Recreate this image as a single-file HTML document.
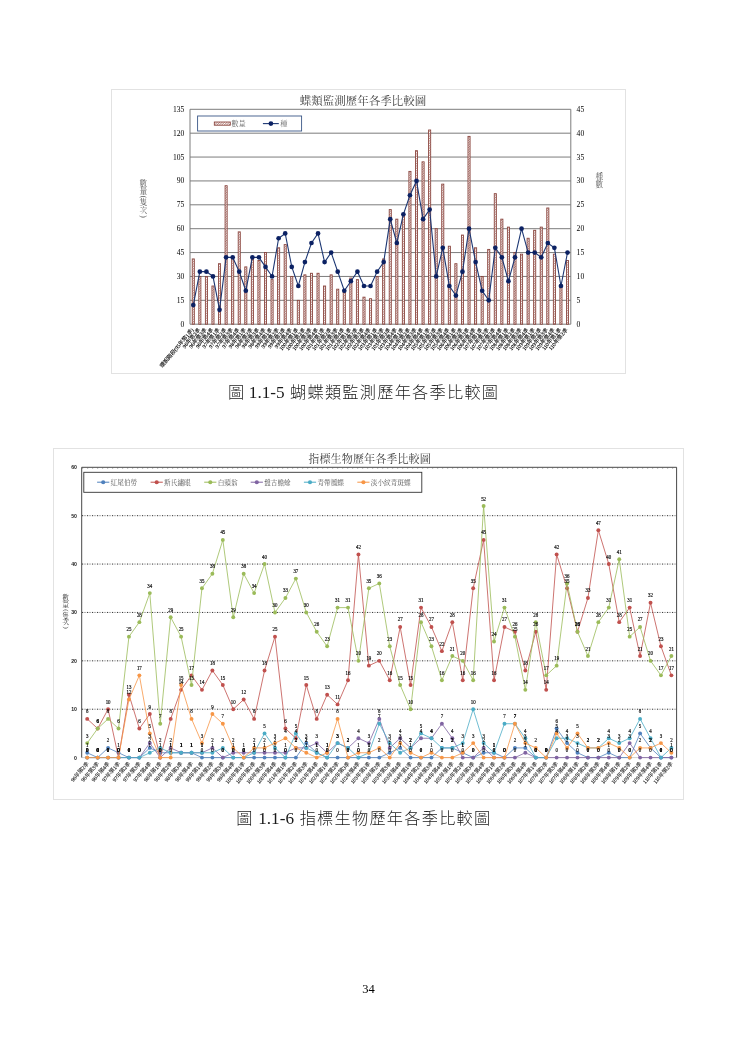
<!DOCTYPE html>
<html lang="zh-Hant"><head><meta charset="utf-8"><title>圖 1.1-5 / 1.1-6</title>
<style>html,body{margin:0;padding:0;background:#fff}body{width:737px;height:1042px;overflow:hidden}</style></head>
<body>
<svg width="737" height="1042" viewBox="0 0 737 1042" style="display:block">
<defs><pattern id="hatch" patternUnits="userSpaceOnUse" width="1.7" height="1.7" patternTransform="rotate(-45)"><rect width="1.7" height="1.7" fill="#fff"/><rect width="1.7" height="0.55" fill="#9a524a"/></pattern></defs>
<rect width="737" height="1042" fill="#fff"/>
<rect x="111.5" y="89.5" width="514.0" height="284.0" fill="#fff" stroke="#e2e2e2" stroke-width="1"/>
<line x1="190.0" x2="570.8" y1="324.20" y2="324.20" stroke="#7c7c7c" stroke-width="1"/>
<text transform="translate(184.40,326.70) scale(0.3800,0.3800)" font-size="20" text-anchor="end" fill="#000" font-weight="normal" font-family='"Liberation Serif","Noto Serif CJK SC","Noto Serif CJK TC",serif' >0</text>
<text transform="translate(576.60,326.70) scale(0.3800,0.3800)" font-size="20" text-anchor="start" fill="#000" font-weight="normal" font-family='"Liberation Serif","Noto Serif CJK SC","Noto Serif CJK TC",serif' >0</text>
<line x1="190.0" x2="570.8" y1="300.32" y2="300.32" stroke="#7c7c7c" stroke-width="1"/>
<text transform="translate(184.40,302.82) scale(0.3800,0.3800)" font-size="20" text-anchor="end" fill="#000" font-weight="normal" font-family='"Liberation Serif","Noto Serif CJK SC","Noto Serif CJK TC",serif' >15</text>
<text transform="translate(576.60,302.82) scale(0.3800,0.3800)" font-size="20" text-anchor="start" fill="#000" font-weight="normal" font-family='"Liberation Serif","Noto Serif CJK SC","Noto Serif CJK TC",serif' >5</text>
<line x1="190.0" x2="570.8" y1="276.44" y2="276.44" stroke="#7c7c7c" stroke-width="1"/>
<text transform="translate(184.40,278.94) scale(0.3800,0.3800)" font-size="20" text-anchor="end" fill="#000" font-weight="normal" font-family='"Liberation Serif","Noto Serif CJK SC","Noto Serif CJK TC",serif' >30</text>
<text transform="translate(576.60,278.94) scale(0.3800,0.3800)" font-size="20" text-anchor="start" fill="#000" font-weight="normal" font-family='"Liberation Serif","Noto Serif CJK SC","Noto Serif CJK TC",serif' >10</text>
<line x1="190.0" x2="570.8" y1="252.57" y2="252.57" stroke="#7c7c7c" stroke-width="1"/>
<text transform="translate(184.40,255.07) scale(0.3800,0.3800)" font-size="20" text-anchor="end" fill="#000" font-weight="normal" font-family='"Liberation Serif","Noto Serif CJK SC","Noto Serif CJK TC",serif' >45</text>
<text transform="translate(576.60,255.07) scale(0.3800,0.3800)" font-size="20" text-anchor="start" fill="#000" font-weight="normal" font-family='"Liberation Serif","Noto Serif CJK SC","Noto Serif CJK TC",serif' >15</text>
<line x1="190.0" x2="570.8" y1="228.69" y2="228.69" stroke="#7c7c7c" stroke-width="1"/>
<text transform="translate(184.40,231.19) scale(0.3800,0.3800)" font-size="20" text-anchor="end" fill="#000" font-weight="normal" font-family='"Liberation Serif","Noto Serif CJK SC","Noto Serif CJK TC",serif' >60</text>
<text transform="translate(576.60,231.19) scale(0.3800,0.3800)" font-size="20" text-anchor="start" fill="#000" font-weight="normal" font-family='"Liberation Serif","Noto Serif CJK SC","Noto Serif CJK TC",serif' >20</text>
<line x1="190.0" x2="570.8" y1="204.81" y2="204.81" stroke="#7c7c7c" stroke-width="1"/>
<text transform="translate(184.40,207.31) scale(0.3800,0.3800)" font-size="20" text-anchor="end" fill="#000" font-weight="normal" font-family='"Liberation Serif","Noto Serif CJK SC","Noto Serif CJK TC",serif' >75</text>
<text transform="translate(576.60,207.31) scale(0.3800,0.3800)" font-size="20" text-anchor="start" fill="#000" font-weight="normal" font-family='"Liberation Serif","Noto Serif CJK SC","Noto Serif CJK TC",serif' >25</text>
<line x1="190.0" x2="570.8" y1="180.93" y2="180.93" stroke="#7c7c7c" stroke-width="1"/>
<text transform="translate(184.40,183.43) scale(0.3800,0.3800)" font-size="20" text-anchor="end" fill="#000" font-weight="normal" font-family='"Liberation Serif","Noto Serif CJK SC","Noto Serif CJK TC",serif' >90</text>
<text transform="translate(576.60,183.43) scale(0.3800,0.3800)" font-size="20" text-anchor="start" fill="#000" font-weight="normal" font-family='"Liberation Serif","Noto Serif CJK SC","Noto Serif CJK TC",serif' >30</text>
<line x1="190.0" x2="570.8" y1="157.06" y2="157.06" stroke="#7c7c7c" stroke-width="1"/>
<text transform="translate(184.40,159.56) scale(0.3800,0.3800)" font-size="20" text-anchor="end" fill="#000" font-weight="normal" font-family='"Liberation Serif","Noto Serif CJK SC","Noto Serif CJK TC",serif' >105</text>
<text transform="translate(576.60,159.56) scale(0.3800,0.3800)" font-size="20" text-anchor="start" fill="#000" font-weight="normal" font-family='"Liberation Serif","Noto Serif CJK SC","Noto Serif CJK TC",serif' >35</text>
<line x1="190.0" x2="570.8" y1="133.18" y2="133.18" stroke="#7c7c7c" stroke-width="1"/>
<text transform="translate(184.40,135.68) scale(0.3800,0.3800)" font-size="20" text-anchor="end" fill="#000" font-weight="normal" font-family='"Liberation Serif","Noto Serif CJK SC","Noto Serif CJK TC",serif' >120</text>
<text transform="translate(576.60,135.68) scale(0.3800,0.3800)" font-size="20" text-anchor="start" fill="#000" font-weight="normal" font-family='"Liberation Serif","Noto Serif CJK SC","Noto Serif CJK TC",serif' >40</text>
<line x1="190.0" x2="570.8" y1="109.30" y2="109.30" stroke="#7c7c7c" stroke-width="1"/>
<text transform="translate(184.40,111.80) scale(0.3800,0.3800)" font-size="20" text-anchor="end" fill="#000" font-weight="normal" font-family='"Liberation Serif","Noto Serif CJK SC","Noto Serif CJK TC",serif' >135</text>
<text transform="translate(576.60,111.80) scale(0.3800,0.3800)" font-size="20" text-anchor="start" fill="#000" font-weight="normal" font-family='"Liberation Serif","Noto Serif CJK SC","Noto Serif CJK TC",serif' >45</text>
<line x1="190.0" x2="190.0" y1="109.3" y2="324.2" stroke="#7c7c7c" stroke-width="1"/>
<line x1="570.8" x2="570.8" y1="109.3" y2="324.2" stroke="#7c7c7c" stroke-width="1"/>
<rect x="192.23" y="258.93" width="2.1" height="65.27" fill="url(#hatch)" stroke="#874039" stroke-width="0.85"/>
<rect x="198.80" y="276.44" width="2.1" height="47.76" fill="url(#hatch)" stroke="#874039" stroke-width="0.85"/>
<rect x="205.36" y="276.44" width="2.1" height="47.76" fill="url(#hatch)" stroke="#874039" stroke-width="0.85"/>
<rect x="211.93" y="286.00" width="2.1" height="38.20" fill="url(#hatch)" stroke="#874039" stroke-width="0.85"/>
<rect x="218.49" y="263.71" width="2.1" height="60.49" fill="url(#hatch)" stroke="#874039" stroke-width="0.85"/>
<rect x="225.06" y="185.71" width="2.1" height="138.49" fill="url(#hatch)" stroke="#874039" stroke-width="0.85"/>
<rect x="231.63" y="257.34" width="2.1" height="66.86" fill="url(#hatch)" stroke="#874039" stroke-width="0.85"/>
<rect x="238.19" y="231.87" width="2.1" height="92.33" fill="url(#hatch)" stroke="#874039" stroke-width="0.85"/>
<rect x="244.76" y="266.89" width="2.1" height="57.31" fill="url(#hatch)" stroke="#874039" stroke-width="0.85"/>
<rect x="251.32" y="258.93" width="2.1" height="65.27" fill="url(#hatch)" stroke="#874039" stroke-width="0.85"/>
<rect x="257.89" y="260.53" width="2.1" height="63.67" fill="url(#hatch)" stroke="#874039" stroke-width="0.85"/>
<rect x="264.45" y="252.57" width="2.1" height="71.63" fill="url(#hatch)" stroke="#874039" stroke-width="0.85"/>
<rect x="271.02" y="279.63" width="2.1" height="44.57" fill="url(#hatch)" stroke="#874039" stroke-width="0.85"/>
<rect x="277.58" y="247.79" width="2.1" height="76.41" fill="url(#hatch)" stroke="#874039" stroke-width="0.85"/>
<rect x="284.15" y="244.61" width="2.1" height="79.59" fill="url(#hatch)" stroke="#874039" stroke-width="0.85"/>
<rect x="290.72" y="276.44" width="2.1" height="47.76" fill="url(#hatch)" stroke="#874039" stroke-width="0.85"/>
<rect x="297.28" y="300.32" width="2.1" height="23.88" fill="url(#hatch)" stroke="#874039" stroke-width="0.85"/>
<rect x="303.85" y="274.85" width="2.1" height="49.35" fill="url(#hatch)" stroke="#874039" stroke-width="0.85"/>
<rect x="310.41" y="273.26" width="2.1" height="50.94" fill="url(#hatch)" stroke="#874039" stroke-width="0.85"/>
<rect x="316.98" y="273.26" width="2.1" height="50.94" fill="url(#hatch)" stroke="#874039" stroke-width="0.85"/>
<rect x="323.54" y="286.00" width="2.1" height="38.20" fill="url(#hatch)" stroke="#874039" stroke-width="0.85"/>
<rect x="330.11" y="274.85" width="2.1" height="49.35" fill="url(#hatch)" stroke="#874039" stroke-width="0.85"/>
<rect x="336.67" y="289.18" width="2.1" height="35.02" fill="url(#hatch)" stroke="#874039" stroke-width="0.85"/>
<rect x="343.24" y="292.36" width="2.1" height="31.84" fill="url(#hatch)" stroke="#874039" stroke-width="0.85"/>
<rect x="349.81" y="278.04" width="2.1" height="46.16" fill="url(#hatch)" stroke="#874039" stroke-width="0.85"/>
<rect x="356.37" y="279.63" width="2.1" height="44.57" fill="url(#hatch)" stroke="#874039" stroke-width="0.85"/>
<rect x="362.94" y="297.14" width="2.1" height="27.06" fill="url(#hatch)" stroke="#874039" stroke-width="0.85"/>
<rect x="369.50" y="298.73" width="2.1" height="25.47" fill="url(#hatch)" stroke="#874039" stroke-width="0.85"/>
<rect x="376.07" y="276.44" width="2.1" height="47.76" fill="url(#hatch)" stroke="#874039" stroke-width="0.85"/>
<rect x="382.63" y="258.93" width="2.1" height="65.27" fill="url(#hatch)" stroke="#874039" stroke-width="0.85"/>
<rect x="389.20" y="209.59" width="2.1" height="114.61" fill="url(#hatch)" stroke="#874039" stroke-width="0.85"/>
<rect x="395.76" y="219.14" width="2.1" height="105.06" fill="url(#hatch)" stroke="#874039" stroke-width="0.85"/>
<rect x="402.33" y="214.36" width="2.1" height="109.84" fill="url(#hatch)" stroke="#874039" stroke-width="0.85"/>
<rect x="408.89" y="171.38" width="2.1" height="152.82" fill="url(#hatch)" stroke="#874039" stroke-width="0.85"/>
<rect x="415.46" y="150.69" width="2.1" height="173.51" fill="url(#hatch)" stroke="#874039" stroke-width="0.85"/>
<rect x="422.03" y="161.83" width="2.1" height="162.37" fill="url(#hatch)" stroke="#874039" stroke-width="0.85"/>
<rect x="428.59" y="129.99" width="2.1" height="194.21" fill="url(#hatch)" stroke="#874039" stroke-width="0.85"/>
<rect x="435.16" y="228.69" width="2.1" height="95.51" fill="url(#hatch)" stroke="#874039" stroke-width="0.85"/>
<rect x="441.72" y="184.12" width="2.1" height="140.08" fill="url(#hatch)" stroke="#874039" stroke-width="0.85"/>
<rect x="448.29" y="246.20" width="2.1" height="78.00" fill="url(#hatch)" stroke="#874039" stroke-width="0.85"/>
<rect x="454.85" y="263.71" width="2.1" height="60.49" fill="url(#hatch)" stroke="#874039" stroke-width="0.85"/>
<rect x="461.42" y="235.06" width="2.1" height="89.14" fill="url(#hatch)" stroke="#874039" stroke-width="0.85"/>
<rect x="467.98" y="136.36" width="2.1" height="187.84" fill="url(#hatch)" stroke="#874039" stroke-width="0.85"/>
<rect x="474.55" y="247.79" width="2.1" height="76.41" fill="url(#hatch)" stroke="#874039" stroke-width="0.85"/>
<rect x="481.12" y="276.44" width="2.1" height="47.76" fill="url(#hatch)" stroke="#874039" stroke-width="0.85"/>
<rect x="487.68" y="249.38" width="2.1" height="74.82" fill="url(#hatch)" stroke="#874039" stroke-width="0.85"/>
<rect x="494.25" y="193.67" width="2.1" height="130.53" fill="url(#hatch)" stroke="#874039" stroke-width="0.85"/>
<rect x="500.81" y="219.14" width="2.1" height="105.06" fill="url(#hatch)" stroke="#874039" stroke-width="0.85"/>
<rect x="507.38" y="227.10" width="2.1" height="97.10" fill="url(#hatch)" stroke="#874039" stroke-width="0.85"/>
<rect x="513.94" y="252.57" width="2.1" height="71.63" fill="url(#hatch)" stroke="#874039" stroke-width="0.85"/>
<rect x="520.51" y="254.16" width="2.1" height="70.04" fill="url(#hatch)" stroke="#874039" stroke-width="0.85"/>
<rect x="527.07" y="238.24" width="2.1" height="85.96" fill="url(#hatch)" stroke="#874039" stroke-width="0.85"/>
<rect x="533.64" y="230.28" width="2.1" height="93.92" fill="url(#hatch)" stroke="#874039" stroke-width="0.85"/>
<rect x="540.21" y="227.10" width="2.1" height="97.10" fill="url(#hatch)" stroke="#874039" stroke-width="0.85"/>
<rect x="546.77" y="207.99" width="2.1" height="116.21" fill="url(#hatch)" stroke="#874039" stroke-width="0.85"/>
<rect x="553.34" y="254.16" width="2.1" height="70.04" fill="url(#hatch)" stroke="#874039" stroke-width="0.85"/>
<rect x="559.90" y="284.40" width="2.1" height="39.80" fill="url(#hatch)" stroke="#874039" stroke-width="0.85"/>
<rect x="566.47" y="260.53" width="2.1" height="63.67" fill="url(#hatch)" stroke="#874039" stroke-width="0.85"/>
<polyline fill="none" stroke="#1c3773" stroke-width="1.1" points="193.28,305.10 199.85,271.67 206.41,271.67 212.98,276.44 219.54,309.87 226.11,257.34 232.68,257.34 239.24,271.67 245.81,290.77 252.37,257.34 258.94,257.34 265.50,266.89 272.07,276.44 278.63,238.24 285.20,233.46 291.77,266.89 298.33,286.00 304.90,262.12 311.46,243.02 318.03,233.46 324.59,262.12 331.16,252.57 337.72,271.67 344.29,290.77 350.86,281.22 357.42,271.67 363.99,286.00 370.55,286.00 377.12,271.67 383.68,262.12 390.25,219.14 396.81,243.02 403.38,214.36 409.94,195.26 416.51,180.93 423.08,219.14 429.64,209.59 436.21,276.44 442.77,247.79 449.34,286.00 455.90,295.55 462.47,271.67 469.03,228.69 475.60,262.12 482.17,290.77 488.73,300.32 495.30,247.79 501.86,257.34 508.43,281.22 514.99,257.34 521.56,228.69 528.12,252.57 534.69,252.57 541.26,257.34 547.82,243.02 554.39,247.79 560.95,286.00 567.52,252.57"/>
<circle cx="193.28" cy="305.10" r="2.35" fill="#0b2163"/>
<circle cx="199.85" cy="271.67" r="2.35" fill="#0b2163"/>
<circle cx="206.41" cy="271.67" r="2.35" fill="#0b2163"/>
<circle cx="212.98" cy="276.44" r="2.35" fill="#0b2163"/>
<circle cx="219.54" cy="309.87" r="2.35" fill="#0b2163"/>
<circle cx="226.11" cy="257.34" r="2.35" fill="#0b2163"/>
<circle cx="232.68" cy="257.34" r="2.35" fill="#0b2163"/>
<circle cx="239.24" cy="271.67" r="2.35" fill="#0b2163"/>
<circle cx="245.81" cy="290.77" r="2.35" fill="#0b2163"/>
<circle cx="252.37" cy="257.34" r="2.35" fill="#0b2163"/>
<circle cx="258.94" cy="257.34" r="2.35" fill="#0b2163"/>
<circle cx="265.50" cy="266.89" r="2.35" fill="#0b2163"/>
<circle cx="272.07" cy="276.44" r="2.35" fill="#0b2163"/>
<circle cx="278.63" cy="238.24" r="2.35" fill="#0b2163"/>
<circle cx="285.20" cy="233.46" r="2.35" fill="#0b2163"/>
<circle cx="291.77" cy="266.89" r="2.35" fill="#0b2163"/>
<circle cx="298.33" cy="286.00" r="2.35" fill="#0b2163"/>
<circle cx="304.90" cy="262.12" r="2.35" fill="#0b2163"/>
<circle cx="311.46" cy="243.02" r="2.35" fill="#0b2163"/>
<circle cx="318.03" cy="233.46" r="2.35" fill="#0b2163"/>
<circle cx="324.59" cy="262.12" r="2.35" fill="#0b2163"/>
<circle cx="331.16" cy="252.57" r="2.35" fill="#0b2163"/>
<circle cx="337.72" cy="271.67" r="2.35" fill="#0b2163"/>
<circle cx="344.29" cy="290.77" r="2.35" fill="#0b2163"/>
<circle cx="350.86" cy="281.22" r="2.35" fill="#0b2163"/>
<circle cx="357.42" cy="271.67" r="2.35" fill="#0b2163"/>
<circle cx="363.99" cy="286.00" r="2.35" fill="#0b2163"/>
<circle cx="370.55" cy="286.00" r="2.35" fill="#0b2163"/>
<circle cx="377.12" cy="271.67" r="2.35" fill="#0b2163"/>
<circle cx="383.68" cy="262.12" r="2.35" fill="#0b2163"/>
<circle cx="390.25" cy="219.14" r="2.35" fill="#0b2163"/>
<circle cx="396.81" cy="243.02" r="2.35" fill="#0b2163"/>
<circle cx="403.38" cy="214.36" r="2.35" fill="#0b2163"/>
<circle cx="409.94" cy="195.26" r="2.35" fill="#0b2163"/>
<circle cx="416.51" cy="180.93" r="2.35" fill="#0b2163"/>
<circle cx="423.08" cy="219.14" r="2.35" fill="#0b2163"/>
<circle cx="429.64" cy="209.59" r="2.35" fill="#0b2163"/>
<circle cx="436.21" cy="276.44" r="2.35" fill="#0b2163"/>
<circle cx="442.77" cy="247.79" r="2.35" fill="#0b2163"/>
<circle cx="449.34" cy="286.00" r="2.35" fill="#0b2163"/>
<circle cx="455.90" cy="295.55" r="2.35" fill="#0b2163"/>
<circle cx="462.47" cy="271.67" r="2.35" fill="#0b2163"/>
<circle cx="469.03" cy="228.69" r="2.35" fill="#0b2163"/>
<circle cx="475.60" cy="262.12" r="2.35" fill="#0b2163"/>
<circle cx="482.17" cy="290.77" r="2.35" fill="#0b2163"/>
<circle cx="488.73" cy="300.32" r="2.35" fill="#0b2163"/>
<circle cx="495.30" cy="247.79" r="2.35" fill="#0b2163"/>
<circle cx="501.86" cy="257.34" r="2.35" fill="#0b2163"/>
<circle cx="508.43" cy="281.22" r="2.35" fill="#0b2163"/>
<circle cx="514.99" cy="257.34" r="2.35" fill="#0b2163"/>
<circle cx="521.56" cy="228.69" r="2.35" fill="#0b2163"/>
<circle cx="528.12" cy="252.57" r="2.35" fill="#0b2163"/>
<circle cx="534.69" cy="252.57" r="2.35" fill="#0b2163"/>
<circle cx="541.26" cy="257.34" r="2.35" fill="#0b2163"/>
<circle cx="547.82" cy="243.02" r="2.35" fill="#0b2163"/>
<circle cx="554.39" cy="247.79" r="2.35" fill="#0b2163"/>
<circle cx="560.95" cy="286.00" r="2.35" fill="#0b2163"/>
<circle cx="567.52" cy="252.57" r="2.35" fill="#0b2163"/>
<text transform="translate(194.03,330.10) rotate(-50) scale(0.2700,0.2700)" font-size="20" text-anchor="end" fill="#000" font-weight="normal" font-family='"Liberation Serif","Noto Serif CJK SC","Noto Serif CJK TC",serif'  stroke="#000" stroke-width="0.48" stroke-linejoin="round">環說階段(95年第1季)</text>
<text transform="translate(200.60,330.10) rotate(-50) scale(0.2700,0.2700)" font-size="20" text-anchor="end" fill="#000" font-weight="normal" font-family='"Liberation Serif","Noto Serif CJK SC","Noto Serif CJK TC",serif'  stroke="#000" stroke-width="0.48" stroke-linejoin="round">96年第2季</text>
<text transform="translate(207.16,330.10) rotate(-50) scale(0.2700,0.2700)" font-size="20" text-anchor="end" fill="#000" font-weight="normal" font-family='"Liberation Serif","Noto Serif CJK SC","Noto Serif CJK TC",serif'  stroke="#000" stroke-width="0.48" stroke-linejoin="round">96年第3季</text>
<text transform="translate(213.73,330.10) rotate(-50) scale(0.2700,0.2700)" font-size="20" text-anchor="end" fill="#000" font-weight="normal" font-family='"Liberation Serif","Noto Serif CJK SC","Noto Serif CJK TC",serif'  stroke="#000" stroke-width="0.48" stroke-linejoin="round">96年第4季</text>
<text transform="translate(220.29,330.10) rotate(-50) scale(0.2700,0.2700)" font-size="20" text-anchor="end" fill="#000" font-weight="normal" font-family='"Liberation Serif","Noto Serif CJK SC","Noto Serif CJK TC",serif'  stroke="#000" stroke-width="0.48" stroke-linejoin="round">97年第1季</text>
<text transform="translate(226.86,330.10) rotate(-50) scale(0.2700,0.2700)" font-size="20" text-anchor="end" fill="#000" font-weight="normal" font-family='"Liberation Serif","Noto Serif CJK SC","Noto Serif CJK TC",serif'  stroke="#000" stroke-width="0.48" stroke-linejoin="round">97年第2季</text>
<text transform="translate(233.43,330.10) rotate(-50) scale(0.2700,0.2700)" font-size="20" text-anchor="end" fill="#000" font-weight="normal" font-family='"Liberation Serif","Noto Serif CJK SC","Noto Serif CJK TC",serif'  stroke="#000" stroke-width="0.48" stroke-linejoin="round">97年第3季</text>
<text transform="translate(239.99,330.10) rotate(-50) scale(0.2700,0.2700)" font-size="20" text-anchor="end" fill="#000" font-weight="normal" font-family='"Liberation Serif","Noto Serif CJK SC","Noto Serif CJK TC",serif'  stroke="#000" stroke-width="0.48" stroke-linejoin="round">97年第4季</text>
<text transform="translate(246.56,330.10) rotate(-50) scale(0.2700,0.2700)" font-size="20" text-anchor="end" fill="#000" font-weight="normal" font-family='"Liberation Serif","Noto Serif CJK SC","Noto Serif CJK TC",serif'  stroke="#000" stroke-width="0.48" stroke-linejoin="round">98年第1季</text>
<text transform="translate(253.12,330.10) rotate(-50) scale(0.2700,0.2700)" font-size="20" text-anchor="end" fill="#000" font-weight="normal" font-family='"Liberation Serif","Noto Serif CJK SC","Noto Serif CJK TC",serif'  stroke="#000" stroke-width="0.48" stroke-linejoin="round">98年第2季</text>
<text transform="translate(259.69,330.10) rotate(-50) scale(0.2700,0.2700)" font-size="20" text-anchor="end" fill="#000" font-weight="normal" font-family='"Liberation Serif","Noto Serif CJK SC","Noto Serif CJK TC",serif'  stroke="#000" stroke-width="0.48" stroke-linejoin="round">98年第3季</text>
<text transform="translate(266.25,330.10) rotate(-50) scale(0.2700,0.2700)" font-size="20" text-anchor="end" fill="#000" font-weight="normal" font-family='"Liberation Serif","Noto Serif CJK SC","Noto Serif CJK TC",serif'  stroke="#000" stroke-width="0.48" stroke-linejoin="round">98年第4季</text>
<text transform="translate(272.82,330.10) rotate(-50) scale(0.2700,0.2700)" font-size="20" text-anchor="end" fill="#000" font-weight="normal" font-family='"Liberation Serif","Noto Serif CJK SC","Noto Serif CJK TC",serif'  stroke="#000" stroke-width="0.48" stroke-linejoin="round">99年第1季</text>
<text transform="translate(279.38,330.10) rotate(-50) scale(0.2700,0.2700)" font-size="20" text-anchor="end" fill="#000" font-weight="normal" font-family='"Liberation Serif","Noto Serif CJK SC","Noto Serif CJK TC",serif'  stroke="#000" stroke-width="0.48" stroke-linejoin="round">99年第2季</text>
<text transform="translate(285.95,330.10) rotate(-50) scale(0.2700,0.2700)" font-size="20" text-anchor="end" fill="#000" font-weight="normal" font-family='"Liberation Serif","Noto Serif CJK SC","Noto Serif CJK TC",serif'  stroke="#000" stroke-width="0.48" stroke-linejoin="round">99年第3季</text>
<text transform="translate(292.52,330.10) rotate(-50) scale(0.2700,0.2700)" font-size="20" text-anchor="end" fill="#000" font-weight="normal" font-family='"Liberation Serif","Noto Serif CJK SC","Noto Serif CJK TC",serif'  stroke="#000" stroke-width="0.48" stroke-linejoin="round">99年第4季</text>
<text transform="translate(299.08,330.10) rotate(-50) scale(0.2700,0.2700)" font-size="20" text-anchor="end" fill="#000" font-weight="normal" font-family='"Liberation Serif","Noto Serif CJK SC","Noto Serif CJK TC",serif'  stroke="#000" stroke-width="0.48" stroke-linejoin="round">100年第1季</text>
<text transform="translate(305.65,330.10) rotate(-50) scale(0.2700,0.2700)" font-size="20" text-anchor="end" fill="#000" font-weight="normal" font-family='"Liberation Serif","Noto Serif CJK SC","Noto Serif CJK TC",serif'  stroke="#000" stroke-width="0.48" stroke-linejoin="round">100年第2季</text>
<text transform="translate(312.21,330.10) rotate(-50) scale(0.2700,0.2700)" font-size="20" text-anchor="end" fill="#000" font-weight="normal" font-family='"Liberation Serif","Noto Serif CJK SC","Noto Serif CJK TC",serif'  stroke="#000" stroke-width="0.48" stroke-linejoin="round">100年第3季</text>
<text transform="translate(318.78,330.10) rotate(-50) scale(0.2700,0.2700)" font-size="20" text-anchor="end" fill="#000" font-weight="normal" font-family='"Liberation Serif","Noto Serif CJK SC","Noto Serif CJK TC",serif'  stroke="#000" stroke-width="0.48" stroke-linejoin="round">100年第4季</text>
<text transform="translate(325.34,330.10) rotate(-50) scale(0.2700,0.2700)" font-size="20" text-anchor="end" fill="#000" font-weight="normal" font-family='"Liberation Serif","Noto Serif CJK SC","Noto Serif CJK TC",serif'  stroke="#000" stroke-width="0.48" stroke-linejoin="round">101年第1季</text>
<text transform="translate(331.91,330.10) rotate(-50) scale(0.2700,0.2700)" font-size="20" text-anchor="end" fill="#000" font-weight="normal" font-family='"Liberation Serif","Noto Serif CJK SC","Noto Serif CJK TC",serif'  stroke="#000" stroke-width="0.48" stroke-linejoin="round">101年第2季</text>
<text transform="translate(338.47,330.10) rotate(-50) scale(0.2700,0.2700)" font-size="20" text-anchor="end" fill="#000" font-weight="normal" font-family='"Liberation Serif","Noto Serif CJK SC","Noto Serif CJK TC",serif'  stroke="#000" stroke-width="0.48" stroke-linejoin="round">101年第3季</text>
<text transform="translate(345.04,330.10) rotate(-50) scale(0.2700,0.2700)" font-size="20" text-anchor="end" fill="#000" font-weight="normal" font-family='"Liberation Serif","Noto Serif CJK SC","Noto Serif CJK TC",serif'  stroke="#000" stroke-width="0.48" stroke-linejoin="round">101年第4季</text>
<text transform="translate(351.61,330.10) rotate(-50) scale(0.2700,0.2700)" font-size="20" text-anchor="end" fill="#000" font-weight="normal" font-family='"Liberation Serif","Noto Serif CJK SC","Noto Serif CJK TC",serif'  stroke="#000" stroke-width="0.48" stroke-linejoin="round">102年第1季</text>
<text transform="translate(358.17,330.10) rotate(-50) scale(0.2700,0.2700)" font-size="20" text-anchor="end" fill="#000" font-weight="normal" font-family='"Liberation Serif","Noto Serif CJK SC","Noto Serif CJK TC",serif'  stroke="#000" stroke-width="0.48" stroke-linejoin="round">102年第2季</text>
<text transform="translate(364.74,330.10) rotate(-50) scale(0.2700,0.2700)" font-size="20" text-anchor="end" fill="#000" font-weight="normal" font-family='"Liberation Serif","Noto Serif CJK SC","Noto Serif CJK TC",serif'  stroke="#000" stroke-width="0.48" stroke-linejoin="round">102年第3季</text>
<text transform="translate(371.30,330.10) rotate(-50) scale(0.2700,0.2700)" font-size="20" text-anchor="end" fill="#000" font-weight="normal" font-family='"Liberation Serif","Noto Serif CJK SC","Noto Serif CJK TC",serif'  stroke="#000" stroke-width="0.48" stroke-linejoin="round">102年第4季</text>
<text transform="translate(377.87,330.10) rotate(-50) scale(0.2700,0.2700)" font-size="20" text-anchor="end" fill="#000" font-weight="normal" font-family='"Liberation Serif","Noto Serif CJK SC","Noto Serif CJK TC",serif'  stroke="#000" stroke-width="0.48" stroke-linejoin="round">103年第1季</text>
<text transform="translate(384.43,330.10) rotate(-50) scale(0.2700,0.2700)" font-size="20" text-anchor="end" fill="#000" font-weight="normal" font-family='"Liberation Serif","Noto Serif CJK SC","Noto Serif CJK TC",serif'  stroke="#000" stroke-width="0.48" stroke-linejoin="round">103年第2季</text>
<text transform="translate(391.00,330.10) rotate(-50) scale(0.2700,0.2700)" font-size="20" text-anchor="end" fill="#000" font-weight="normal" font-family='"Liberation Serif","Noto Serif CJK SC","Noto Serif CJK TC",serif'  stroke="#000" stroke-width="0.48" stroke-linejoin="round">103年第3季</text>
<text transform="translate(397.56,330.10) rotate(-50) scale(0.2700,0.2700)" font-size="20" text-anchor="end" fill="#000" font-weight="normal" font-family='"Liberation Serif","Noto Serif CJK SC","Noto Serif CJK TC",serif'  stroke="#000" stroke-width="0.48" stroke-linejoin="round">103年第4季</text>
<text transform="translate(404.13,330.10) rotate(-50) scale(0.2700,0.2700)" font-size="20" text-anchor="end" fill="#000" font-weight="normal" font-family='"Liberation Serif","Noto Serif CJK SC","Noto Serif CJK TC",serif'  stroke="#000" stroke-width="0.48" stroke-linejoin="round">104年第1季</text>
<text transform="translate(410.69,330.10) rotate(-50) scale(0.2700,0.2700)" font-size="20" text-anchor="end" fill="#000" font-weight="normal" font-family='"Liberation Serif","Noto Serif CJK SC","Noto Serif CJK TC",serif'  stroke="#000" stroke-width="0.48" stroke-linejoin="round">104年第2季</text>
<text transform="translate(417.26,330.10) rotate(-50) scale(0.2700,0.2700)" font-size="20" text-anchor="end" fill="#000" font-weight="normal" font-family='"Liberation Serif","Noto Serif CJK SC","Noto Serif CJK TC",serif'  stroke="#000" stroke-width="0.48" stroke-linejoin="round">104年第3季</text>
<text transform="translate(423.83,330.10) rotate(-50) scale(0.2700,0.2700)" font-size="20" text-anchor="end" fill="#000" font-weight="normal" font-family='"Liberation Serif","Noto Serif CJK SC","Noto Serif CJK TC",serif'  stroke="#000" stroke-width="0.48" stroke-linejoin="round">104年第4季</text>
<text transform="translate(430.39,330.10) rotate(-50) scale(0.2700,0.2700)" font-size="20" text-anchor="end" fill="#000" font-weight="normal" font-family='"Liberation Serif","Noto Serif CJK SC","Noto Serif CJK TC",serif'  stroke="#000" stroke-width="0.48" stroke-linejoin="round">105年第1季</text>
<text transform="translate(436.96,330.10) rotate(-50) scale(0.2700,0.2700)" font-size="20" text-anchor="end" fill="#000" font-weight="normal" font-family='"Liberation Serif","Noto Serif CJK SC","Noto Serif CJK TC",serif'  stroke="#000" stroke-width="0.48" stroke-linejoin="round">105年第2季</text>
<text transform="translate(443.52,330.10) rotate(-50) scale(0.2700,0.2700)" font-size="20" text-anchor="end" fill="#000" font-weight="normal" font-family='"Liberation Serif","Noto Serif CJK SC","Noto Serif CJK TC",serif'  stroke="#000" stroke-width="0.48" stroke-linejoin="round">105年第3季</text>
<text transform="translate(450.09,330.10) rotate(-50) scale(0.2700,0.2700)" font-size="20" text-anchor="end" fill="#000" font-weight="normal" font-family='"Liberation Serif","Noto Serif CJK SC","Noto Serif CJK TC",serif'  stroke="#000" stroke-width="0.48" stroke-linejoin="round">105年第4季</text>
<text transform="translate(456.65,330.10) rotate(-50) scale(0.2700,0.2700)" font-size="20" text-anchor="end" fill="#000" font-weight="normal" font-family='"Liberation Serif","Noto Serif CJK SC","Noto Serif CJK TC",serif'  stroke="#000" stroke-width="0.48" stroke-linejoin="round">106年第1季</text>
<text transform="translate(463.22,330.10) rotate(-50) scale(0.2700,0.2700)" font-size="20" text-anchor="end" fill="#000" font-weight="normal" font-family='"Liberation Serif","Noto Serif CJK SC","Noto Serif CJK TC",serif'  stroke="#000" stroke-width="0.48" stroke-linejoin="round">106年第2季</text>
<text transform="translate(469.78,330.10) rotate(-50) scale(0.2700,0.2700)" font-size="20" text-anchor="end" fill="#000" font-weight="normal" font-family='"Liberation Serif","Noto Serif CJK SC","Noto Serif CJK TC",serif'  stroke="#000" stroke-width="0.48" stroke-linejoin="round">106年第3季</text>
<text transform="translate(476.35,330.10) rotate(-50) scale(0.2700,0.2700)" font-size="20" text-anchor="end" fill="#000" font-weight="normal" font-family='"Liberation Serif","Noto Serif CJK SC","Noto Serif CJK TC",serif'  stroke="#000" stroke-width="0.48" stroke-linejoin="round">106年第4季</text>
<text transform="translate(482.92,330.10) rotate(-50) scale(0.2700,0.2700)" font-size="20" text-anchor="end" fill="#000" font-weight="normal" font-family='"Liberation Serif","Noto Serif CJK SC","Noto Serif CJK TC",serif'  stroke="#000" stroke-width="0.48" stroke-linejoin="round">107年第1季</text>
<text transform="translate(489.48,330.10) rotate(-50) scale(0.2700,0.2700)" font-size="20" text-anchor="end" fill="#000" font-weight="normal" font-family='"Liberation Serif","Noto Serif CJK SC","Noto Serif CJK TC",serif'  stroke="#000" stroke-width="0.48" stroke-linejoin="round">107年第2季</text>
<text transform="translate(496.05,330.10) rotate(-50) scale(0.2700,0.2700)" font-size="20" text-anchor="end" fill="#000" font-weight="normal" font-family='"Liberation Serif","Noto Serif CJK SC","Noto Serif CJK TC",serif'  stroke="#000" stroke-width="0.48" stroke-linejoin="round">107年第3季</text>
<text transform="translate(502.61,330.10) rotate(-50) scale(0.2700,0.2700)" font-size="20" text-anchor="end" fill="#000" font-weight="normal" font-family='"Liberation Serif","Noto Serif CJK SC","Noto Serif CJK TC",serif'  stroke="#000" stroke-width="0.48" stroke-linejoin="round">107年第4季</text>
<text transform="translate(509.18,330.10) rotate(-50) scale(0.2700,0.2700)" font-size="20" text-anchor="end" fill="#000" font-weight="normal" font-family='"Liberation Serif","Noto Serif CJK SC","Noto Serif CJK TC",serif'  stroke="#000" stroke-width="0.48" stroke-linejoin="round">108年第1季</text>
<text transform="translate(515.74,330.10) rotate(-50) scale(0.2700,0.2700)" font-size="20" text-anchor="end" fill="#000" font-weight="normal" font-family='"Liberation Serif","Noto Serif CJK SC","Noto Serif CJK TC",serif'  stroke="#000" stroke-width="0.48" stroke-linejoin="round">108年第2季</text>
<text transform="translate(522.31,330.10) rotate(-50) scale(0.2700,0.2700)" font-size="20" text-anchor="end" fill="#000" font-weight="normal" font-family='"Liberation Serif","Noto Serif CJK SC","Noto Serif CJK TC",serif'  stroke="#000" stroke-width="0.48" stroke-linejoin="round">108年第3季</text>
<text transform="translate(528.87,330.10) rotate(-50) scale(0.2700,0.2700)" font-size="20" text-anchor="end" fill="#000" font-weight="normal" font-family='"Liberation Serif","Noto Serif CJK SC","Noto Serif CJK TC",serif'  stroke="#000" stroke-width="0.48" stroke-linejoin="round">108年第4季</text>
<text transform="translate(535.44,330.10) rotate(-50) scale(0.2700,0.2700)" font-size="20" text-anchor="end" fill="#000" font-weight="normal" font-family='"Liberation Serif","Noto Serif CJK SC","Noto Serif CJK TC",serif'  stroke="#000" stroke-width="0.48" stroke-linejoin="round">109年第1季</text>
<text transform="translate(542.01,330.10) rotate(-50) scale(0.2700,0.2700)" font-size="20" text-anchor="end" fill="#000" font-weight="normal" font-family='"Liberation Serif","Noto Serif CJK SC","Noto Serif CJK TC",serif'  stroke="#000" stroke-width="0.48" stroke-linejoin="round">109年第2季</text>
<text transform="translate(548.57,330.10) rotate(-50) scale(0.2700,0.2700)" font-size="20" text-anchor="end" fill="#000" font-weight="normal" font-family='"Liberation Serif","Noto Serif CJK SC","Noto Serif CJK TC",serif'  stroke="#000" stroke-width="0.48" stroke-linejoin="round">109年第3季</text>
<text transform="translate(555.14,330.10) rotate(-50) scale(0.2700,0.2700)" font-size="20" text-anchor="end" fill="#000" font-weight="normal" font-family='"Liberation Serif","Noto Serif CJK SC","Noto Serif CJK TC",serif'  stroke="#000" stroke-width="0.48" stroke-linejoin="round">109年第4季</text>
<text transform="translate(561.70,330.10) rotate(-50) scale(0.2700,0.2700)" font-size="20" text-anchor="end" fill="#000" font-weight="normal" font-family='"Liberation Serif","Noto Serif CJK SC","Noto Serif CJK TC",serif'  stroke="#000" stroke-width="0.48" stroke-linejoin="round">110年第1季</text>
<text transform="translate(568.27,330.10) rotate(-50) scale(0.2700,0.2700)" font-size="20" text-anchor="end" fill="#000" font-weight="normal" font-family='"Liberation Serif","Noto Serif CJK SC","Noto Serif CJK TC",serif'  stroke="#000" stroke-width="0.48" stroke-linejoin="round">110年第2季</text>
<text transform="translate(363.00,105.40) scale(0.5750,0.5750)" font-size="20" text-anchor="middle" fill="#404040" font-weight="normal" font-family='"Liberation Serif","Noto Serif CJK SC","Noto Serif CJK TC",serif' >蝶類監測歷年各季比較圖</text>
<rect x="197.6" y="116" width="104" height="15" fill="#fff" stroke="#3b5787" stroke-width="0.9"/>
<rect x="214.3" y="122" width="16" height="3.2" fill="url(#hatch)" stroke="#874039" stroke-width="0.85"/>
<text transform="translate(231.20,126.30) scale(0.3650,0.3650)" font-size="20" text-anchor="start" fill="#6e6e6e" font-weight="normal" font-family='"Liberation Serif","Noto Serif CJK SC","Noto Serif CJK TC",serif' >數量</text>
<line x1="262.9" x2="278.8" y1="123.6" y2="123.6" stroke="#1c3773" stroke-width="1.1"/>
<circle cx="270.9" cy="123.6" r="2.35" fill="#0b2163"/>
<text transform="translate(280.20,126.30) scale(0.3650,0.3650)" font-size="20" text-anchor="start" fill="#6e6e6e" font-weight="normal" font-family='"Liberation Serif","Noto Serif CJK SC","Noto Serif CJK TC",serif' >種</text>
<text transform="translate(143.40,186.04) scale(0.3800,0.3800)" font-size="20" text-anchor="middle" fill="#595959" font-weight="normal" font-family='"Liberation Serif","Noto Serif CJK SC","Noto Serif CJK TC",serif' >數</text>
<text transform="translate(143.40,193.64) scale(0.3800,0.3800)" font-size="20" text-anchor="middle" fill="#595959" font-weight="normal" font-family='"Liberation Serif","Noto Serif CJK SC","Noto Serif CJK TC",serif' >量</text>
<text transform="translate(141.27,197.13) rotate(90) scale(0.3800,0.3800)" font-size="20" text-anchor="middle" fill="#595959" font-weight="normal" font-family='"Liberation Serif","Noto Serif CJK SC","Noto Serif CJK TC",serif' >(</text>
<text transform="translate(143.40,205.42) scale(0.3800,0.3800)" font-size="20" text-anchor="middle" fill="#595959" font-weight="normal" font-family='"Liberation Serif","Noto Serif CJK SC","Noto Serif CJK TC",serif' >隻</text>
<text transform="translate(143.40,213.02) scale(0.3800,0.3800)" font-size="20" text-anchor="middle" fill="#595959" font-weight="normal" font-family='"Liberation Serif","Noto Serif CJK SC","Noto Serif CJK TC",serif' >次</text>
<text transform="translate(141.27,216.51) rotate(90) scale(0.3800,0.3800)" font-size="20" text-anchor="middle" fill="#595959" font-weight="normal" font-family='"Liberation Serif","Noto Serif CJK SC","Noto Serif CJK TC",serif' >)</text>
<text transform="translate(599.40,178.84) scale(0.3800,0.3800)" font-size="20" text-anchor="middle" fill="#595959" font-weight="normal" font-family='"Liberation Serif","Noto Serif CJK SC","Noto Serif CJK TC",serif' >種</text>
<text transform="translate(599.40,187.04) scale(0.3800,0.3800)" font-size="20" text-anchor="middle" fill="#595959" font-weight="normal" font-family='"Liberation Serif","Noto Serif CJK SC","Noto Serif CJK TC",serif' >數</text>
<text y="397.9" fill="#1a1a1a"><tspan x="228.1" font-family='"Noto Sans CJK TC","Noto Sans CJK SC",sans-serif' font-weight="300" font-size="16.2" letter-spacing="1.25">圖</tspan><tspan x="248.80" font-size="17.2" font-family='"Liberation Serif",serif'>1.1-5</tspan><tspan x="290.05" font-family='"Noto Sans CJK TC","Noto Sans CJK SC",sans-serif' font-weight="300" font-size="16.2" letter-spacing="1.25">蝴蝶類監測歷年各季比較圖</tspan></text>
<rect x="53.5" y="448.5" width="630.0" height="351.0" fill="#fff" stroke="#e2e2e2" stroke-width="1"/>
<line x1="82.0" x2="676.6" y1="757.6" y2="757.6" stroke="#d0d0d0" stroke-width="1"/>
<text transform="translate(77.00,759.50) scale(0.2600,0.2600)" font-size="20" text-anchor="end" fill="#222" font-weight="bold" font-family='"Liberation Sans","Noto Sans CJK TC","Noto Sans CJK SC",sans-serif' >0</text>
<line x1="82.0" x2="676.6" y1="709.22" y2="709.22" stroke="#9c9c9c" stroke-width="0.8" stroke-dasharray="2.2 2.8" stroke-dashoffset="-2"/>
<line x1="82.0" x2="676.6" y1="709.22" y2="709.22" stroke="#1c1c1c" stroke-width="0.9" stroke-dasharray="1.2 3.8"/>
<text transform="translate(77.00,711.12) scale(0.2600,0.2600)" font-size="20" text-anchor="end" fill="#222" font-weight="bold" font-family='"Liberation Sans","Noto Sans CJK TC","Noto Sans CJK SC",sans-serif' >10</text>
<line x1="82.0" x2="676.6" y1="660.83" y2="660.83" stroke="#9c9c9c" stroke-width="0.8" stroke-dasharray="2.2 2.8" stroke-dashoffset="-2"/>
<line x1="82.0" x2="676.6" y1="660.83" y2="660.83" stroke="#1c1c1c" stroke-width="0.9" stroke-dasharray="1.2 3.8"/>
<text transform="translate(77.00,662.73) scale(0.2600,0.2600)" font-size="20" text-anchor="end" fill="#222" font-weight="bold" font-family='"Liberation Sans","Noto Sans CJK TC","Noto Sans CJK SC",sans-serif' >20</text>
<line x1="82.0" x2="676.6" y1="612.45" y2="612.45" stroke="#9c9c9c" stroke-width="0.8" stroke-dasharray="2.2 2.8" stroke-dashoffset="-2"/>
<line x1="82.0" x2="676.6" y1="612.45" y2="612.45" stroke="#1c1c1c" stroke-width="0.9" stroke-dasharray="1.2 3.8"/>
<text transform="translate(77.00,614.35) scale(0.2600,0.2600)" font-size="20" text-anchor="end" fill="#222" font-weight="bold" font-family='"Liberation Sans","Noto Sans CJK TC","Noto Sans CJK SC",sans-serif' >30</text>
<line x1="82.0" x2="676.6" y1="564.07" y2="564.07" stroke="#9c9c9c" stroke-width="0.8" stroke-dasharray="2.2 2.8" stroke-dashoffset="-2"/>
<line x1="82.0" x2="676.6" y1="564.07" y2="564.07" stroke="#1c1c1c" stroke-width="0.9" stroke-dasharray="1.2 3.8"/>
<text transform="translate(77.00,565.97) scale(0.2600,0.2600)" font-size="20" text-anchor="end" fill="#222" font-weight="bold" font-family='"Liberation Sans","Noto Sans CJK TC","Noto Sans CJK SC",sans-serif' >40</text>
<line x1="82.0" x2="676.6" y1="515.68" y2="515.68" stroke="#9c9c9c" stroke-width="0.8" stroke-dasharray="2.2 2.8" stroke-dashoffset="-2"/>
<line x1="82.0" x2="676.6" y1="515.68" y2="515.68" stroke="#1c1c1c" stroke-width="0.9" stroke-dasharray="1.2 3.8"/>
<text transform="translate(77.00,517.58) scale(0.2600,0.2600)" font-size="20" text-anchor="end" fill="#222" font-weight="bold" font-family='"Liberation Sans","Noto Sans CJK TC","Noto Sans CJK SC",sans-serif' >50</text>
<text transform="translate(77.00,469.20) scale(0.2600,0.2600)" font-size="20" text-anchor="end" fill="#222" font-weight="bold" font-family='"Liberation Sans","Noto Sans CJK TC","Noto Sans CJK SC",sans-serif' >60</text>
<polyline fill="none" stroke="#333" stroke-width="0.9" points="81.7,757.6 81.7,467.3 676.6,467.3 676.6,757.6"/>
<line x1="82.0" x2="676.6" y1="468.2" y2="468.2" stroke="#555" stroke-width="0.5" stroke-dasharray="1.2 3.8"/>
<polyline fill="none" stroke="#4f81bd" stroke-width="0.8" stroke-linejoin="round" points="87.22,752.76 97.65,757.60 108.08,747.92 118.51,752.76 128.94,757.60 139.37,757.60 149.81,747.92 160.24,752.76 170.67,752.76 181.10,752.76 191.53,752.76 201.96,757.60 212.39,757.60 222.83,757.60 233.26,757.60 243.69,757.60 254.12,757.60 264.55,757.60 274.98,757.60 285.42,757.60 295.85,757.60 306.28,743.09 316.71,752.76 327.14,757.60 337.57,757.60 348.01,757.60 358.44,757.60 368.87,757.60 379.30,757.60 389.73,752.76 400.16,747.92 410.59,757.60 421.03,757.60 431.46,757.60 441.89,747.92 452.32,747.92 462.75,752.76 473.18,757.60 483.62,752.76 494.05,752.76 504.48,757.60 514.91,747.92 525.34,747.92 535.77,757.60 546.21,757.60 556.64,728.57 567.07,743.09 577.50,752.76 587.93,757.60 598.36,757.60 608.79,752.76 619.23,757.60 629.66,757.60 640.09,733.41 650.52,747.92 660.95,757.60 671.38,757.60"/>
<circle cx="87.22" cy="752.76" r="1.95" fill="#4f81bd"/>
<circle cx="97.65" cy="757.60" r="1.95" fill="#4f81bd"/>
<circle cx="108.08" cy="747.92" r="1.95" fill="#4f81bd"/>
<circle cx="118.51" cy="752.76" r="1.95" fill="#4f81bd"/>
<circle cx="128.94" cy="757.60" r="1.95" fill="#4f81bd"/>
<circle cx="139.37" cy="757.60" r="1.95" fill="#4f81bd"/>
<circle cx="149.81" cy="747.92" r="1.95" fill="#4f81bd"/>
<circle cx="160.24" cy="752.76" r="1.95" fill="#4f81bd"/>
<circle cx="170.67" cy="752.76" r="1.95" fill="#4f81bd"/>
<circle cx="181.10" cy="752.76" r="1.95" fill="#4f81bd"/>
<circle cx="191.53" cy="752.76" r="1.95" fill="#4f81bd"/>
<circle cx="201.96" cy="757.60" r="1.95" fill="#4f81bd"/>
<circle cx="212.39" cy="757.60" r="1.95" fill="#4f81bd"/>
<circle cx="222.83" cy="757.60" r="1.95" fill="#4f81bd"/>
<circle cx="233.26" cy="757.60" r="1.95" fill="#4f81bd"/>
<circle cx="243.69" cy="757.60" r="1.95" fill="#4f81bd"/>
<circle cx="254.12" cy="757.60" r="1.95" fill="#4f81bd"/>
<circle cx="264.55" cy="757.60" r="1.95" fill="#4f81bd"/>
<circle cx="274.98" cy="757.60" r="1.95" fill="#4f81bd"/>
<circle cx="285.42" cy="757.60" r="1.95" fill="#4f81bd"/>
<circle cx="295.85" cy="757.60" r="1.95" fill="#4f81bd"/>
<circle cx="306.28" cy="743.09" r="1.95" fill="#4f81bd"/>
<circle cx="316.71" cy="752.76" r="1.95" fill="#4f81bd"/>
<circle cx="327.14" cy="757.60" r="1.95" fill="#4f81bd"/>
<circle cx="337.57" cy="757.60" r="1.95" fill="#4f81bd"/>
<circle cx="348.01" cy="757.60" r="1.95" fill="#4f81bd"/>
<circle cx="358.44" cy="757.60" r="1.95" fill="#4f81bd"/>
<circle cx="368.87" cy="757.60" r="1.95" fill="#4f81bd"/>
<circle cx="379.30" cy="757.60" r="1.95" fill="#4f81bd"/>
<circle cx="389.73" cy="752.76" r="1.95" fill="#4f81bd"/>
<circle cx="400.16" cy="747.92" r="1.95" fill="#4f81bd"/>
<circle cx="410.59" cy="757.60" r="1.95" fill="#4f81bd"/>
<circle cx="421.03" cy="757.60" r="1.95" fill="#4f81bd"/>
<circle cx="431.46" cy="757.60" r="1.95" fill="#4f81bd"/>
<circle cx="441.89" cy="747.92" r="1.95" fill="#4f81bd"/>
<circle cx="452.32" cy="747.92" r="1.95" fill="#4f81bd"/>
<circle cx="462.75" cy="752.76" r="1.95" fill="#4f81bd"/>
<circle cx="473.18" cy="757.60" r="1.95" fill="#4f81bd"/>
<circle cx="483.62" cy="752.76" r="1.95" fill="#4f81bd"/>
<circle cx="494.05" cy="752.76" r="1.95" fill="#4f81bd"/>
<circle cx="504.48" cy="757.60" r="1.95" fill="#4f81bd"/>
<circle cx="514.91" cy="747.92" r="1.95" fill="#4f81bd"/>
<circle cx="525.34" cy="747.92" r="1.95" fill="#4f81bd"/>
<circle cx="535.77" cy="757.60" r="1.95" fill="#4f81bd"/>
<circle cx="546.21" cy="757.60" r="1.95" fill="#4f81bd"/>
<circle cx="556.64" cy="728.57" r="1.95" fill="#4f81bd"/>
<circle cx="567.07" cy="743.09" r="1.95" fill="#4f81bd"/>
<circle cx="577.50" cy="752.76" r="1.95" fill="#4f81bd"/>
<circle cx="587.93" cy="757.60" r="1.95" fill="#4f81bd"/>
<circle cx="598.36" cy="757.60" r="1.95" fill="#4f81bd"/>
<circle cx="608.79" cy="752.76" r="1.95" fill="#4f81bd"/>
<circle cx="619.23" cy="757.60" r="1.95" fill="#4f81bd"/>
<circle cx="629.66" cy="757.60" r="1.95" fill="#4f81bd"/>
<circle cx="640.09" cy="733.41" r="1.95" fill="#4f81bd"/>
<circle cx="650.52" cy="747.92" r="1.95" fill="#4f81bd"/>
<circle cx="660.95" cy="757.60" r="1.95" fill="#4f81bd"/>
<circle cx="671.38" cy="757.60" r="1.95" fill="#4f81bd"/>
<polyline fill="none" stroke="#c0504d" stroke-width="0.8" stroke-linejoin="round" points="87.22,718.89 97.65,728.57 108.08,709.22 118.51,757.60 128.94,694.70 139.37,728.57 149.81,714.06 160.24,757.60 170.67,718.89 181.10,689.86 191.53,675.35 201.96,689.86 212.39,670.51 222.83,685.02 233.26,709.22 243.69,699.54 254.12,718.89 264.55,670.51 274.98,636.64 285.42,728.57 295.85,738.25 306.28,685.02 316.71,718.89 327.14,694.70 337.57,704.38 348.01,680.19 358.44,554.39 368.87,665.67 379.30,660.83 389.73,680.19 400.16,626.97 410.59,685.02 421.03,607.61 431.46,626.97 441.89,651.16 452.32,622.13 462.75,680.19 473.18,588.26 483.62,539.88 494.05,680.19 504.48,626.97 514.91,631.80 525.34,670.51 535.77,631.80 546.21,689.86 556.64,554.39 567.07,588.26 577.50,631.80 587.93,597.94 598.36,530.20 608.79,564.07 619.23,622.13 629.66,607.61 640.09,656.00 650.52,602.77 660.95,646.32 671.38,675.35"/>
<circle cx="87.22" cy="718.89" r="1.95" fill="#c0504d"/>
<circle cx="97.65" cy="728.57" r="1.95" fill="#c0504d"/>
<circle cx="108.08" cy="709.22" r="1.95" fill="#c0504d"/>
<circle cx="118.51" cy="757.60" r="1.95" fill="#c0504d"/>
<circle cx="128.94" cy="694.70" r="1.95" fill="#c0504d"/>
<circle cx="139.37" cy="728.57" r="1.95" fill="#c0504d"/>
<circle cx="149.81" cy="714.06" r="1.95" fill="#c0504d"/>
<circle cx="160.24" cy="757.60" r="1.95" fill="#c0504d"/>
<circle cx="170.67" cy="718.89" r="1.95" fill="#c0504d"/>
<circle cx="181.10" cy="689.86" r="1.95" fill="#c0504d"/>
<circle cx="191.53" cy="675.35" r="1.95" fill="#c0504d"/>
<circle cx="201.96" cy="689.86" r="1.95" fill="#c0504d"/>
<circle cx="212.39" cy="670.51" r="1.95" fill="#c0504d"/>
<circle cx="222.83" cy="685.02" r="1.95" fill="#c0504d"/>
<circle cx="233.26" cy="709.22" r="1.95" fill="#c0504d"/>
<circle cx="243.69" cy="699.54" r="1.95" fill="#c0504d"/>
<circle cx="254.12" cy="718.89" r="1.95" fill="#c0504d"/>
<circle cx="264.55" cy="670.51" r="1.95" fill="#c0504d"/>
<circle cx="274.98" cy="636.64" r="1.95" fill="#c0504d"/>
<circle cx="285.42" cy="728.57" r="1.95" fill="#c0504d"/>
<circle cx="295.85" cy="738.25" r="1.95" fill="#c0504d"/>
<circle cx="306.28" cy="685.02" r="1.95" fill="#c0504d"/>
<circle cx="316.71" cy="718.89" r="1.95" fill="#c0504d"/>
<circle cx="327.14" cy="694.70" r="1.95" fill="#c0504d"/>
<circle cx="337.57" cy="704.38" r="1.95" fill="#c0504d"/>
<circle cx="348.01" cy="680.19" r="1.95" fill="#c0504d"/>
<circle cx="358.44" cy="554.39" r="1.95" fill="#c0504d"/>
<circle cx="368.87" cy="665.67" r="1.95" fill="#c0504d"/>
<circle cx="379.30" cy="660.83" r="1.95" fill="#c0504d"/>
<circle cx="389.73" cy="680.19" r="1.95" fill="#c0504d"/>
<circle cx="400.16" cy="626.97" r="1.95" fill="#c0504d"/>
<circle cx="410.59" cy="685.02" r="1.95" fill="#c0504d"/>
<circle cx="421.03" cy="607.61" r="1.95" fill="#c0504d"/>
<circle cx="431.46" cy="626.97" r="1.95" fill="#c0504d"/>
<circle cx="441.89" cy="651.16" r="1.95" fill="#c0504d"/>
<circle cx="452.32" cy="622.13" r="1.95" fill="#c0504d"/>
<circle cx="462.75" cy="680.19" r="1.95" fill="#c0504d"/>
<circle cx="473.18" cy="588.26" r="1.95" fill="#c0504d"/>
<circle cx="483.62" cy="539.88" r="1.95" fill="#c0504d"/>
<circle cx="494.05" cy="680.19" r="1.95" fill="#c0504d"/>
<circle cx="504.48" cy="626.97" r="1.95" fill="#c0504d"/>
<circle cx="514.91" cy="631.80" r="1.95" fill="#c0504d"/>
<circle cx="525.34" cy="670.51" r="1.95" fill="#c0504d"/>
<circle cx="535.77" cy="631.80" r="1.95" fill="#c0504d"/>
<circle cx="546.21" cy="689.86" r="1.95" fill="#c0504d"/>
<circle cx="556.64" cy="554.39" r="1.95" fill="#c0504d"/>
<circle cx="567.07" cy="588.26" r="1.95" fill="#c0504d"/>
<circle cx="577.50" cy="631.80" r="1.95" fill="#c0504d"/>
<circle cx="587.93" cy="597.94" r="1.95" fill="#c0504d"/>
<circle cx="598.36" cy="530.20" r="1.95" fill="#c0504d"/>
<circle cx="608.79" cy="564.07" r="1.95" fill="#c0504d"/>
<circle cx="619.23" cy="622.13" r="1.95" fill="#c0504d"/>
<circle cx="629.66" cy="607.61" r="1.95" fill="#c0504d"/>
<circle cx="640.09" cy="656.00" r="1.95" fill="#c0504d"/>
<circle cx="650.52" cy="602.77" r="1.95" fill="#c0504d"/>
<circle cx="660.95" cy="646.32" r="1.95" fill="#c0504d"/>
<circle cx="671.38" cy="675.35" r="1.95" fill="#c0504d"/>
<polyline fill="none" stroke="#9bbb59" stroke-width="0.8" stroke-linejoin="round" points="87.22,743.09 97.65,728.57 108.08,718.89 118.51,728.57 128.94,636.64 139.37,622.13 149.81,593.10 160.24,723.73 170.67,617.29 181.10,636.64 191.53,685.02 201.96,588.26 212.39,573.74 222.83,539.88 233.26,617.29 243.69,573.74 254.12,593.10 264.55,564.07 274.98,612.45 285.42,597.94 295.85,578.58 306.28,612.45 316.71,631.80 327.14,646.32 337.57,607.61 348.01,607.61 358.44,660.83 368.87,588.26 379.30,583.42 389.73,646.32 400.16,685.02 410.59,709.22 421.03,622.13 431.46,646.32 441.89,680.19 452.32,656.00 462.75,660.83 473.18,680.19 483.62,506.01 494.05,641.48 504.48,607.61 514.91,636.64 525.34,689.86 535.77,622.13 546.21,675.35 556.64,665.67 567.07,583.42 577.50,631.80 587.93,656.00 598.36,622.13 608.79,607.61 619.23,559.23 629.66,636.64 640.09,626.97 650.52,660.83 660.95,675.35 671.38,656.00"/>
<circle cx="87.22" cy="743.09" r="1.95" fill="#9bbb59"/>
<circle cx="97.65" cy="728.57" r="1.95" fill="#9bbb59"/>
<circle cx="108.08" cy="718.89" r="1.95" fill="#9bbb59"/>
<circle cx="118.51" cy="728.57" r="1.95" fill="#9bbb59"/>
<circle cx="128.94" cy="636.64" r="1.95" fill="#9bbb59"/>
<circle cx="139.37" cy="622.13" r="1.95" fill="#9bbb59"/>
<circle cx="149.81" cy="593.10" r="1.95" fill="#9bbb59"/>
<circle cx="160.24" cy="723.73" r="1.95" fill="#9bbb59"/>
<circle cx="170.67" cy="617.29" r="1.95" fill="#9bbb59"/>
<circle cx="181.10" cy="636.64" r="1.95" fill="#9bbb59"/>
<circle cx="191.53" cy="685.02" r="1.95" fill="#9bbb59"/>
<circle cx="201.96" cy="588.26" r="1.95" fill="#9bbb59"/>
<circle cx="212.39" cy="573.74" r="1.95" fill="#9bbb59"/>
<circle cx="222.83" cy="539.88" r="1.95" fill="#9bbb59"/>
<circle cx="233.26" cy="617.29" r="1.95" fill="#9bbb59"/>
<circle cx="243.69" cy="573.74" r="1.95" fill="#9bbb59"/>
<circle cx="254.12" cy="593.10" r="1.95" fill="#9bbb59"/>
<circle cx="264.55" cy="564.07" r="1.95" fill="#9bbb59"/>
<circle cx="274.98" cy="612.45" r="1.95" fill="#9bbb59"/>
<circle cx="285.42" cy="597.94" r="1.95" fill="#9bbb59"/>
<circle cx="295.85" cy="578.58" r="1.95" fill="#9bbb59"/>
<circle cx="306.28" cy="612.45" r="1.95" fill="#9bbb59"/>
<circle cx="316.71" cy="631.80" r="1.95" fill="#9bbb59"/>
<circle cx="327.14" cy="646.32" r="1.95" fill="#9bbb59"/>
<circle cx="337.57" cy="607.61" r="1.95" fill="#9bbb59"/>
<circle cx="348.01" cy="607.61" r="1.95" fill="#9bbb59"/>
<circle cx="358.44" cy="660.83" r="1.95" fill="#9bbb59"/>
<circle cx="368.87" cy="588.26" r="1.95" fill="#9bbb59"/>
<circle cx="379.30" cy="583.42" r="1.95" fill="#9bbb59"/>
<circle cx="389.73" cy="646.32" r="1.95" fill="#9bbb59"/>
<circle cx="400.16" cy="685.02" r="1.95" fill="#9bbb59"/>
<circle cx="410.59" cy="709.22" r="1.95" fill="#9bbb59"/>
<circle cx="421.03" cy="622.13" r="1.95" fill="#9bbb59"/>
<circle cx="431.46" cy="646.32" r="1.95" fill="#9bbb59"/>
<circle cx="441.89" cy="680.19" r="1.95" fill="#9bbb59"/>
<circle cx="452.32" cy="656.00" r="1.95" fill="#9bbb59"/>
<circle cx="462.75" cy="660.83" r="1.95" fill="#9bbb59"/>
<circle cx="473.18" cy="680.19" r="1.95" fill="#9bbb59"/>
<circle cx="483.62" cy="506.01" r="1.95" fill="#9bbb59"/>
<circle cx="494.05" cy="641.48" r="1.95" fill="#9bbb59"/>
<circle cx="504.48" cy="607.61" r="1.95" fill="#9bbb59"/>
<circle cx="514.91" cy="636.64" r="1.95" fill="#9bbb59"/>
<circle cx="525.34" cy="689.86" r="1.95" fill="#9bbb59"/>
<circle cx="535.77" cy="622.13" r="1.95" fill="#9bbb59"/>
<circle cx="546.21" cy="675.35" r="1.95" fill="#9bbb59"/>
<circle cx="556.64" cy="665.67" r="1.95" fill="#9bbb59"/>
<circle cx="567.07" cy="583.42" r="1.95" fill="#9bbb59"/>
<circle cx="577.50" cy="631.80" r="1.95" fill="#9bbb59"/>
<circle cx="587.93" cy="656.00" r="1.95" fill="#9bbb59"/>
<circle cx="598.36" cy="622.13" r="1.95" fill="#9bbb59"/>
<circle cx="608.79" cy="607.61" r="1.95" fill="#9bbb59"/>
<circle cx="619.23" cy="559.23" r="1.95" fill="#9bbb59"/>
<circle cx="629.66" cy="636.64" r="1.95" fill="#9bbb59"/>
<circle cx="640.09" cy="626.97" r="1.95" fill="#9bbb59"/>
<circle cx="650.52" cy="660.83" r="1.95" fill="#9bbb59"/>
<circle cx="660.95" cy="675.35" r="1.95" fill="#9bbb59"/>
<circle cx="671.38" cy="656.00" r="1.95" fill="#9bbb59"/>
<polyline fill="none" stroke="#8064a2" stroke-width="0.8" stroke-linejoin="round" points="87.22,757.60 97.65,757.60 108.08,757.60 118.51,757.60 128.94,757.60 139.37,757.60 149.81,743.09 160.24,757.60 170.67,747.92 181.10,752.76 191.53,752.76 201.96,752.76 212.39,747.92 222.83,757.60 233.26,752.76 243.69,752.76 254.12,752.76 264.55,752.76 274.98,752.76 285.42,752.76 295.85,747.92 306.28,747.92 316.71,743.09 327.14,752.76 337.57,743.09 348.01,747.92 358.44,738.25 368.87,743.09 379.30,718.89 389.73,747.92 400.16,738.25 410.59,747.92 421.03,738.25 431.46,738.25 441.89,723.73 452.32,738.25 462.75,757.60 473.18,757.60 483.62,747.92 494.05,757.60 504.48,757.60 514.91,757.60 525.34,752.76 535.77,757.60 546.21,757.60 556.64,757.60 567.07,757.60 577.50,757.60 587.93,757.60 598.36,757.60 608.79,757.60 619.23,757.60 629.66,743.09 640.09,757.60 650.52,757.60 660.95,757.60 671.38,757.60"/>
<circle cx="87.22" cy="757.60" r="1.95" fill="#8064a2"/>
<circle cx="97.65" cy="757.60" r="1.95" fill="#8064a2"/>
<circle cx="108.08" cy="757.60" r="1.95" fill="#8064a2"/>
<circle cx="118.51" cy="757.60" r="1.95" fill="#8064a2"/>
<circle cx="128.94" cy="757.60" r="1.95" fill="#8064a2"/>
<circle cx="139.37" cy="757.60" r="1.95" fill="#8064a2"/>
<circle cx="149.81" cy="743.09" r="1.95" fill="#8064a2"/>
<circle cx="160.24" cy="757.60" r="1.95" fill="#8064a2"/>
<circle cx="170.67" cy="747.92" r="1.95" fill="#8064a2"/>
<circle cx="181.10" cy="752.76" r="1.95" fill="#8064a2"/>
<circle cx="191.53" cy="752.76" r="1.95" fill="#8064a2"/>
<circle cx="201.96" cy="752.76" r="1.95" fill="#8064a2"/>
<circle cx="212.39" cy="747.92" r="1.95" fill="#8064a2"/>
<circle cx="222.83" cy="757.60" r="1.95" fill="#8064a2"/>
<circle cx="233.26" cy="752.76" r="1.95" fill="#8064a2"/>
<circle cx="243.69" cy="752.76" r="1.95" fill="#8064a2"/>
<circle cx="254.12" cy="752.76" r="1.95" fill="#8064a2"/>
<circle cx="264.55" cy="752.76" r="1.95" fill="#8064a2"/>
<circle cx="274.98" cy="752.76" r="1.95" fill="#8064a2"/>
<circle cx="285.42" cy="752.76" r="1.95" fill="#8064a2"/>
<circle cx="295.85" cy="747.92" r="1.95" fill="#8064a2"/>
<circle cx="306.28" cy="747.92" r="1.95" fill="#8064a2"/>
<circle cx="316.71" cy="743.09" r="1.95" fill="#8064a2"/>
<circle cx="327.14" cy="752.76" r="1.95" fill="#8064a2"/>
<circle cx="337.57" cy="743.09" r="1.95" fill="#8064a2"/>
<circle cx="348.01" cy="747.92" r="1.95" fill="#8064a2"/>
<circle cx="358.44" cy="738.25" r="1.95" fill="#8064a2"/>
<circle cx="368.87" cy="743.09" r="1.95" fill="#8064a2"/>
<circle cx="379.30" cy="718.89" r="1.95" fill="#8064a2"/>
<circle cx="389.73" cy="747.92" r="1.95" fill="#8064a2"/>
<circle cx="400.16" cy="738.25" r="1.95" fill="#8064a2"/>
<circle cx="410.59" cy="747.92" r="1.95" fill="#8064a2"/>
<circle cx="421.03" cy="738.25" r="1.95" fill="#8064a2"/>
<circle cx="431.46" cy="738.25" r="1.95" fill="#8064a2"/>
<circle cx="441.89" cy="723.73" r="1.95" fill="#8064a2"/>
<circle cx="452.32" cy="738.25" r="1.95" fill="#8064a2"/>
<circle cx="462.75" cy="757.60" r="1.95" fill="#8064a2"/>
<circle cx="473.18" cy="757.60" r="1.95" fill="#8064a2"/>
<circle cx="483.62" cy="747.92" r="1.95" fill="#8064a2"/>
<circle cx="494.05" cy="757.60" r="1.95" fill="#8064a2"/>
<circle cx="504.48" cy="757.60" r="1.95" fill="#8064a2"/>
<circle cx="514.91" cy="757.60" r="1.95" fill="#8064a2"/>
<circle cx="525.34" cy="752.76" r="1.95" fill="#8064a2"/>
<circle cx="535.77" cy="757.60" r="1.95" fill="#8064a2"/>
<circle cx="546.21" cy="757.60" r="1.95" fill="#8064a2"/>
<circle cx="556.64" cy="757.60" r="1.95" fill="#8064a2"/>
<circle cx="567.07" cy="757.60" r="1.95" fill="#8064a2"/>
<circle cx="577.50" cy="757.60" r="1.95" fill="#8064a2"/>
<circle cx="587.93" cy="757.60" r="1.95" fill="#8064a2"/>
<circle cx="598.36" cy="757.60" r="1.95" fill="#8064a2"/>
<circle cx="608.79" cy="757.60" r="1.95" fill="#8064a2"/>
<circle cx="619.23" cy="757.60" r="1.95" fill="#8064a2"/>
<circle cx="629.66" cy="743.09" r="1.95" fill="#8064a2"/>
<circle cx="640.09" cy="757.60" r="1.95" fill="#8064a2"/>
<circle cx="650.52" cy="757.60" r="1.95" fill="#8064a2"/>
<circle cx="660.95" cy="757.60" r="1.95" fill="#8064a2"/>
<circle cx="671.38" cy="757.60" r="1.95" fill="#8064a2"/>
<polyline fill="none" stroke="#4bacc6" stroke-width="0.8" stroke-linejoin="round" points="87.22,757.60 97.65,757.60 108.08,757.60 118.51,757.60 128.94,757.60 139.37,757.60 149.81,752.76 160.24,747.92 170.67,752.76 181.10,752.76 191.53,752.76 201.96,752.76 212.39,752.76 222.83,747.92 233.26,757.60 243.69,757.60 254.12,752.76 264.55,733.41 274.98,747.92 285.42,757.60 295.85,733.41 306.28,747.92 316.71,752.76 327.14,757.60 337.57,743.09 348.01,747.92 358.44,757.60 368.87,752.76 379.30,723.73 389.73,743.09 400.16,752.76 410.59,747.92 421.03,733.41 431.46,738.25 441.89,747.92 452.32,747.92 462.75,743.09 473.18,709.22 483.62,743.09 494.05,752.76 504.48,723.73 514.91,723.73 525.34,738.25 535.77,757.60 546.21,757.60 556.64,738.25 567.07,738.25 577.50,743.09 587.93,747.92 598.36,747.92 608.79,738.25 619.23,743.09 629.66,738.25 640.09,718.89 650.52,738.25 660.95,757.60 671.38,747.92"/>
<circle cx="87.22" cy="757.60" r="1.95" fill="#4bacc6"/>
<circle cx="97.65" cy="757.60" r="1.95" fill="#4bacc6"/>
<circle cx="108.08" cy="757.60" r="1.95" fill="#4bacc6"/>
<circle cx="118.51" cy="757.60" r="1.95" fill="#4bacc6"/>
<circle cx="128.94" cy="757.60" r="1.95" fill="#4bacc6"/>
<circle cx="139.37" cy="757.60" r="1.95" fill="#4bacc6"/>
<circle cx="149.81" cy="752.76" r="1.95" fill="#4bacc6"/>
<circle cx="160.24" cy="747.92" r="1.95" fill="#4bacc6"/>
<circle cx="170.67" cy="752.76" r="1.95" fill="#4bacc6"/>
<circle cx="181.10" cy="752.76" r="1.95" fill="#4bacc6"/>
<circle cx="191.53" cy="752.76" r="1.95" fill="#4bacc6"/>
<circle cx="201.96" cy="752.76" r="1.95" fill="#4bacc6"/>
<circle cx="212.39" cy="752.76" r="1.95" fill="#4bacc6"/>
<circle cx="222.83" cy="747.92" r="1.95" fill="#4bacc6"/>
<circle cx="233.26" cy="757.60" r="1.95" fill="#4bacc6"/>
<circle cx="243.69" cy="757.60" r="1.95" fill="#4bacc6"/>
<circle cx="254.12" cy="752.76" r="1.95" fill="#4bacc6"/>
<circle cx="264.55" cy="733.41" r="1.95" fill="#4bacc6"/>
<circle cx="274.98" cy="747.92" r="1.95" fill="#4bacc6"/>
<circle cx="285.42" cy="757.60" r="1.95" fill="#4bacc6"/>
<circle cx="295.85" cy="733.41" r="1.95" fill="#4bacc6"/>
<circle cx="306.28" cy="747.92" r="1.95" fill="#4bacc6"/>
<circle cx="316.71" cy="752.76" r="1.95" fill="#4bacc6"/>
<circle cx="327.14" cy="757.60" r="1.95" fill="#4bacc6"/>
<circle cx="337.57" cy="743.09" r="1.95" fill="#4bacc6"/>
<circle cx="348.01" cy="747.92" r="1.95" fill="#4bacc6"/>
<circle cx="358.44" cy="757.60" r="1.95" fill="#4bacc6"/>
<circle cx="368.87" cy="752.76" r="1.95" fill="#4bacc6"/>
<circle cx="379.30" cy="723.73" r="1.95" fill="#4bacc6"/>
<circle cx="389.73" cy="743.09" r="1.95" fill="#4bacc6"/>
<circle cx="400.16" cy="752.76" r="1.95" fill="#4bacc6"/>
<circle cx="410.59" cy="747.92" r="1.95" fill="#4bacc6"/>
<circle cx="421.03" cy="733.41" r="1.95" fill="#4bacc6"/>
<circle cx="431.46" cy="738.25" r="1.95" fill="#4bacc6"/>
<circle cx="441.89" cy="747.92" r="1.95" fill="#4bacc6"/>
<circle cx="452.32" cy="747.92" r="1.95" fill="#4bacc6"/>
<circle cx="462.75" cy="743.09" r="1.95" fill="#4bacc6"/>
<circle cx="473.18" cy="709.22" r="1.95" fill="#4bacc6"/>
<circle cx="483.62" cy="743.09" r="1.95" fill="#4bacc6"/>
<circle cx="494.05" cy="752.76" r="1.95" fill="#4bacc6"/>
<circle cx="504.48" cy="723.73" r="1.95" fill="#4bacc6"/>
<circle cx="514.91" cy="723.73" r="1.95" fill="#4bacc6"/>
<circle cx="525.34" cy="738.25" r="1.95" fill="#4bacc6"/>
<circle cx="535.77" cy="757.60" r="1.95" fill="#4bacc6"/>
<circle cx="546.21" cy="757.60" r="1.95" fill="#4bacc6"/>
<circle cx="556.64" cy="738.25" r="1.95" fill="#4bacc6"/>
<circle cx="567.07" cy="738.25" r="1.95" fill="#4bacc6"/>
<circle cx="577.50" cy="743.09" r="1.95" fill="#4bacc6"/>
<circle cx="587.93" cy="747.92" r="1.95" fill="#4bacc6"/>
<circle cx="598.36" cy="747.92" r="1.95" fill="#4bacc6"/>
<circle cx="608.79" cy="738.25" r="1.95" fill="#4bacc6"/>
<circle cx="619.23" cy="743.09" r="1.95" fill="#4bacc6"/>
<circle cx="629.66" cy="738.25" r="1.95" fill="#4bacc6"/>
<circle cx="640.09" cy="718.89" r="1.95" fill="#4bacc6"/>
<circle cx="650.52" cy="738.25" r="1.95" fill="#4bacc6"/>
<circle cx="660.95" cy="757.60" r="1.95" fill="#4bacc6"/>
<circle cx="671.38" cy="747.92" r="1.95" fill="#4bacc6"/>
<polyline fill="none" stroke="#f79646" stroke-width="0.8" stroke-linejoin="round" points="87.22,757.60 97.65,757.60 108.08,757.60 118.51,757.60 128.94,699.54 139.37,675.35 149.81,733.41 160.24,757.60 170.67,757.60 181.10,685.02 191.53,718.89 201.96,743.09 212.39,714.06 222.83,723.73 233.26,747.92 243.69,757.60 254.12,747.92 264.55,747.92 274.98,743.09 285.42,738.25 295.85,747.92 306.28,752.76 316.71,757.60 327.14,752.76 337.57,718.89 348.01,757.60 358.44,752.76 368.87,752.76 379.30,747.92 389.73,757.60 400.16,743.09 410.59,752.76 421.03,757.60 431.46,752.76 441.89,757.60 452.32,757.60 462.75,752.76 473.18,743.09 483.62,757.60 494.05,757.60 504.48,757.60 514.91,723.73 525.34,743.09 535.77,747.92 546.21,757.60 556.64,733.41 567.07,747.92 577.50,733.41 587.93,747.92 598.36,747.92 608.79,743.09 619.23,747.92 629.66,757.60 640.09,747.92 650.52,747.92 660.95,743.09 671.38,752.76"/>
<circle cx="87.22" cy="757.60" r="1.95" fill="#f79646"/>
<circle cx="97.65" cy="757.60" r="1.95" fill="#f79646"/>
<circle cx="108.08" cy="757.60" r="1.95" fill="#f79646"/>
<circle cx="118.51" cy="757.60" r="1.95" fill="#f79646"/>
<circle cx="128.94" cy="699.54" r="1.95" fill="#f79646"/>
<circle cx="139.37" cy="675.35" r="1.95" fill="#f79646"/>
<circle cx="149.81" cy="733.41" r="1.95" fill="#f79646"/>
<circle cx="160.24" cy="757.60" r="1.95" fill="#f79646"/>
<circle cx="170.67" cy="757.60" r="1.95" fill="#f79646"/>
<circle cx="181.10" cy="685.02" r="1.95" fill="#f79646"/>
<circle cx="191.53" cy="718.89" r="1.95" fill="#f79646"/>
<circle cx="201.96" cy="743.09" r="1.95" fill="#f79646"/>
<circle cx="212.39" cy="714.06" r="1.95" fill="#f79646"/>
<circle cx="222.83" cy="723.73" r="1.95" fill="#f79646"/>
<circle cx="233.26" cy="747.92" r="1.95" fill="#f79646"/>
<circle cx="243.69" cy="757.60" r="1.95" fill="#f79646"/>
<circle cx="254.12" cy="747.92" r="1.95" fill="#f79646"/>
<circle cx="264.55" cy="747.92" r="1.95" fill="#f79646"/>
<circle cx="274.98" cy="743.09" r="1.95" fill="#f79646"/>
<circle cx="285.42" cy="738.25" r="1.95" fill="#f79646"/>
<circle cx="295.85" cy="747.92" r="1.95" fill="#f79646"/>
<circle cx="306.28" cy="752.76" r="1.95" fill="#f79646"/>
<circle cx="316.71" cy="757.60" r="1.95" fill="#f79646"/>
<circle cx="327.14" cy="752.76" r="1.95" fill="#f79646"/>
<circle cx="337.57" cy="718.89" r="1.95" fill="#f79646"/>
<circle cx="348.01" cy="757.60" r="1.95" fill="#f79646"/>
<circle cx="358.44" cy="752.76" r="1.95" fill="#f79646"/>
<circle cx="368.87" cy="752.76" r="1.95" fill="#f79646"/>
<circle cx="379.30" cy="747.92" r="1.95" fill="#f79646"/>
<circle cx="389.73" cy="757.60" r="1.95" fill="#f79646"/>
<circle cx="400.16" cy="743.09" r="1.95" fill="#f79646"/>
<circle cx="410.59" cy="752.76" r="1.95" fill="#f79646"/>
<circle cx="421.03" cy="757.60" r="1.95" fill="#f79646"/>
<circle cx="431.46" cy="752.76" r="1.95" fill="#f79646"/>
<circle cx="441.89" cy="757.60" r="1.95" fill="#f79646"/>
<circle cx="452.32" cy="757.60" r="1.95" fill="#f79646"/>
<circle cx="462.75" cy="752.76" r="1.95" fill="#f79646"/>
<circle cx="473.18" cy="743.09" r="1.95" fill="#f79646"/>
<circle cx="483.62" cy="757.60" r="1.95" fill="#f79646"/>
<circle cx="494.05" cy="757.60" r="1.95" fill="#f79646"/>
<circle cx="504.48" cy="757.60" r="1.95" fill="#f79646"/>
<circle cx="514.91" cy="723.73" r="1.95" fill="#f79646"/>
<circle cx="525.34" cy="743.09" r="1.95" fill="#f79646"/>
<circle cx="535.77" cy="747.92" r="1.95" fill="#f79646"/>
<circle cx="546.21" cy="757.60" r="1.95" fill="#f79646"/>
<circle cx="556.64" cy="733.41" r="1.95" fill="#f79646"/>
<circle cx="567.07" cy="747.92" r="1.95" fill="#f79646"/>
<circle cx="577.50" cy="733.41" r="1.95" fill="#f79646"/>
<circle cx="587.93" cy="747.92" r="1.95" fill="#f79646"/>
<circle cx="598.36" cy="747.92" r="1.95" fill="#f79646"/>
<circle cx="608.79" cy="743.09" r="1.95" fill="#f79646"/>
<circle cx="619.23" cy="747.92" r="1.95" fill="#f79646"/>
<circle cx="629.66" cy="757.60" r="1.95" fill="#f79646"/>
<circle cx="640.09" cy="747.92" r="1.95" fill="#f79646"/>
<circle cx="650.52" cy="747.92" r="1.95" fill="#f79646"/>
<circle cx="660.95" cy="743.09" r="1.95" fill="#f79646"/>
<circle cx="671.38" cy="752.76" r="1.95" fill="#f79646"/>
<text transform="translate(87.22,747.26) scale(0.2457,0.3150)" font-size="20" text-anchor="middle" fill="#111" font-weight="normal" font-family='"Liberation Serif","Noto Serif CJK SC","Noto Serif CJK TC",serif'  stroke="#111" stroke-width="0.70" stroke-linejoin="round">1</text>
<text transform="translate(97.65,752.10) scale(0.2457,0.3150)" font-size="20" text-anchor="middle" fill="#111" font-weight="normal" font-family='"Liberation Serif","Noto Serif CJK SC","Noto Serif CJK TC",serif'  stroke="#111" stroke-width="0.70" stroke-linejoin="round">0</text>
<text transform="translate(108.08,742.42) scale(0.2457,0.3150)" font-size="20" text-anchor="middle" fill="#111" font-weight="normal" font-family='"Liberation Serif","Noto Serif CJK SC","Noto Serif CJK TC",serif'  stroke="#111" stroke-width="0.70" stroke-linejoin="round">2</text>
<text transform="translate(118.51,747.26) scale(0.2457,0.3150)" font-size="20" text-anchor="middle" fill="#111" font-weight="normal" font-family='"Liberation Serif","Noto Serif CJK SC","Noto Serif CJK TC",serif'  stroke="#111" stroke-width="0.70" stroke-linejoin="round">1</text>
<text transform="translate(128.94,752.10) scale(0.2457,0.3150)" font-size="20" text-anchor="middle" fill="#111" font-weight="normal" font-family='"Liberation Serif","Noto Serif CJK SC","Noto Serif CJK TC",serif'  stroke="#111" stroke-width="0.70" stroke-linejoin="round">0</text>
<text transform="translate(139.37,752.10) scale(0.2457,0.3150)" font-size="20" text-anchor="middle" fill="#111" font-weight="normal" font-family='"Liberation Serif","Noto Serif CJK SC","Noto Serif CJK TC",serif'  stroke="#111" stroke-width="0.70" stroke-linejoin="round">0</text>
<text transform="translate(149.81,742.42) scale(0.2457,0.3150)" font-size="20" text-anchor="middle" fill="#111" font-weight="normal" font-family='"Liberation Serif","Noto Serif CJK SC","Noto Serif CJK TC",serif'  stroke="#111" stroke-width="0.70" stroke-linejoin="round">2</text>
<text transform="translate(160.24,747.26) scale(0.2457,0.3150)" font-size="20" text-anchor="middle" fill="#111" font-weight="normal" font-family='"Liberation Serif","Noto Serif CJK SC","Noto Serif CJK TC",serif'  stroke="#111" stroke-width="0.70" stroke-linejoin="round">1</text>
<text transform="translate(170.67,747.26) scale(0.2457,0.3150)" font-size="20" text-anchor="middle" fill="#111" font-weight="normal" font-family='"Liberation Serif","Noto Serif CJK SC","Noto Serif CJK TC",serif'  stroke="#111" stroke-width="0.70" stroke-linejoin="round">1</text>
<text transform="translate(181.10,747.26) scale(0.2457,0.3150)" font-size="20" text-anchor="middle" fill="#111" font-weight="normal" font-family='"Liberation Serif","Noto Serif CJK SC","Noto Serif CJK TC",serif'  stroke="#111" stroke-width="0.70" stroke-linejoin="round">1</text>
<text transform="translate(191.53,747.26) scale(0.2457,0.3150)" font-size="20" text-anchor="middle" fill="#111" font-weight="normal" font-family='"Liberation Serif","Noto Serif CJK SC","Noto Serif CJK TC",serif'  stroke="#111" stroke-width="0.70" stroke-linejoin="round">1</text>
<text transform="translate(201.96,752.10) scale(0.2457,0.3150)" font-size="20" text-anchor="middle" fill="#111" font-weight="normal" font-family='"Liberation Serif","Noto Serif CJK SC","Noto Serif CJK TC",serif'  stroke="#111" stroke-width="0.70" stroke-linejoin="round">0</text>
<text transform="translate(212.39,752.10) scale(0.2457,0.3150)" font-size="20" text-anchor="middle" fill="#111" font-weight="normal" font-family='"Liberation Serif","Noto Serif CJK SC","Noto Serif CJK TC",serif'  stroke="#111" stroke-width="0.70" stroke-linejoin="round">0</text>
<text transform="translate(222.83,752.10) scale(0.2457,0.3150)" font-size="20" text-anchor="middle" fill="#111" font-weight="normal" font-family='"Liberation Serif","Noto Serif CJK SC","Noto Serif CJK TC",serif'  stroke="#111" stroke-width="0.70" stroke-linejoin="round">0</text>
<text transform="translate(233.26,752.10) scale(0.2457,0.3150)" font-size="20" text-anchor="middle" fill="#111" font-weight="normal" font-family='"Liberation Serif","Noto Serif CJK SC","Noto Serif CJK TC",serif'  stroke="#111" stroke-width="0.70" stroke-linejoin="round">0</text>
<text transform="translate(243.69,752.10) scale(0.2457,0.3150)" font-size="20" text-anchor="middle" fill="#111" font-weight="normal" font-family='"Liberation Serif","Noto Serif CJK SC","Noto Serif CJK TC",serif'  stroke="#111" stroke-width="0.70" stroke-linejoin="round">0</text>
<text transform="translate(254.12,752.10) scale(0.2457,0.3150)" font-size="20" text-anchor="middle" fill="#111" font-weight="normal" font-family='"Liberation Serif","Noto Serif CJK SC","Noto Serif CJK TC",serif'  stroke="#111" stroke-width="0.70" stroke-linejoin="round">0</text>
<text transform="translate(264.55,752.10) scale(0.2457,0.3150)" font-size="20" text-anchor="middle" fill="#111" font-weight="normal" font-family='"Liberation Serif","Noto Serif CJK SC","Noto Serif CJK TC",serif'  stroke="#111" stroke-width="0.70" stroke-linejoin="round">0</text>
<text transform="translate(274.98,752.10) scale(0.2457,0.3150)" font-size="20" text-anchor="middle" fill="#111" font-weight="normal" font-family='"Liberation Serif","Noto Serif CJK SC","Noto Serif CJK TC",serif'  stroke="#111" stroke-width="0.70" stroke-linejoin="round">0</text>
<text transform="translate(285.42,752.10) scale(0.2457,0.3150)" font-size="20" text-anchor="middle" fill="#111" font-weight="normal" font-family='"Liberation Serif","Noto Serif CJK SC","Noto Serif CJK TC",serif'  stroke="#111" stroke-width="0.70" stroke-linejoin="round">0</text>
<text transform="translate(295.85,752.10) scale(0.2457,0.3150)" font-size="20" text-anchor="middle" fill="#111" font-weight="normal" font-family='"Liberation Serif","Noto Serif CJK SC","Noto Serif CJK TC",serif'  stroke="#111" stroke-width="0.70" stroke-linejoin="round">0</text>
<text transform="translate(306.28,737.59) scale(0.2457,0.3150)" font-size="20" text-anchor="middle" fill="#111" font-weight="normal" font-family='"Liberation Serif","Noto Serif CJK SC","Noto Serif CJK TC",serif'  stroke="#111" stroke-width="0.70" stroke-linejoin="round">3</text>
<text transform="translate(316.71,747.26) scale(0.2457,0.3150)" font-size="20" text-anchor="middle" fill="#111" font-weight="normal" font-family='"Liberation Serif","Noto Serif CJK SC","Noto Serif CJK TC",serif'  stroke="#111" stroke-width="0.70" stroke-linejoin="round">1</text>
<text transform="translate(327.14,752.10) scale(0.2457,0.3150)" font-size="20" text-anchor="middle" fill="#111" font-weight="normal" font-family='"Liberation Serif","Noto Serif CJK SC","Noto Serif CJK TC",serif'  stroke="#111" stroke-width="0.70" stroke-linejoin="round">0</text>
<text transform="translate(337.57,752.10) scale(0.2457,0.3150)" font-size="20" text-anchor="middle" fill="#111" font-weight="normal" font-family='"Liberation Serif","Noto Serif CJK SC","Noto Serif CJK TC",serif'  stroke="#111" stroke-width="0.70" stroke-linejoin="round">0</text>
<text transform="translate(348.01,752.10) scale(0.2457,0.3150)" font-size="20" text-anchor="middle" fill="#111" font-weight="normal" font-family='"Liberation Serif","Noto Serif CJK SC","Noto Serif CJK TC",serif'  stroke="#111" stroke-width="0.70" stroke-linejoin="round">0</text>
<text transform="translate(358.44,752.10) scale(0.2457,0.3150)" font-size="20" text-anchor="middle" fill="#111" font-weight="normal" font-family='"Liberation Serif","Noto Serif CJK SC","Noto Serif CJK TC",serif'  stroke="#111" stroke-width="0.70" stroke-linejoin="round">0</text>
<text transform="translate(368.87,752.10) scale(0.2457,0.3150)" font-size="20" text-anchor="middle" fill="#111" font-weight="normal" font-family='"Liberation Serif","Noto Serif CJK SC","Noto Serif CJK TC",serif'  stroke="#111" stroke-width="0.70" stroke-linejoin="round">0</text>
<text transform="translate(379.30,752.10) scale(0.2457,0.3150)" font-size="20" text-anchor="middle" fill="#111" font-weight="normal" font-family='"Liberation Serif","Noto Serif CJK SC","Noto Serif CJK TC",serif'  stroke="#111" stroke-width="0.70" stroke-linejoin="round">0</text>
<text transform="translate(389.73,747.26) scale(0.2457,0.3150)" font-size="20" text-anchor="middle" fill="#111" font-weight="normal" font-family='"Liberation Serif","Noto Serif CJK SC","Noto Serif CJK TC",serif'  stroke="#111" stroke-width="0.70" stroke-linejoin="round">1</text>
<text transform="translate(400.16,742.42) scale(0.2457,0.3150)" font-size="20" text-anchor="middle" fill="#111" font-weight="normal" font-family='"Liberation Serif","Noto Serif CJK SC","Noto Serif CJK TC",serif'  stroke="#111" stroke-width="0.70" stroke-linejoin="round">2</text>
<text transform="translate(410.59,752.10) scale(0.2457,0.3150)" font-size="20" text-anchor="middle" fill="#111" font-weight="normal" font-family='"Liberation Serif","Noto Serif CJK SC","Noto Serif CJK TC",serif'  stroke="#111" stroke-width="0.70" stroke-linejoin="round">0</text>
<text transform="translate(421.03,752.10) scale(0.2457,0.3150)" font-size="20" text-anchor="middle" fill="#111" font-weight="normal" font-family='"Liberation Serif","Noto Serif CJK SC","Noto Serif CJK TC",serif'  stroke="#111" stroke-width="0.70" stroke-linejoin="round">0</text>
<text transform="translate(431.46,752.10) scale(0.2457,0.3150)" font-size="20" text-anchor="middle" fill="#111" font-weight="normal" font-family='"Liberation Serif","Noto Serif CJK SC","Noto Serif CJK TC",serif'  stroke="#111" stroke-width="0.70" stroke-linejoin="round">0</text>
<text transform="translate(441.89,742.42) scale(0.2457,0.3150)" font-size="20" text-anchor="middle" fill="#111" font-weight="normal" font-family='"Liberation Serif","Noto Serif CJK SC","Noto Serif CJK TC",serif'  stroke="#111" stroke-width="0.70" stroke-linejoin="round">2</text>
<text transform="translate(452.32,742.42) scale(0.2457,0.3150)" font-size="20" text-anchor="middle" fill="#111" font-weight="normal" font-family='"Liberation Serif","Noto Serif CJK SC","Noto Serif CJK TC",serif'  stroke="#111" stroke-width="0.70" stroke-linejoin="round">2</text>
<text transform="translate(462.75,747.26) scale(0.2457,0.3150)" font-size="20" text-anchor="middle" fill="#111" font-weight="normal" font-family='"Liberation Serif","Noto Serif CJK SC","Noto Serif CJK TC",serif'  stroke="#111" stroke-width="0.70" stroke-linejoin="round">1</text>
<text transform="translate(473.18,752.10) scale(0.2457,0.3150)" font-size="20" text-anchor="middle" fill="#111" font-weight="normal" font-family='"Liberation Serif","Noto Serif CJK SC","Noto Serif CJK TC",serif'  stroke="#111" stroke-width="0.70" stroke-linejoin="round">0</text>
<text transform="translate(483.62,747.26) scale(0.2457,0.3150)" font-size="20" text-anchor="middle" fill="#111" font-weight="normal" font-family='"Liberation Serif","Noto Serif CJK SC","Noto Serif CJK TC",serif'  stroke="#111" stroke-width="0.70" stroke-linejoin="round">1</text>
<text transform="translate(494.05,747.26) scale(0.2457,0.3150)" font-size="20" text-anchor="middle" fill="#111" font-weight="normal" font-family='"Liberation Serif","Noto Serif CJK SC","Noto Serif CJK TC",serif'  stroke="#111" stroke-width="0.70" stroke-linejoin="round">1</text>
<text transform="translate(504.48,752.10) scale(0.2457,0.3150)" font-size="20" text-anchor="middle" fill="#111" font-weight="normal" font-family='"Liberation Serif","Noto Serif CJK SC","Noto Serif CJK TC",serif'  stroke="#111" stroke-width="0.70" stroke-linejoin="round">0</text>
<text transform="translate(514.91,742.42) scale(0.2457,0.3150)" font-size="20" text-anchor="middle" fill="#111" font-weight="normal" font-family='"Liberation Serif","Noto Serif CJK SC","Noto Serif CJK TC",serif'  stroke="#111" stroke-width="0.70" stroke-linejoin="round">2</text>
<text transform="translate(525.34,742.42) scale(0.2457,0.3150)" font-size="20" text-anchor="middle" fill="#111" font-weight="normal" font-family='"Liberation Serif","Noto Serif CJK SC","Noto Serif CJK TC",serif'  stroke="#111" stroke-width="0.70" stroke-linejoin="round">2</text>
<text transform="translate(535.77,752.10) scale(0.2457,0.3150)" font-size="20" text-anchor="middle" fill="#111" font-weight="normal" font-family='"Liberation Serif","Noto Serif CJK SC","Noto Serif CJK TC",serif'  stroke="#111" stroke-width="0.70" stroke-linejoin="round">0</text>
<text transform="translate(546.21,752.10) scale(0.2457,0.3150)" font-size="20" text-anchor="middle" fill="#111" font-weight="normal" font-family='"Liberation Serif","Noto Serif CJK SC","Noto Serif CJK TC",serif'  stroke="#111" stroke-width="0.70" stroke-linejoin="round">0</text>
<text transform="translate(556.64,723.07) scale(0.2457,0.3150)" font-size="20" text-anchor="middle" fill="#111" font-weight="normal" font-family='"Liberation Serif","Noto Serif CJK SC","Noto Serif CJK TC",serif'  stroke="#111" stroke-width="0.70" stroke-linejoin="round">6</text>
<text transform="translate(567.07,737.59) scale(0.2457,0.3150)" font-size="20" text-anchor="middle" fill="#111" font-weight="normal" font-family='"Liberation Serif","Noto Serif CJK SC","Noto Serif CJK TC",serif'  stroke="#111" stroke-width="0.70" stroke-linejoin="round">3</text>
<text transform="translate(577.50,747.26) scale(0.2457,0.3150)" font-size="20" text-anchor="middle" fill="#111" font-weight="normal" font-family='"Liberation Serif","Noto Serif CJK SC","Noto Serif CJK TC",serif'  stroke="#111" stroke-width="0.70" stroke-linejoin="round">1</text>
<text transform="translate(587.93,752.10) scale(0.2457,0.3150)" font-size="20" text-anchor="middle" fill="#111" font-weight="normal" font-family='"Liberation Serif","Noto Serif CJK SC","Noto Serif CJK TC",serif'  stroke="#111" stroke-width="0.70" stroke-linejoin="round">0</text>
<text transform="translate(598.36,752.10) scale(0.2457,0.3150)" font-size="20" text-anchor="middle" fill="#111" font-weight="normal" font-family='"Liberation Serif","Noto Serif CJK SC","Noto Serif CJK TC",serif'  stroke="#111" stroke-width="0.70" stroke-linejoin="round">0</text>
<text transform="translate(608.79,747.26) scale(0.2457,0.3150)" font-size="20" text-anchor="middle" fill="#111" font-weight="normal" font-family='"Liberation Serif","Noto Serif CJK SC","Noto Serif CJK TC",serif'  stroke="#111" stroke-width="0.70" stroke-linejoin="round">1</text>
<text transform="translate(619.23,752.10) scale(0.2457,0.3150)" font-size="20" text-anchor="middle" fill="#111" font-weight="normal" font-family='"Liberation Serif","Noto Serif CJK SC","Noto Serif CJK TC",serif'  stroke="#111" stroke-width="0.70" stroke-linejoin="round">0</text>
<text transform="translate(629.66,752.10) scale(0.2457,0.3150)" font-size="20" text-anchor="middle" fill="#111" font-weight="normal" font-family='"Liberation Serif","Noto Serif CJK SC","Noto Serif CJK TC",serif'  stroke="#111" stroke-width="0.70" stroke-linejoin="round">0</text>
<text transform="translate(640.09,727.91) scale(0.2457,0.3150)" font-size="20" text-anchor="middle" fill="#111" font-weight="normal" font-family='"Liberation Serif","Noto Serif CJK SC","Noto Serif CJK TC",serif'  stroke="#111" stroke-width="0.70" stroke-linejoin="round">5</text>
<text transform="translate(650.52,742.42) scale(0.2457,0.3150)" font-size="20" text-anchor="middle" fill="#111" font-weight="normal" font-family='"Liberation Serif","Noto Serif CJK SC","Noto Serif CJK TC",serif'  stroke="#111" stroke-width="0.70" stroke-linejoin="round">2</text>
<text transform="translate(660.95,752.10) scale(0.2457,0.3150)" font-size="20" text-anchor="middle" fill="#111" font-weight="normal" font-family='"Liberation Serif","Noto Serif CJK SC","Noto Serif CJK TC",serif'  stroke="#111" stroke-width="0.70" stroke-linejoin="round">0</text>
<text transform="translate(671.38,752.10) scale(0.2457,0.3150)" font-size="20" text-anchor="middle" fill="#111" font-weight="normal" font-family='"Liberation Serif","Noto Serif CJK SC","Noto Serif CJK TC",serif'  stroke="#111" stroke-width="0.70" stroke-linejoin="round">0</text>
<text transform="translate(87.22,713.39) scale(0.2457,0.3150)" font-size="20" text-anchor="middle" fill="#111" font-weight="normal" font-family='"Liberation Serif","Noto Serif CJK SC","Noto Serif CJK TC",serif'  stroke="#111" stroke-width="0.70" stroke-linejoin="round">8</text>
<text transform="translate(97.65,723.07) scale(0.2457,0.3150)" font-size="20" text-anchor="middle" fill="#111" font-weight="normal" font-family='"Liberation Serif","Noto Serif CJK SC","Noto Serif CJK TC",serif'  stroke="#111" stroke-width="0.70" stroke-linejoin="round">6</text>
<text transform="translate(108.08,703.72) scale(0.2457,0.3150)" font-size="20" text-anchor="middle" fill="#111" font-weight="normal" font-family='"Liberation Serif","Noto Serif CJK SC","Noto Serif CJK TC",serif'  stroke="#111" stroke-width="0.70" stroke-linejoin="round">10</text>
<text transform="translate(118.51,752.10) scale(0.2457,0.3150)" font-size="20" text-anchor="middle" fill="#111" font-weight="normal" font-family='"Liberation Serif","Noto Serif CJK SC","Noto Serif CJK TC",serif'  stroke="#111" stroke-width="0.70" stroke-linejoin="round">0</text>
<text transform="translate(128.94,689.20) scale(0.2457,0.3150)" font-size="20" text-anchor="middle" fill="#111" font-weight="normal" font-family='"Liberation Serif","Noto Serif CJK SC","Noto Serif CJK TC",serif'  stroke="#111" stroke-width="0.70" stroke-linejoin="round">13</text>
<text transform="translate(139.37,723.07) scale(0.2457,0.3150)" font-size="20" text-anchor="middle" fill="#111" font-weight="normal" font-family='"Liberation Serif","Noto Serif CJK SC","Noto Serif CJK TC",serif'  stroke="#111" stroke-width="0.70" stroke-linejoin="round">6</text>
<text transform="translate(149.81,708.56) scale(0.2457,0.3150)" font-size="20" text-anchor="middle" fill="#111" font-weight="normal" font-family='"Liberation Serif","Noto Serif CJK SC","Noto Serif CJK TC",serif'  stroke="#111" stroke-width="0.70" stroke-linejoin="round">9</text>
<text transform="translate(160.24,752.10) scale(0.2457,0.3150)" font-size="20" text-anchor="middle" fill="#111" font-weight="normal" font-family='"Liberation Serif","Noto Serif CJK SC","Noto Serif CJK TC",serif'  stroke="#111" stroke-width="0.70" stroke-linejoin="round">0</text>
<text transform="translate(170.67,713.39) scale(0.2457,0.3150)" font-size="20" text-anchor="middle" fill="#111" font-weight="normal" font-family='"Liberation Serif","Noto Serif CJK SC","Noto Serif CJK TC",serif'  stroke="#111" stroke-width="0.70" stroke-linejoin="round">8</text>
<text transform="translate(181.10,684.36) scale(0.2457,0.3150)" font-size="20" text-anchor="middle" fill="#111" font-weight="normal" font-family='"Liberation Serif","Noto Serif CJK SC","Noto Serif CJK TC",serif'  stroke="#111" stroke-width="0.70" stroke-linejoin="round">14</text>
<text transform="translate(191.53,669.85) scale(0.2457,0.3150)" font-size="20" text-anchor="middle" fill="#111" font-weight="normal" font-family='"Liberation Serif","Noto Serif CJK SC","Noto Serif CJK TC",serif'  stroke="#111" stroke-width="0.70" stroke-linejoin="round">17</text>
<text transform="translate(201.96,684.36) scale(0.2457,0.3150)" font-size="20" text-anchor="middle" fill="#111" font-weight="normal" font-family='"Liberation Serif","Noto Serif CJK SC","Noto Serif CJK TC",serif'  stroke="#111" stroke-width="0.70" stroke-linejoin="round">14</text>
<text transform="translate(212.39,665.01) scale(0.2457,0.3150)" font-size="20" text-anchor="middle" fill="#111" font-weight="normal" font-family='"Liberation Serif","Noto Serif CJK SC","Noto Serif CJK TC",serif'  stroke="#111" stroke-width="0.70" stroke-linejoin="round">18</text>
<text transform="translate(222.83,679.52) scale(0.2457,0.3150)" font-size="20" text-anchor="middle" fill="#111" font-weight="normal" font-family='"Liberation Serif","Noto Serif CJK SC","Noto Serif CJK TC",serif'  stroke="#111" stroke-width="0.70" stroke-linejoin="round">15</text>
<text transform="translate(233.26,703.72) scale(0.2457,0.3150)" font-size="20" text-anchor="middle" fill="#111" font-weight="normal" font-family='"Liberation Serif","Noto Serif CJK SC","Noto Serif CJK TC",serif'  stroke="#111" stroke-width="0.70" stroke-linejoin="round">10</text>
<text transform="translate(243.69,694.04) scale(0.2457,0.3150)" font-size="20" text-anchor="middle" fill="#111" font-weight="normal" font-family='"Liberation Serif","Noto Serif CJK SC","Noto Serif CJK TC",serif'  stroke="#111" stroke-width="0.70" stroke-linejoin="round">12</text>
<text transform="translate(254.12,713.39) scale(0.2457,0.3150)" font-size="20" text-anchor="middle" fill="#111" font-weight="normal" font-family='"Liberation Serif","Noto Serif CJK SC","Noto Serif CJK TC",serif'  stroke="#111" stroke-width="0.70" stroke-linejoin="round">8</text>
<text transform="translate(264.55,665.01) scale(0.2457,0.3150)" font-size="20" text-anchor="middle" fill="#111" font-weight="normal" font-family='"Liberation Serif","Noto Serif CJK SC","Noto Serif CJK TC",serif'  stroke="#111" stroke-width="0.70" stroke-linejoin="round">18</text>
<text transform="translate(274.98,631.14) scale(0.2457,0.3150)" font-size="20" text-anchor="middle" fill="#111" font-weight="normal" font-family='"Liberation Serif","Noto Serif CJK SC","Noto Serif CJK TC",serif'  stroke="#111" stroke-width="0.70" stroke-linejoin="round">25</text>
<text transform="translate(285.42,723.07) scale(0.2457,0.3150)" font-size="20" text-anchor="middle" fill="#111" font-weight="normal" font-family='"Liberation Serif","Noto Serif CJK SC","Noto Serif CJK TC",serif'  stroke="#111" stroke-width="0.70" stroke-linejoin="round">6</text>
<text transform="translate(295.85,732.75) scale(0.2457,0.3150)" font-size="20" text-anchor="middle" fill="#111" font-weight="normal" font-family='"Liberation Serif","Noto Serif CJK SC","Noto Serif CJK TC",serif'  stroke="#111" stroke-width="0.70" stroke-linejoin="round">4</text>
<text transform="translate(306.28,679.52) scale(0.2457,0.3150)" font-size="20" text-anchor="middle" fill="#111" font-weight="normal" font-family='"Liberation Serif","Noto Serif CJK SC","Noto Serif CJK TC",serif'  stroke="#111" stroke-width="0.70" stroke-linejoin="round">15</text>
<text transform="translate(316.71,713.39) scale(0.2457,0.3150)" font-size="20" text-anchor="middle" fill="#111" font-weight="normal" font-family='"Liberation Serif","Noto Serif CJK SC","Noto Serif CJK TC",serif'  stroke="#111" stroke-width="0.70" stroke-linejoin="round">8</text>
<text transform="translate(327.14,689.20) scale(0.2457,0.3150)" font-size="20" text-anchor="middle" fill="#111" font-weight="normal" font-family='"Liberation Serif","Noto Serif CJK SC","Noto Serif CJK TC",serif'  stroke="#111" stroke-width="0.70" stroke-linejoin="round">13</text>
<text transform="translate(337.57,698.88) scale(0.2457,0.3150)" font-size="20" text-anchor="middle" fill="#111" font-weight="normal" font-family='"Liberation Serif","Noto Serif CJK SC","Noto Serif CJK TC",serif'  stroke="#111" stroke-width="0.70" stroke-linejoin="round">11</text>
<text transform="translate(348.01,674.69) scale(0.2457,0.3150)" font-size="20" text-anchor="middle" fill="#111" font-weight="normal" font-family='"Liberation Serif","Noto Serif CJK SC","Noto Serif CJK TC",serif'  stroke="#111" stroke-width="0.70" stroke-linejoin="round">16</text>
<text transform="translate(358.44,548.89) scale(0.2457,0.3150)" font-size="20" text-anchor="middle" fill="#111" font-weight="normal" font-family='"Liberation Serif","Noto Serif CJK SC","Noto Serif CJK TC",serif'  stroke="#111" stroke-width="0.70" stroke-linejoin="round">42</text>
<text transform="translate(368.87,660.17) scale(0.2457,0.3150)" font-size="20" text-anchor="middle" fill="#111" font-weight="normal" font-family='"Liberation Serif","Noto Serif CJK SC","Noto Serif CJK TC",serif'  stroke="#111" stroke-width="0.70" stroke-linejoin="round">19</text>
<text transform="translate(379.30,655.33) scale(0.2457,0.3150)" font-size="20" text-anchor="middle" fill="#111" font-weight="normal" font-family='"Liberation Serif","Noto Serif CJK SC","Noto Serif CJK TC",serif'  stroke="#111" stroke-width="0.70" stroke-linejoin="round">20</text>
<text transform="translate(389.73,674.69) scale(0.2457,0.3150)" font-size="20" text-anchor="middle" fill="#111" font-weight="normal" font-family='"Liberation Serif","Noto Serif CJK SC","Noto Serif CJK TC",serif'  stroke="#111" stroke-width="0.70" stroke-linejoin="round">16</text>
<text transform="translate(400.16,621.47) scale(0.2457,0.3150)" font-size="20" text-anchor="middle" fill="#111" font-weight="normal" font-family='"Liberation Serif","Noto Serif CJK SC","Noto Serif CJK TC",serif'  stroke="#111" stroke-width="0.70" stroke-linejoin="round">27</text>
<text transform="translate(410.59,679.52) scale(0.2457,0.3150)" font-size="20" text-anchor="middle" fill="#111" font-weight="normal" font-family='"Liberation Serif","Noto Serif CJK SC","Noto Serif CJK TC",serif'  stroke="#111" stroke-width="0.70" stroke-linejoin="round">15</text>
<text transform="translate(421.03,602.11) scale(0.2457,0.3150)" font-size="20" text-anchor="middle" fill="#111" font-weight="normal" font-family='"Liberation Serif","Noto Serif CJK SC","Noto Serif CJK TC",serif'  stroke="#111" stroke-width="0.70" stroke-linejoin="round">31</text>
<text transform="translate(431.46,621.47) scale(0.2457,0.3150)" font-size="20" text-anchor="middle" fill="#111" font-weight="normal" font-family='"Liberation Serif","Noto Serif CJK SC","Noto Serif CJK TC",serif'  stroke="#111" stroke-width="0.70" stroke-linejoin="round">27</text>
<text transform="translate(441.89,645.66) scale(0.2457,0.3150)" font-size="20" text-anchor="middle" fill="#111" font-weight="normal" font-family='"Liberation Serif","Noto Serif CJK SC","Noto Serif CJK TC",serif'  stroke="#111" stroke-width="0.70" stroke-linejoin="round">22</text>
<text transform="translate(452.32,616.63) scale(0.2457,0.3150)" font-size="20" text-anchor="middle" fill="#111" font-weight="normal" font-family='"Liberation Serif","Noto Serif CJK SC","Noto Serif CJK TC",serif'  stroke="#111" stroke-width="0.70" stroke-linejoin="round">28</text>
<text transform="translate(462.75,674.69) scale(0.2457,0.3150)" font-size="20" text-anchor="middle" fill="#111" font-weight="normal" font-family='"Liberation Serif","Noto Serif CJK SC","Noto Serif CJK TC",serif'  stroke="#111" stroke-width="0.70" stroke-linejoin="round">16</text>
<text transform="translate(473.18,582.76) scale(0.2457,0.3150)" font-size="20" text-anchor="middle" fill="#111" font-weight="normal" font-family='"Liberation Serif","Noto Serif CJK SC","Noto Serif CJK TC",serif'  stroke="#111" stroke-width="0.70" stroke-linejoin="round">35</text>
<text transform="translate(483.62,534.38) scale(0.2457,0.3150)" font-size="20" text-anchor="middle" fill="#111" font-weight="normal" font-family='"Liberation Serif","Noto Serif CJK SC","Noto Serif CJK TC",serif'  stroke="#111" stroke-width="0.70" stroke-linejoin="round">45</text>
<text transform="translate(494.05,674.69) scale(0.2457,0.3150)" font-size="20" text-anchor="middle" fill="#111" font-weight="normal" font-family='"Liberation Serif","Noto Serif CJK SC","Noto Serif CJK TC",serif'  stroke="#111" stroke-width="0.70" stroke-linejoin="round">16</text>
<text transform="translate(504.48,621.47) scale(0.2457,0.3150)" font-size="20" text-anchor="middle" fill="#111" font-weight="normal" font-family='"Liberation Serif","Noto Serif CJK SC","Noto Serif CJK TC",serif'  stroke="#111" stroke-width="0.70" stroke-linejoin="round">27</text>
<text transform="translate(514.91,626.30) scale(0.2457,0.3150)" font-size="20" text-anchor="middle" fill="#111" font-weight="normal" font-family='"Liberation Serif","Noto Serif CJK SC","Noto Serif CJK TC",serif'  stroke="#111" stroke-width="0.70" stroke-linejoin="round">26</text>
<text transform="translate(525.34,665.01) scale(0.2457,0.3150)" font-size="20" text-anchor="middle" fill="#111" font-weight="normal" font-family='"Liberation Serif","Noto Serif CJK SC","Noto Serif CJK TC",serif'  stroke="#111" stroke-width="0.70" stroke-linejoin="round">18</text>
<text transform="translate(535.77,626.30) scale(0.2457,0.3150)" font-size="20" text-anchor="middle" fill="#111" font-weight="normal" font-family='"Liberation Serif","Noto Serif CJK SC","Noto Serif CJK TC",serif'  stroke="#111" stroke-width="0.70" stroke-linejoin="round">26</text>
<text transform="translate(546.21,684.36) scale(0.2457,0.3150)" font-size="20" text-anchor="middle" fill="#111" font-weight="normal" font-family='"Liberation Serif","Noto Serif CJK SC","Noto Serif CJK TC",serif'  stroke="#111" stroke-width="0.70" stroke-linejoin="round">14</text>
<text transform="translate(556.64,548.89) scale(0.2457,0.3150)" font-size="20" text-anchor="middle" fill="#111" font-weight="normal" font-family='"Liberation Serif","Noto Serif CJK SC","Noto Serif CJK TC",serif'  stroke="#111" stroke-width="0.70" stroke-linejoin="round">42</text>
<text transform="translate(567.07,582.76) scale(0.2457,0.3150)" font-size="20" text-anchor="middle" fill="#111" font-weight="normal" font-family='"Liberation Serif","Noto Serif CJK SC","Noto Serif CJK TC",serif'  stroke="#111" stroke-width="0.70" stroke-linejoin="round">35</text>
<text transform="translate(577.50,626.30) scale(0.2457,0.3150)" font-size="20" text-anchor="middle" fill="#111" font-weight="normal" font-family='"Liberation Serif","Noto Serif CJK SC","Noto Serif CJK TC",serif'  stroke="#111" stroke-width="0.70" stroke-linejoin="round">26</text>
<text transform="translate(587.93,592.44) scale(0.2457,0.3150)" font-size="20" text-anchor="middle" fill="#111" font-weight="normal" font-family='"Liberation Serif","Noto Serif CJK SC","Noto Serif CJK TC",serif'  stroke="#111" stroke-width="0.70" stroke-linejoin="round">33</text>
<text transform="translate(598.36,524.70) scale(0.2457,0.3150)" font-size="20" text-anchor="middle" fill="#111" font-weight="normal" font-family='"Liberation Serif","Noto Serif CJK SC","Noto Serif CJK TC",serif'  stroke="#111" stroke-width="0.70" stroke-linejoin="round">47</text>
<text transform="translate(608.79,558.57) scale(0.2457,0.3150)" font-size="20" text-anchor="middle" fill="#111" font-weight="normal" font-family='"Liberation Serif","Noto Serif CJK SC","Noto Serif CJK TC",serif'  stroke="#111" stroke-width="0.70" stroke-linejoin="round">40</text>
<text transform="translate(619.23,616.63) scale(0.2457,0.3150)" font-size="20" text-anchor="middle" fill="#111" font-weight="normal" font-family='"Liberation Serif","Noto Serif CJK SC","Noto Serif CJK TC",serif'  stroke="#111" stroke-width="0.70" stroke-linejoin="round">28</text>
<text transform="translate(629.66,602.11) scale(0.2457,0.3150)" font-size="20" text-anchor="middle" fill="#111" font-weight="normal" font-family='"Liberation Serif","Noto Serif CJK SC","Noto Serif CJK TC",serif'  stroke="#111" stroke-width="0.70" stroke-linejoin="round">31</text>
<text transform="translate(640.09,650.50) scale(0.2457,0.3150)" font-size="20" text-anchor="middle" fill="#111" font-weight="normal" font-family='"Liberation Serif","Noto Serif CJK SC","Noto Serif CJK TC",serif'  stroke="#111" stroke-width="0.70" stroke-linejoin="round">21</text>
<text transform="translate(650.52,597.27) scale(0.2457,0.3150)" font-size="20" text-anchor="middle" fill="#111" font-weight="normal" font-family='"Liberation Serif","Noto Serif CJK SC","Noto Serif CJK TC",serif'  stroke="#111" stroke-width="0.70" stroke-linejoin="round">32</text>
<text transform="translate(660.95,640.82) scale(0.2457,0.3150)" font-size="20" text-anchor="middle" fill="#111" font-weight="normal" font-family='"Liberation Serif","Noto Serif CJK SC","Noto Serif CJK TC",serif'  stroke="#111" stroke-width="0.70" stroke-linejoin="round">23</text>
<text transform="translate(671.38,669.85) scale(0.2457,0.3150)" font-size="20" text-anchor="middle" fill="#111" font-weight="normal" font-family='"Liberation Serif","Noto Serif CJK SC","Noto Serif CJK TC",serif'  stroke="#111" stroke-width="0.70" stroke-linejoin="round">17</text>
<text transform="translate(87.22,737.59) scale(0.2457,0.3150)" font-size="20" text-anchor="middle" fill="#111" font-weight="normal" font-family='"Liberation Serif","Noto Serif CJK SC","Noto Serif CJK TC",serif'  stroke="#111" stroke-width="0.70" stroke-linejoin="round">3</text>
<text transform="translate(97.65,723.07) scale(0.2457,0.3150)" font-size="20" text-anchor="middle" fill="#111" font-weight="normal" font-family='"Liberation Serif","Noto Serif CJK SC","Noto Serif CJK TC",serif'  stroke="#111" stroke-width="0.70" stroke-linejoin="round">6</text>
<text transform="translate(108.08,713.39) scale(0.2457,0.3150)" font-size="20" text-anchor="middle" fill="#111" font-weight="normal" font-family='"Liberation Serif","Noto Serif CJK SC","Noto Serif CJK TC",serif'  stroke="#111" stroke-width="0.70" stroke-linejoin="round">8</text>
<text transform="translate(118.51,723.07) scale(0.2457,0.3150)" font-size="20" text-anchor="middle" fill="#111" font-weight="normal" font-family='"Liberation Serif","Noto Serif CJK SC","Noto Serif CJK TC",serif'  stroke="#111" stroke-width="0.70" stroke-linejoin="round">6</text>
<text transform="translate(128.94,631.14) scale(0.2457,0.3150)" font-size="20" text-anchor="middle" fill="#111" font-weight="normal" font-family='"Liberation Serif","Noto Serif CJK SC","Noto Serif CJK TC",serif'  stroke="#111" stroke-width="0.70" stroke-linejoin="round">25</text>
<text transform="translate(139.37,616.63) scale(0.2457,0.3150)" font-size="20" text-anchor="middle" fill="#111" font-weight="normal" font-family='"Liberation Serif","Noto Serif CJK SC","Noto Serif CJK TC",serif'  stroke="#111" stroke-width="0.70" stroke-linejoin="round">28</text>
<text transform="translate(149.81,587.60) scale(0.2457,0.3150)" font-size="20" text-anchor="middle" fill="#111" font-weight="normal" font-family='"Liberation Serif","Noto Serif CJK SC","Noto Serif CJK TC",serif'  stroke="#111" stroke-width="0.70" stroke-linejoin="round">34</text>
<text transform="translate(160.24,718.23) scale(0.2457,0.3150)" font-size="20" text-anchor="middle" fill="#111" font-weight="normal" font-family='"Liberation Serif","Noto Serif CJK SC","Noto Serif CJK TC",serif'  stroke="#111" stroke-width="0.70" stroke-linejoin="round">7</text>
<text transform="translate(170.67,611.79) scale(0.2457,0.3150)" font-size="20" text-anchor="middle" fill="#111" font-weight="normal" font-family='"Liberation Serif","Noto Serif CJK SC","Noto Serif CJK TC",serif'  stroke="#111" stroke-width="0.70" stroke-linejoin="round">29</text>
<text transform="translate(181.10,631.14) scale(0.2457,0.3150)" font-size="20" text-anchor="middle" fill="#111" font-weight="normal" font-family='"Liberation Serif","Noto Serif CJK SC","Noto Serif CJK TC",serif'  stroke="#111" stroke-width="0.70" stroke-linejoin="round">25</text>
<text transform="translate(191.53,679.52) scale(0.2457,0.3150)" font-size="20" text-anchor="middle" fill="#111" font-weight="normal" font-family='"Liberation Serif","Noto Serif CJK SC","Noto Serif CJK TC",serif'  stroke="#111" stroke-width="0.70" stroke-linejoin="round">15</text>
<text transform="translate(201.96,582.76) scale(0.2457,0.3150)" font-size="20" text-anchor="middle" fill="#111" font-weight="normal" font-family='"Liberation Serif","Noto Serif CJK SC","Noto Serif CJK TC",serif'  stroke="#111" stroke-width="0.70" stroke-linejoin="round">35</text>
<text transform="translate(212.39,568.24) scale(0.2457,0.3150)" font-size="20" text-anchor="middle" fill="#111" font-weight="normal" font-family='"Liberation Serif","Noto Serif CJK SC","Noto Serif CJK TC",serif'  stroke="#111" stroke-width="0.70" stroke-linejoin="round">38</text>
<text transform="translate(222.83,534.38) scale(0.2457,0.3150)" font-size="20" text-anchor="middle" fill="#111" font-weight="normal" font-family='"Liberation Serif","Noto Serif CJK SC","Noto Serif CJK TC",serif'  stroke="#111" stroke-width="0.70" stroke-linejoin="round">45</text>
<text transform="translate(233.26,611.79) scale(0.2457,0.3150)" font-size="20" text-anchor="middle" fill="#111" font-weight="normal" font-family='"Liberation Serif","Noto Serif CJK SC","Noto Serif CJK TC",serif'  stroke="#111" stroke-width="0.70" stroke-linejoin="round">29</text>
<text transform="translate(243.69,568.24) scale(0.2457,0.3150)" font-size="20" text-anchor="middle" fill="#111" font-weight="normal" font-family='"Liberation Serif","Noto Serif CJK SC","Noto Serif CJK TC",serif'  stroke="#111" stroke-width="0.70" stroke-linejoin="round">38</text>
<text transform="translate(254.12,587.60) scale(0.2457,0.3150)" font-size="20" text-anchor="middle" fill="#111" font-weight="normal" font-family='"Liberation Serif","Noto Serif CJK SC","Noto Serif CJK TC",serif'  stroke="#111" stroke-width="0.70" stroke-linejoin="round">34</text>
<text transform="translate(264.55,558.57) scale(0.2457,0.3150)" font-size="20" text-anchor="middle" fill="#111" font-weight="normal" font-family='"Liberation Serif","Noto Serif CJK SC","Noto Serif CJK TC",serif'  stroke="#111" stroke-width="0.70" stroke-linejoin="round">40</text>
<text transform="translate(274.98,606.95) scale(0.2457,0.3150)" font-size="20" text-anchor="middle" fill="#111" font-weight="normal" font-family='"Liberation Serif","Noto Serif CJK SC","Noto Serif CJK TC",serif'  stroke="#111" stroke-width="0.70" stroke-linejoin="round">30</text>
<text transform="translate(285.42,592.44) scale(0.2457,0.3150)" font-size="20" text-anchor="middle" fill="#111" font-weight="normal" font-family='"Liberation Serif","Noto Serif CJK SC","Noto Serif CJK TC",serif'  stroke="#111" stroke-width="0.70" stroke-linejoin="round">33</text>
<text transform="translate(295.85,573.08) scale(0.2457,0.3150)" font-size="20" text-anchor="middle" fill="#111" font-weight="normal" font-family='"Liberation Serif","Noto Serif CJK SC","Noto Serif CJK TC",serif'  stroke="#111" stroke-width="0.70" stroke-linejoin="round">37</text>
<text transform="translate(306.28,606.95) scale(0.2457,0.3150)" font-size="20" text-anchor="middle" fill="#111" font-weight="normal" font-family='"Liberation Serif","Noto Serif CJK SC","Noto Serif CJK TC",serif'  stroke="#111" stroke-width="0.70" stroke-linejoin="round">30</text>
<text transform="translate(316.71,626.30) scale(0.2457,0.3150)" font-size="20" text-anchor="middle" fill="#111" font-weight="normal" font-family='"Liberation Serif","Noto Serif CJK SC","Noto Serif CJK TC",serif'  stroke="#111" stroke-width="0.70" stroke-linejoin="round">26</text>
<text transform="translate(327.14,640.82) scale(0.2457,0.3150)" font-size="20" text-anchor="middle" fill="#111" font-weight="normal" font-family='"Liberation Serif","Noto Serif CJK SC","Noto Serif CJK TC",serif'  stroke="#111" stroke-width="0.70" stroke-linejoin="round">23</text>
<text transform="translate(337.57,602.11) scale(0.2457,0.3150)" font-size="20" text-anchor="middle" fill="#111" font-weight="normal" font-family='"Liberation Serif","Noto Serif CJK SC","Noto Serif CJK TC",serif'  stroke="#111" stroke-width="0.70" stroke-linejoin="round">31</text>
<text transform="translate(348.01,602.11) scale(0.2457,0.3150)" font-size="20" text-anchor="middle" fill="#111" font-weight="normal" font-family='"Liberation Serif","Noto Serif CJK SC","Noto Serif CJK TC",serif'  stroke="#111" stroke-width="0.70" stroke-linejoin="round">31</text>
<text transform="translate(358.44,655.33) scale(0.2457,0.3150)" font-size="20" text-anchor="middle" fill="#111" font-weight="normal" font-family='"Liberation Serif","Noto Serif CJK SC","Noto Serif CJK TC",serif'  stroke="#111" stroke-width="0.70" stroke-linejoin="round">20</text>
<text transform="translate(368.87,582.76) scale(0.2457,0.3150)" font-size="20" text-anchor="middle" fill="#111" font-weight="normal" font-family='"Liberation Serif","Noto Serif CJK SC","Noto Serif CJK TC",serif'  stroke="#111" stroke-width="0.70" stroke-linejoin="round">35</text>
<text transform="translate(379.30,577.92) scale(0.2457,0.3150)" font-size="20" text-anchor="middle" fill="#111" font-weight="normal" font-family='"Liberation Serif","Noto Serif CJK SC","Noto Serif CJK TC",serif'  stroke="#111" stroke-width="0.70" stroke-linejoin="round">36</text>
<text transform="translate(389.73,640.82) scale(0.2457,0.3150)" font-size="20" text-anchor="middle" fill="#111" font-weight="normal" font-family='"Liberation Serif","Noto Serif CJK SC","Noto Serif CJK TC",serif'  stroke="#111" stroke-width="0.70" stroke-linejoin="round">23</text>
<text transform="translate(400.16,679.52) scale(0.2457,0.3150)" font-size="20" text-anchor="middle" fill="#111" font-weight="normal" font-family='"Liberation Serif","Noto Serif CJK SC","Noto Serif CJK TC",serif'  stroke="#111" stroke-width="0.70" stroke-linejoin="round">15</text>
<text transform="translate(410.59,703.72) scale(0.2457,0.3150)" font-size="20" text-anchor="middle" fill="#111" font-weight="normal" font-family='"Liberation Serif","Noto Serif CJK SC","Noto Serif CJK TC",serif'  stroke="#111" stroke-width="0.70" stroke-linejoin="round">10</text>
<text transform="translate(421.03,616.63) scale(0.2457,0.3150)" font-size="20" text-anchor="middle" fill="#111" font-weight="normal" font-family='"Liberation Serif","Noto Serif CJK SC","Noto Serif CJK TC",serif'  stroke="#111" stroke-width="0.70" stroke-linejoin="round">28</text>
<text transform="translate(431.46,640.82) scale(0.2457,0.3150)" font-size="20" text-anchor="middle" fill="#111" font-weight="normal" font-family='"Liberation Serif","Noto Serif CJK SC","Noto Serif CJK TC",serif'  stroke="#111" stroke-width="0.70" stroke-linejoin="round">23</text>
<text transform="translate(441.89,674.69) scale(0.2457,0.3150)" font-size="20" text-anchor="middle" fill="#111" font-weight="normal" font-family='"Liberation Serif","Noto Serif CJK SC","Noto Serif CJK TC",serif'  stroke="#111" stroke-width="0.70" stroke-linejoin="round">16</text>
<text transform="translate(452.32,650.50) scale(0.2457,0.3150)" font-size="20" text-anchor="middle" fill="#111" font-weight="normal" font-family='"Liberation Serif","Noto Serif CJK SC","Noto Serif CJK TC",serif'  stroke="#111" stroke-width="0.70" stroke-linejoin="round">21</text>
<text transform="translate(462.75,655.33) scale(0.2457,0.3150)" font-size="20" text-anchor="middle" fill="#111" font-weight="normal" font-family='"Liberation Serif","Noto Serif CJK SC","Noto Serif CJK TC",serif'  stroke="#111" stroke-width="0.70" stroke-linejoin="round">20</text>
<text transform="translate(473.18,674.69) scale(0.2457,0.3150)" font-size="20" text-anchor="middle" fill="#111" font-weight="normal" font-family='"Liberation Serif","Noto Serif CJK SC","Noto Serif CJK TC",serif'  stroke="#111" stroke-width="0.70" stroke-linejoin="round">16</text>
<text transform="translate(483.62,500.51) scale(0.2457,0.3150)" font-size="20" text-anchor="middle" fill="#111" font-weight="normal" font-family='"Liberation Serif","Noto Serif CJK SC","Noto Serif CJK TC",serif'  stroke="#111" stroke-width="0.70" stroke-linejoin="round">52</text>
<text transform="translate(494.05,635.98) scale(0.2457,0.3150)" font-size="20" text-anchor="middle" fill="#111" font-weight="normal" font-family='"Liberation Serif","Noto Serif CJK SC","Noto Serif CJK TC",serif'  stroke="#111" stroke-width="0.70" stroke-linejoin="round">24</text>
<text transform="translate(504.48,602.11) scale(0.2457,0.3150)" font-size="20" text-anchor="middle" fill="#111" font-weight="normal" font-family='"Liberation Serif","Noto Serif CJK SC","Noto Serif CJK TC",serif'  stroke="#111" stroke-width="0.70" stroke-linejoin="round">31</text>
<text transform="translate(514.91,631.14) scale(0.2457,0.3150)" font-size="20" text-anchor="middle" fill="#111" font-weight="normal" font-family='"Liberation Serif","Noto Serif CJK SC","Noto Serif CJK TC",serif'  stroke="#111" stroke-width="0.70" stroke-linejoin="round">25</text>
<text transform="translate(525.34,684.36) scale(0.2457,0.3150)" font-size="20" text-anchor="middle" fill="#111" font-weight="normal" font-family='"Liberation Serif","Noto Serif CJK SC","Noto Serif CJK TC",serif'  stroke="#111" stroke-width="0.70" stroke-linejoin="round">14</text>
<text transform="translate(535.77,616.63) scale(0.2457,0.3150)" font-size="20" text-anchor="middle" fill="#111" font-weight="normal" font-family='"Liberation Serif","Noto Serif CJK SC","Noto Serif CJK TC",serif'  stroke="#111" stroke-width="0.70" stroke-linejoin="round">28</text>
<text transform="translate(546.21,669.85) scale(0.2457,0.3150)" font-size="20" text-anchor="middle" fill="#111" font-weight="normal" font-family='"Liberation Serif","Noto Serif CJK SC","Noto Serif CJK TC",serif'  stroke="#111" stroke-width="0.70" stroke-linejoin="round">17</text>
<text transform="translate(556.64,660.17) scale(0.2457,0.3150)" font-size="20" text-anchor="middle" fill="#111" font-weight="normal" font-family='"Liberation Serif","Noto Serif CJK SC","Noto Serif CJK TC",serif'  stroke="#111" stroke-width="0.70" stroke-linejoin="round">19</text>
<text transform="translate(567.07,577.92) scale(0.2457,0.3150)" font-size="20" text-anchor="middle" fill="#111" font-weight="normal" font-family='"Liberation Serif","Noto Serif CJK SC","Noto Serif CJK TC",serif'  stroke="#111" stroke-width="0.70" stroke-linejoin="round">36</text>
<text transform="translate(577.50,626.30) scale(0.2457,0.3150)" font-size="20" text-anchor="middle" fill="#111" font-weight="normal" font-family='"Liberation Serif","Noto Serif CJK SC","Noto Serif CJK TC",serif'  stroke="#111" stroke-width="0.70" stroke-linejoin="round">26</text>
<text transform="translate(587.93,650.50) scale(0.2457,0.3150)" font-size="20" text-anchor="middle" fill="#111" font-weight="normal" font-family='"Liberation Serif","Noto Serif CJK SC","Noto Serif CJK TC",serif'  stroke="#111" stroke-width="0.70" stroke-linejoin="round">21</text>
<text transform="translate(598.36,616.63) scale(0.2457,0.3150)" font-size="20" text-anchor="middle" fill="#111" font-weight="normal" font-family='"Liberation Serif","Noto Serif CJK SC","Noto Serif CJK TC",serif'  stroke="#111" stroke-width="0.70" stroke-linejoin="round">28</text>
<text transform="translate(608.79,602.11) scale(0.2457,0.3150)" font-size="20" text-anchor="middle" fill="#111" font-weight="normal" font-family='"Liberation Serif","Noto Serif CJK SC","Noto Serif CJK TC",serif'  stroke="#111" stroke-width="0.70" stroke-linejoin="round">31</text>
<text transform="translate(619.23,553.73) scale(0.2457,0.3150)" font-size="20" text-anchor="middle" fill="#111" font-weight="normal" font-family='"Liberation Serif","Noto Serif CJK SC","Noto Serif CJK TC",serif'  stroke="#111" stroke-width="0.70" stroke-linejoin="round">41</text>
<text transform="translate(629.66,631.14) scale(0.2457,0.3150)" font-size="20" text-anchor="middle" fill="#111" font-weight="normal" font-family='"Liberation Serif","Noto Serif CJK SC","Noto Serif CJK TC",serif'  stroke="#111" stroke-width="0.70" stroke-linejoin="round">25</text>
<text transform="translate(640.09,621.47) scale(0.2457,0.3150)" font-size="20" text-anchor="middle" fill="#111" font-weight="normal" font-family='"Liberation Serif","Noto Serif CJK SC","Noto Serif CJK TC",serif'  stroke="#111" stroke-width="0.70" stroke-linejoin="round">27</text>
<text transform="translate(650.52,655.33) scale(0.2457,0.3150)" font-size="20" text-anchor="middle" fill="#111" font-weight="normal" font-family='"Liberation Serif","Noto Serif CJK SC","Noto Serif CJK TC",serif'  stroke="#111" stroke-width="0.70" stroke-linejoin="round">20</text>
<text transform="translate(660.95,669.85) scale(0.2457,0.3150)" font-size="20" text-anchor="middle" fill="#111" font-weight="normal" font-family='"Liberation Serif","Noto Serif CJK SC","Noto Serif CJK TC",serif'  stroke="#111" stroke-width="0.70" stroke-linejoin="round">17</text>
<text transform="translate(671.38,650.50) scale(0.2457,0.3150)" font-size="20" text-anchor="middle" fill="#111" font-weight="normal" font-family='"Liberation Serif","Noto Serif CJK SC","Noto Serif CJK TC",serif'  stroke="#111" stroke-width="0.70" stroke-linejoin="round">21</text>
<text transform="translate(87.22,752.10) scale(0.2457,0.3150)" font-size="20" text-anchor="middle" fill="#111" font-weight="normal" font-family='"Liberation Serif","Noto Serif CJK SC","Noto Serif CJK TC",serif'  stroke="#111" stroke-width="0.70" stroke-linejoin="round">0</text>
<text transform="translate(97.65,752.10) scale(0.2457,0.3150)" font-size="20" text-anchor="middle" fill="#111" font-weight="normal" font-family='"Liberation Serif","Noto Serif CJK SC","Noto Serif CJK TC",serif'  stroke="#111" stroke-width="0.70" stroke-linejoin="round">0</text>
<text transform="translate(108.08,752.10) scale(0.2457,0.3150)" font-size="20" text-anchor="middle" fill="#111" font-weight="normal" font-family='"Liberation Serif","Noto Serif CJK SC","Noto Serif CJK TC",serif'  stroke="#111" stroke-width="0.70" stroke-linejoin="round">0</text>
<text transform="translate(118.51,752.10) scale(0.2457,0.3150)" font-size="20" text-anchor="middle" fill="#111" font-weight="normal" font-family='"Liberation Serif","Noto Serif CJK SC","Noto Serif CJK TC",serif'  stroke="#111" stroke-width="0.70" stroke-linejoin="round">0</text>
<text transform="translate(128.94,752.10) scale(0.2457,0.3150)" font-size="20" text-anchor="middle" fill="#111" font-weight="normal" font-family='"Liberation Serif","Noto Serif CJK SC","Noto Serif CJK TC",serif'  stroke="#111" stroke-width="0.70" stroke-linejoin="round">0</text>
<text transform="translate(139.37,752.10) scale(0.2457,0.3150)" font-size="20" text-anchor="middle" fill="#111" font-weight="normal" font-family='"Liberation Serif","Noto Serif CJK SC","Noto Serif CJK TC",serif'  stroke="#111" stroke-width="0.70" stroke-linejoin="round">0</text>
<text transform="translate(149.81,737.59) scale(0.2457,0.3150)" font-size="20" text-anchor="middle" fill="#111" font-weight="normal" font-family='"Liberation Serif","Noto Serif CJK SC","Noto Serif CJK TC",serif'  stroke="#111" stroke-width="0.70" stroke-linejoin="round">3</text>
<text transform="translate(160.24,752.10) scale(0.2457,0.3150)" font-size="20" text-anchor="middle" fill="#111" font-weight="normal" font-family='"Liberation Serif","Noto Serif CJK SC","Noto Serif CJK TC",serif'  stroke="#111" stroke-width="0.70" stroke-linejoin="round">0</text>
<text transform="translate(170.67,742.42) scale(0.2457,0.3150)" font-size="20" text-anchor="middle" fill="#111" font-weight="normal" font-family='"Liberation Serif","Noto Serif CJK SC","Noto Serif CJK TC",serif'  stroke="#111" stroke-width="0.70" stroke-linejoin="round">2</text>
<text transform="translate(181.10,747.26) scale(0.2457,0.3150)" font-size="20" text-anchor="middle" fill="#111" font-weight="normal" font-family='"Liberation Serif","Noto Serif CJK SC","Noto Serif CJK TC",serif'  stroke="#111" stroke-width="0.70" stroke-linejoin="round">1</text>
<text transform="translate(191.53,747.26) scale(0.2457,0.3150)" font-size="20" text-anchor="middle" fill="#111" font-weight="normal" font-family='"Liberation Serif","Noto Serif CJK SC","Noto Serif CJK TC",serif'  stroke="#111" stroke-width="0.70" stroke-linejoin="round">1</text>
<text transform="translate(201.96,747.26) scale(0.2457,0.3150)" font-size="20" text-anchor="middle" fill="#111" font-weight="normal" font-family='"Liberation Serif","Noto Serif CJK SC","Noto Serif CJK TC",serif'  stroke="#111" stroke-width="0.70" stroke-linejoin="round">1</text>
<text transform="translate(212.39,742.42) scale(0.2457,0.3150)" font-size="20" text-anchor="middle" fill="#111" font-weight="normal" font-family='"Liberation Serif","Noto Serif CJK SC","Noto Serif CJK TC",serif'  stroke="#111" stroke-width="0.70" stroke-linejoin="round">2</text>
<text transform="translate(222.83,752.10) scale(0.2457,0.3150)" font-size="20" text-anchor="middle" fill="#111" font-weight="normal" font-family='"Liberation Serif","Noto Serif CJK SC","Noto Serif CJK TC",serif'  stroke="#111" stroke-width="0.70" stroke-linejoin="round">0</text>
<text transform="translate(233.26,747.26) scale(0.2457,0.3150)" font-size="20" text-anchor="middle" fill="#111" font-weight="normal" font-family='"Liberation Serif","Noto Serif CJK SC","Noto Serif CJK TC",serif'  stroke="#111" stroke-width="0.70" stroke-linejoin="round">1</text>
<text transform="translate(243.69,747.26) scale(0.2457,0.3150)" font-size="20" text-anchor="middle" fill="#111" font-weight="normal" font-family='"Liberation Serif","Noto Serif CJK SC","Noto Serif CJK TC",serif'  stroke="#111" stroke-width="0.70" stroke-linejoin="round">1</text>
<text transform="translate(254.12,747.26) scale(0.2457,0.3150)" font-size="20" text-anchor="middle" fill="#111" font-weight="normal" font-family='"Liberation Serif","Noto Serif CJK SC","Noto Serif CJK TC",serif'  stroke="#111" stroke-width="0.70" stroke-linejoin="round">1</text>
<text transform="translate(264.55,747.26) scale(0.2457,0.3150)" font-size="20" text-anchor="middle" fill="#111" font-weight="normal" font-family='"Liberation Serif","Noto Serif CJK SC","Noto Serif CJK TC",serif'  stroke="#111" stroke-width="0.70" stroke-linejoin="round">1</text>
<text transform="translate(274.98,747.26) scale(0.2457,0.3150)" font-size="20" text-anchor="middle" fill="#111" font-weight="normal" font-family='"Liberation Serif","Noto Serif CJK SC","Noto Serif CJK TC",serif'  stroke="#111" stroke-width="0.70" stroke-linejoin="round">1</text>
<text transform="translate(285.42,747.26) scale(0.2457,0.3150)" font-size="20" text-anchor="middle" fill="#111" font-weight="normal" font-family='"Liberation Serif","Noto Serif CJK SC","Noto Serif CJK TC",serif'  stroke="#111" stroke-width="0.70" stroke-linejoin="round">1</text>
<text transform="translate(295.85,742.42) scale(0.2457,0.3150)" font-size="20" text-anchor="middle" fill="#111" font-weight="normal" font-family='"Liberation Serif","Noto Serif CJK SC","Noto Serif CJK TC",serif'  stroke="#111" stroke-width="0.70" stroke-linejoin="round">2</text>
<text transform="translate(306.28,742.42) scale(0.2457,0.3150)" font-size="20" text-anchor="middle" fill="#111" font-weight="normal" font-family='"Liberation Serif","Noto Serif CJK SC","Noto Serif CJK TC",serif'  stroke="#111" stroke-width="0.70" stroke-linejoin="round">2</text>
<text transform="translate(316.71,737.59) scale(0.2457,0.3150)" font-size="20" text-anchor="middle" fill="#111" font-weight="normal" font-family='"Liberation Serif","Noto Serif CJK SC","Noto Serif CJK TC",serif'  stroke="#111" stroke-width="0.70" stroke-linejoin="round">3</text>
<text transform="translate(327.14,747.26) scale(0.2457,0.3150)" font-size="20" text-anchor="middle" fill="#111" font-weight="normal" font-family='"Liberation Serif","Noto Serif CJK SC","Noto Serif CJK TC",serif'  stroke="#111" stroke-width="0.70" stroke-linejoin="round">1</text>
<text transform="translate(337.57,737.59) scale(0.2457,0.3150)" font-size="20" text-anchor="middle" fill="#111" font-weight="normal" font-family='"Liberation Serif","Noto Serif CJK SC","Noto Serif CJK TC",serif'  stroke="#111" stroke-width="0.70" stroke-linejoin="round">3</text>
<text transform="translate(348.01,742.42) scale(0.2457,0.3150)" font-size="20" text-anchor="middle" fill="#111" font-weight="normal" font-family='"Liberation Serif","Noto Serif CJK SC","Noto Serif CJK TC",serif'  stroke="#111" stroke-width="0.70" stroke-linejoin="round">2</text>
<text transform="translate(358.44,732.75) scale(0.2457,0.3150)" font-size="20" text-anchor="middle" fill="#111" font-weight="normal" font-family='"Liberation Serif","Noto Serif CJK SC","Noto Serif CJK TC",serif'  stroke="#111" stroke-width="0.70" stroke-linejoin="round">4</text>
<text transform="translate(368.87,737.59) scale(0.2457,0.3150)" font-size="20" text-anchor="middle" fill="#111" font-weight="normal" font-family='"Liberation Serif","Noto Serif CJK SC","Noto Serif CJK TC",serif'  stroke="#111" stroke-width="0.70" stroke-linejoin="round">3</text>
<text transform="translate(379.30,713.39) scale(0.2457,0.3150)" font-size="20" text-anchor="middle" fill="#111" font-weight="normal" font-family='"Liberation Serif","Noto Serif CJK SC","Noto Serif CJK TC",serif'  stroke="#111" stroke-width="0.70" stroke-linejoin="round">8</text>
<text transform="translate(389.73,742.42) scale(0.2457,0.3150)" font-size="20" text-anchor="middle" fill="#111" font-weight="normal" font-family='"Liberation Serif","Noto Serif CJK SC","Noto Serif CJK TC",serif'  stroke="#111" stroke-width="0.70" stroke-linejoin="round">2</text>
<text transform="translate(400.16,732.75) scale(0.2457,0.3150)" font-size="20" text-anchor="middle" fill="#111" font-weight="normal" font-family='"Liberation Serif","Noto Serif CJK SC","Noto Serif CJK TC",serif'  stroke="#111" stroke-width="0.70" stroke-linejoin="round">4</text>
<text transform="translate(410.59,742.42) scale(0.2457,0.3150)" font-size="20" text-anchor="middle" fill="#111" font-weight="normal" font-family='"Liberation Serif","Noto Serif CJK SC","Noto Serif CJK TC",serif'  stroke="#111" stroke-width="0.70" stroke-linejoin="round">2</text>
<text transform="translate(421.03,732.75) scale(0.2457,0.3150)" font-size="20" text-anchor="middle" fill="#111" font-weight="normal" font-family='"Liberation Serif","Noto Serif CJK SC","Noto Serif CJK TC",serif'  stroke="#111" stroke-width="0.70" stroke-linejoin="round">4</text>
<text transform="translate(431.46,732.75) scale(0.2457,0.3150)" font-size="20" text-anchor="middle" fill="#111" font-weight="normal" font-family='"Liberation Serif","Noto Serif CJK SC","Noto Serif CJK TC",serif'  stroke="#111" stroke-width="0.70" stroke-linejoin="round">4</text>
<text transform="translate(441.89,718.23) scale(0.2457,0.3150)" font-size="20" text-anchor="middle" fill="#111" font-weight="normal" font-family='"Liberation Serif","Noto Serif CJK SC","Noto Serif CJK TC",serif'  stroke="#111" stroke-width="0.70" stroke-linejoin="round">7</text>
<text transform="translate(452.32,732.75) scale(0.2457,0.3150)" font-size="20" text-anchor="middle" fill="#111" font-weight="normal" font-family='"Liberation Serif","Noto Serif CJK SC","Noto Serif CJK TC",serif'  stroke="#111" stroke-width="0.70" stroke-linejoin="round">4</text>
<text transform="translate(462.75,752.10) scale(0.2457,0.3150)" font-size="20" text-anchor="middle" fill="#111" font-weight="normal" font-family='"Liberation Serif","Noto Serif CJK SC","Noto Serif CJK TC",serif'  stroke="#111" stroke-width="0.70" stroke-linejoin="round">0</text>
<text transform="translate(473.18,752.10) scale(0.2457,0.3150)" font-size="20" text-anchor="middle" fill="#111" font-weight="normal" font-family='"Liberation Serif","Noto Serif CJK SC","Noto Serif CJK TC",serif'  stroke="#111" stroke-width="0.70" stroke-linejoin="round">0</text>
<text transform="translate(483.62,742.42) scale(0.2457,0.3150)" font-size="20" text-anchor="middle" fill="#111" font-weight="normal" font-family='"Liberation Serif","Noto Serif CJK SC","Noto Serif CJK TC",serif'  stroke="#111" stroke-width="0.70" stroke-linejoin="round">2</text>
<text transform="translate(494.05,752.10) scale(0.2457,0.3150)" font-size="20" text-anchor="middle" fill="#111" font-weight="normal" font-family='"Liberation Serif","Noto Serif CJK SC","Noto Serif CJK TC",serif'  stroke="#111" stroke-width="0.70" stroke-linejoin="round">0</text>
<text transform="translate(504.48,752.10) scale(0.2457,0.3150)" font-size="20" text-anchor="middle" fill="#111" font-weight="normal" font-family='"Liberation Serif","Noto Serif CJK SC","Noto Serif CJK TC",serif'  stroke="#111" stroke-width="0.70" stroke-linejoin="round">0</text>
<text transform="translate(514.91,752.10) scale(0.2457,0.3150)" font-size="20" text-anchor="middle" fill="#111" font-weight="normal" font-family='"Liberation Serif","Noto Serif CJK SC","Noto Serif CJK TC",serif'  stroke="#111" stroke-width="0.70" stroke-linejoin="round">0</text>
<text transform="translate(525.34,747.26) scale(0.2457,0.3150)" font-size="20" text-anchor="middle" fill="#111" font-weight="normal" font-family='"Liberation Serif","Noto Serif CJK SC","Noto Serif CJK TC",serif'  stroke="#111" stroke-width="0.70" stroke-linejoin="round">1</text>
<text transform="translate(535.77,752.10) scale(0.2457,0.3150)" font-size="20" text-anchor="middle" fill="#111" font-weight="normal" font-family='"Liberation Serif","Noto Serif CJK SC","Noto Serif CJK TC",serif'  stroke="#111" stroke-width="0.70" stroke-linejoin="round">0</text>
<text transform="translate(546.21,752.10) scale(0.2457,0.3150)" font-size="20" text-anchor="middle" fill="#111" font-weight="normal" font-family='"Liberation Serif","Noto Serif CJK SC","Noto Serif CJK TC",serif'  stroke="#111" stroke-width="0.70" stroke-linejoin="round">0</text>
<text transform="translate(556.64,752.10) scale(0.2457,0.3150)" font-size="20" text-anchor="middle" fill="#111" font-weight="normal" font-family='"Liberation Serif","Noto Serif CJK SC","Noto Serif CJK TC",serif'  stroke="#111" stroke-width="0.70" stroke-linejoin="round">0</text>
<text transform="translate(567.07,752.10) scale(0.2457,0.3150)" font-size="20" text-anchor="middle" fill="#111" font-weight="normal" font-family='"Liberation Serif","Noto Serif CJK SC","Noto Serif CJK TC",serif'  stroke="#111" stroke-width="0.70" stroke-linejoin="round">0</text>
<text transform="translate(577.50,752.10) scale(0.2457,0.3150)" font-size="20" text-anchor="middle" fill="#111" font-weight="normal" font-family='"Liberation Serif","Noto Serif CJK SC","Noto Serif CJK TC",serif'  stroke="#111" stroke-width="0.70" stroke-linejoin="round">0</text>
<text transform="translate(587.93,752.10) scale(0.2457,0.3150)" font-size="20" text-anchor="middle" fill="#111" font-weight="normal" font-family='"Liberation Serif","Noto Serif CJK SC","Noto Serif CJK TC",serif'  stroke="#111" stroke-width="0.70" stroke-linejoin="round">0</text>
<text transform="translate(598.36,752.10) scale(0.2457,0.3150)" font-size="20" text-anchor="middle" fill="#111" font-weight="normal" font-family='"Liberation Serif","Noto Serif CJK SC","Noto Serif CJK TC",serif'  stroke="#111" stroke-width="0.70" stroke-linejoin="round">0</text>
<text transform="translate(608.79,752.10) scale(0.2457,0.3150)" font-size="20" text-anchor="middle" fill="#111" font-weight="normal" font-family='"Liberation Serif","Noto Serif CJK SC","Noto Serif CJK TC",serif'  stroke="#111" stroke-width="0.70" stroke-linejoin="round">0</text>
<text transform="translate(619.23,752.10) scale(0.2457,0.3150)" font-size="20" text-anchor="middle" fill="#111" font-weight="normal" font-family='"Liberation Serif","Noto Serif CJK SC","Noto Serif CJK TC",serif'  stroke="#111" stroke-width="0.70" stroke-linejoin="round">0</text>
<text transform="translate(629.66,737.59) scale(0.2457,0.3150)" font-size="20" text-anchor="middle" fill="#111" font-weight="normal" font-family='"Liberation Serif","Noto Serif CJK SC","Noto Serif CJK TC",serif'  stroke="#111" stroke-width="0.70" stroke-linejoin="round">3</text>
<text transform="translate(640.09,752.10) scale(0.2457,0.3150)" font-size="20" text-anchor="middle" fill="#111" font-weight="normal" font-family='"Liberation Serif","Noto Serif CJK SC","Noto Serif CJK TC",serif'  stroke="#111" stroke-width="0.70" stroke-linejoin="round">0</text>
<text transform="translate(650.52,752.10) scale(0.2457,0.3150)" font-size="20" text-anchor="middle" fill="#111" font-weight="normal" font-family='"Liberation Serif","Noto Serif CJK SC","Noto Serif CJK TC",serif'  stroke="#111" stroke-width="0.70" stroke-linejoin="round">0</text>
<text transform="translate(660.95,752.10) scale(0.2457,0.3150)" font-size="20" text-anchor="middle" fill="#111" font-weight="normal" font-family='"Liberation Serif","Noto Serif CJK SC","Noto Serif CJK TC",serif'  stroke="#111" stroke-width="0.70" stroke-linejoin="round">0</text>
<text transform="translate(671.38,752.10) scale(0.2457,0.3150)" font-size="20" text-anchor="middle" fill="#111" font-weight="normal" font-family='"Liberation Serif","Noto Serif CJK SC","Noto Serif CJK TC",serif'  stroke="#111" stroke-width="0.70" stroke-linejoin="round">0</text>
<text transform="translate(87.22,752.10) scale(0.2457,0.3150)" font-size="20" text-anchor="middle" fill="#111" font-weight="normal" font-family='"Liberation Serif","Noto Serif CJK SC","Noto Serif CJK TC",serif'  stroke="#111" stroke-width="0.70" stroke-linejoin="round">0</text>
<text transform="translate(97.65,752.10) scale(0.2457,0.3150)" font-size="20" text-anchor="middle" fill="#111" font-weight="normal" font-family='"Liberation Serif","Noto Serif CJK SC","Noto Serif CJK TC",serif'  stroke="#111" stroke-width="0.70" stroke-linejoin="round">0</text>
<text transform="translate(108.08,752.10) scale(0.2457,0.3150)" font-size="20" text-anchor="middle" fill="#111" font-weight="normal" font-family='"Liberation Serif","Noto Serif CJK SC","Noto Serif CJK TC",serif'  stroke="#111" stroke-width="0.70" stroke-linejoin="round">0</text>
<text transform="translate(118.51,752.10) scale(0.2457,0.3150)" font-size="20" text-anchor="middle" fill="#111" font-weight="normal" font-family='"Liberation Serif","Noto Serif CJK SC","Noto Serif CJK TC",serif'  stroke="#111" stroke-width="0.70" stroke-linejoin="round">0</text>
<text transform="translate(128.94,752.10) scale(0.2457,0.3150)" font-size="20" text-anchor="middle" fill="#111" font-weight="normal" font-family='"Liberation Serif","Noto Serif CJK SC","Noto Serif CJK TC",serif'  stroke="#111" stroke-width="0.70" stroke-linejoin="round">0</text>
<text transform="translate(139.37,752.10) scale(0.2457,0.3150)" font-size="20" text-anchor="middle" fill="#111" font-weight="normal" font-family='"Liberation Serif","Noto Serif CJK SC","Noto Serif CJK TC",serif'  stroke="#111" stroke-width="0.70" stroke-linejoin="round">0</text>
<text transform="translate(149.81,747.26) scale(0.2457,0.3150)" font-size="20" text-anchor="middle" fill="#111" font-weight="normal" font-family='"Liberation Serif","Noto Serif CJK SC","Noto Serif CJK TC",serif'  stroke="#111" stroke-width="0.70" stroke-linejoin="round">1</text>
<text transform="translate(160.24,742.42) scale(0.2457,0.3150)" font-size="20" text-anchor="middle" fill="#111" font-weight="normal" font-family='"Liberation Serif","Noto Serif CJK SC","Noto Serif CJK TC",serif'  stroke="#111" stroke-width="0.70" stroke-linejoin="round">2</text>
<text transform="translate(170.67,747.26) scale(0.2457,0.3150)" font-size="20" text-anchor="middle" fill="#111" font-weight="normal" font-family='"Liberation Serif","Noto Serif CJK SC","Noto Serif CJK TC",serif'  stroke="#111" stroke-width="0.70" stroke-linejoin="round">1</text>
<text transform="translate(181.10,747.26) scale(0.2457,0.3150)" font-size="20" text-anchor="middle" fill="#111" font-weight="normal" font-family='"Liberation Serif","Noto Serif CJK SC","Noto Serif CJK TC",serif'  stroke="#111" stroke-width="0.70" stroke-linejoin="round">1</text>
<text transform="translate(191.53,747.26) scale(0.2457,0.3150)" font-size="20" text-anchor="middle" fill="#111" font-weight="normal" font-family='"Liberation Serif","Noto Serif CJK SC","Noto Serif CJK TC",serif'  stroke="#111" stroke-width="0.70" stroke-linejoin="round">1</text>
<text transform="translate(201.96,747.26) scale(0.2457,0.3150)" font-size="20" text-anchor="middle" fill="#111" font-weight="normal" font-family='"Liberation Serif","Noto Serif CJK SC","Noto Serif CJK TC",serif'  stroke="#111" stroke-width="0.70" stroke-linejoin="round">1</text>
<text transform="translate(212.39,747.26) scale(0.2457,0.3150)" font-size="20" text-anchor="middle" fill="#111" font-weight="normal" font-family='"Liberation Serif","Noto Serif CJK SC","Noto Serif CJK TC",serif'  stroke="#111" stroke-width="0.70" stroke-linejoin="round">1</text>
<text transform="translate(222.83,742.42) scale(0.2457,0.3150)" font-size="20" text-anchor="middle" fill="#111" font-weight="normal" font-family='"Liberation Serif","Noto Serif CJK SC","Noto Serif CJK TC",serif'  stroke="#111" stroke-width="0.70" stroke-linejoin="round">2</text>
<text transform="translate(233.26,752.10) scale(0.2457,0.3150)" font-size="20" text-anchor="middle" fill="#111" font-weight="normal" font-family='"Liberation Serif","Noto Serif CJK SC","Noto Serif CJK TC",serif'  stroke="#111" stroke-width="0.70" stroke-linejoin="round">0</text>
<text transform="translate(243.69,752.10) scale(0.2457,0.3150)" font-size="20" text-anchor="middle" fill="#111" font-weight="normal" font-family='"Liberation Serif","Noto Serif CJK SC","Noto Serif CJK TC",serif'  stroke="#111" stroke-width="0.70" stroke-linejoin="round">0</text>
<text transform="translate(254.12,747.26) scale(0.2457,0.3150)" font-size="20" text-anchor="middle" fill="#111" font-weight="normal" font-family='"Liberation Serif","Noto Serif CJK SC","Noto Serif CJK TC",serif'  stroke="#111" stroke-width="0.70" stroke-linejoin="round">1</text>
<text transform="translate(264.55,727.91) scale(0.2457,0.3150)" font-size="20" text-anchor="middle" fill="#111" font-weight="normal" font-family='"Liberation Serif","Noto Serif CJK SC","Noto Serif CJK TC",serif'  stroke="#111" stroke-width="0.70" stroke-linejoin="round">5</text>
<text transform="translate(274.98,742.42) scale(0.2457,0.3150)" font-size="20" text-anchor="middle" fill="#111" font-weight="normal" font-family='"Liberation Serif","Noto Serif CJK SC","Noto Serif CJK TC",serif'  stroke="#111" stroke-width="0.70" stroke-linejoin="round">2</text>
<text transform="translate(285.42,752.10) scale(0.2457,0.3150)" font-size="20" text-anchor="middle" fill="#111" font-weight="normal" font-family='"Liberation Serif","Noto Serif CJK SC","Noto Serif CJK TC",serif'  stroke="#111" stroke-width="0.70" stroke-linejoin="round">0</text>
<text transform="translate(295.85,727.91) scale(0.2457,0.3150)" font-size="20" text-anchor="middle" fill="#111" font-weight="normal" font-family='"Liberation Serif","Noto Serif CJK SC","Noto Serif CJK TC",serif'  stroke="#111" stroke-width="0.70" stroke-linejoin="round">5</text>
<text transform="translate(306.28,742.42) scale(0.2457,0.3150)" font-size="20" text-anchor="middle" fill="#111" font-weight="normal" font-family='"Liberation Serif","Noto Serif CJK SC","Noto Serif CJK TC",serif'  stroke="#111" stroke-width="0.70" stroke-linejoin="round">2</text>
<text transform="translate(316.71,747.26) scale(0.2457,0.3150)" font-size="20" text-anchor="middle" fill="#111" font-weight="normal" font-family='"Liberation Serif","Noto Serif CJK SC","Noto Serif CJK TC",serif'  stroke="#111" stroke-width="0.70" stroke-linejoin="round">1</text>
<text transform="translate(327.14,752.10) scale(0.2457,0.3150)" font-size="20" text-anchor="middle" fill="#111" font-weight="normal" font-family='"Liberation Serif","Noto Serif CJK SC","Noto Serif CJK TC",serif'  stroke="#111" stroke-width="0.70" stroke-linejoin="round">0</text>
<text transform="translate(337.57,737.59) scale(0.2457,0.3150)" font-size="20" text-anchor="middle" fill="#111" font-weight="normal" font-family='"Liberation Serif","Noto Serif CJK SC","Noto Serif CJK TC",serif'  stroke="#111" stroke-width="0.70" stroke-linejoin="round">3</text>
<text transform="translate(348.01,742.42) scale(0.2457,0.3150)" font-size="20" text-anchor="middle" fill="#111" font-weight="normal" font-family='"Liberation Serif","Noto Serif CJK SC","Noto Serif CJK TC",serif'  stroke="#111" stroke-width="0.70" stroke-linejoin="round">2</text>
<text transform="translate(358.44,752.10) scale(0.2457,0.3150)" font-size="20" text-anchor="middle" fill="#111" font-weight="normal" font-family='"Liberation Serif","Noto Serif CJK SC","Noto Serif CJK TC",serif'  stroke="#111" stroke-width="0.70" stroke-linejoin="round">0</text>
<text transform="translate(368.87,747.26) scale(0.2457,0.3150)" font-size="20" text-anchor="middle" fill="#111" font-weight="normal" font-family='"Liberation Serif","Noto Serif CJK SC","Noto Serif CJK TC",serif'  stroke="#111" stroke-width="0.70" stroke-linejoin="round">1</text>
<text transform="translate(379.30,718.23) scale(0.2457,0.3150)" font-size="20" text-anchor="middle" fill="#111" font-weight="normal" font-family='"Liberation Serif","Noto Serif CJK SC","Noto Serif CJK TC",serif'  stroke="#111" stroke-width="0.70" stroke-linejoin="round">7</text>
<text transform="translate(389.73,737.59) scale(0.2457,0.3150)" font-size="20" text-anchor="middle" fill="#111" font-weight="normal" font-family='"Liberation Serif","Noto Serif CJK SC","Noto Serif CJK TC",serif'  stroke="#111" stroke-width="0.70" stroke-linejoin="round">3</text>
<text transform="translate(400.16,747.26) scale(0.2457,0.3150)" font-size="20" text-anchor="middle" fill="#111" font-weight="normal" font-family='"Liberation Serif","Noto Serif CJK SC","Noto Serif CJK TC",serif'  stroke="#111" stroke-width="0.70" stroke-linejoin="round">1</text>
<text transform="translate(410.59,742.42) scale(0.2457,0.3150)" font-size="20" text-anchor="middle" fill="#111" font-weight="normal" font-family='"Liberation Serif","Noto Serif CJK SC","Noto Serif CJK TC",serif'  stroke="#111" stroke-width="0.70" stroke-linejoin="round">2</text>
<text transform="translate(421.03,727.91) scale(0.2457,0.3150)" font-size="20" text-anchor="middle" fill="#111" font-weight="normal" font-family='"Liberation Serif","Noto Serif CJK SC","Noto Serif CJK TC",serif'  stroke="#111" stroke-width="0.70" stroke-linejoin="round">5</text>
<text transform="translate(431.46,732.75) scale(0.2457,0.3150)" font-size="20" text-anchor="middle" fill="#111" font-weight="normal" font-family='"Liberation Serif","Noto Serif CJK SC","Noto Serif CJK TC",serif'  stroke="#111" stroke-width="0.70" stroke-linejoin="round">4</text>
<text transform="translate(441.89,742.42) scale(0.2457,0.3150)" font-size="20" text-anchor="middle" fill="#111" font-weight="normal" font-family='"Liberation Serif","Noto Serif CJK SC","Noto Serif CJK TC",serif'  stroke="#111" stroke-width="0.70" stroke-linejoin="round">2</text>
<text transform="translate(452.32,742.42) scale(0.2457,0.3150)" font-size="20" text-anchor="middle" fill="#111" font-weight="normal" font-family='"Liberation Serif","Noto Serif CJK SC","Noto Serif CJK TC",serif'  stroke="#111" stroke-width="0.70" stroke-linejoin="round">2</text>
<text transform="translate(462.75,737.59) scale(0.2457,0.3150)" font-size="20" text-anchor="middle" fill="#111" font-weight="normal" font-family='"Liberation Serif","Noto Serif CJK SC","Noto Serif CJK TC",serif'  stroke="#111" stroke-width="0.70" stroke-linejoin="round">3</text>
<text transform="translate(473.18,703.72) scale(0.2457,0.3150)" font-size="20" text-anchor="middle" fill="#111" font-weight="normal" font-family='"Liberation Serif","Noto Serif CJK SC","Noto Serif CJK TC",serif'  stroke="#111" stroke-width="0.70" stroke-linejoin="round">10</text>
<text transform="translate(483.62,737.59) scale(0.2457,0.3150)" font-size="20" text-anchor="middle" fill="#111" font-weight="normal" font-family='"Liberation Serif","Noto Serif CJK SC","Noto Serif CJK TC",serif'  stroke="#111" stroke-width="0.70" stroke-linejoin="round">3</text>
<text transform="translate(494.05,747.26) scale(0.2457,0.3150)" font-size="20" text-anchor="middle" fill="#111" font-weight="normal" font-family='"Liberation Serif","Noto Serif CJK SC","Noto Serif CJK TC",serif'  stroke="#111" stroke-width="0.70" stroke-linejoin="round">1</text>
<text transform="translate(504.48,718.23) scale(0.2457,0.3150)" font-size="20" text-anchor="middle" fill="#111" font-weight="normal" font-family='"Liberation Serif","Noto Serif CJK SC","Noto Serif CJK TC",serif'  stroke="#111" stroke-width="0.70" stroke-linejoin="round">7</text>
<text transform="translate(514.91,718.23) scale(0.2457,0.3150)" font-size="20" text-anchor="middle" fill="#111" font-weight="normal" font-family='"Liberation Serif","Noto Serif CJK SC","Noto Serif CJK TC",serif'  stroke="#111" stroke-width="0.70" stroke-linejoin="round">7</text>
<text transform="translate(525.34,732.75) scale(0.2457,0.3150)" font-size="20" text-anchor="middle" fill="#111" font-weight="normal" font-family='"Liberation Serif","Noto Serif CJK SC","Noto Serif CJK TC",serif'  stroke="#111" stroke-width="0.70" stroke-linejoin="round">4</text>
<text transform="translate(535.77,752.10) scale(0.2457,0.3150)" font-size="20" text-anchor="middle" fill="#111" font-weight="normal" font-family='"Liberation Serif","Noto Serif CJK SC","Noto Serif CJK TC",serif'  stroke="#111" stroke-width="0.70" stroke-linejoin="round">0</text>
<text transform="translate(546.21,752.10) scale(0.2457,0.3150)" font-size="20" text-anchor="middle" fill="#111" font-weight="normal" font-family='"Liberation Serif","Noto Serif CJK SC","Noto Serif CJK TC",serif'  stroke="#111" stroke-width="0.70" stroke-linejoin="round">0</text>
<text transform="translate(556.64,732.75) scale(0.2457,0.3150)" font-size="20" text-anchor="middle" fill="#111" font-weight="normal" font-family='"Liberation Serif","Noto Serif CJK SC","Noto Serif CJK TC",serif'  stroke="#111" stroke-width="0.70" stroke-linejoin="round">4</text>
<text transform="translate(567.07,732.75) scale(0.2457,0.3150)" font-size="20" text-anchor="middle" fill="#111" font-weight="normal" font-family='"Liberation Serif","Noto Serif CJK SC","Noto Serif CJK TC",serif'  stroke="#111" stroke-width="0.70" stroke-linejoin="round">4</text>
<text transform="translate(577.50,737.59) scale(0.2457,0.3150)" font-size="20" text-anchor="middle" fill="#111" font-weight="normal" font-family='"Liberation Serif","Noto Serif CJK SC","Noto Serif CJK TC",serif'  stroke="#111" stroke-width="0.70" stroke-linejoin="round">3</text>
<text transform="translate(587.93,742.42) scale(0.2457,0.3150)" font-size="20" text-anchor="middle" fill="#111" font-weight="normal" font-family='"Liberation Serif","Noto Serif CJK SC","Noto Serif CJK TC",serif'  stroke="#111" stroke-width="0.70" stroke-linejoin="round">2</text>
<text transform="translate(598.36,742.42) scale(0.2457,0.3150)" font-size="20" text-anchor="middle" fill="#111" font-weight="normal" font-family='"Liberation Serif","Noto Serif CJK SC","Noto Serif CJK TC",serif'  stroke="#111" stroke-width="0.70" stroke-linejoin="round">2</text>
<text transform="translate(608.79,732.75) scale(0.2457,0.3150)" font-size="20" text-anchor="middle" fill="#111" font-weight="normal" font-family='"Liberation Serif","Noto Serif CJK SC","Noto Serif CJK TC",serif'  stroke="#111" stroke-width="0.70" stroke-linejoin="round">4</text>
<text transform="translate(619.23,737.59) scale(0.2457,0.3150)" font-size="20" text-anchor="middle" fill="#111" font-weight="normal" font-family='"Liberation Serif","Noto Serif CJK SC","Noto Serif CJK TC",serif'  stroke="#111" stroke-width="0.70" stroke-linejoin="round">3</text>
<text transform="translate(629.66,732.75) scale(0.2457,0.3150)" font-size="20" text-anchor="middle" fill="#111" font-weight="normal" font-family='"Liberation Serif","Noto Serif CJK SC","Noto Serif CJK TC",serif'  stroke="#111" stroke-width="0.70" stroke-linejoin="round">4</text>
<text transform="translate(640.09,713.39) scale(0.2457,0.3150)" font-size="20" text-anchor="middle" fill="#111" font-weight="normal" font-family='"Liberation Serif","Noto Serif CJK SC","Noto Serif CJK TC",serif'  stroke="#111" stroke-width="0.70" stroke-linejoin="round">8</text>
<text transform="translate(650.52,732.75) scale(0.2457,0.3150)" font-size="20" text-anchor="middle" fill="#111" font-weight="normal" font-family='"Liberation Serif","Noto Serif CJK SC","Noto Serif CJK TC",serif'  stroke="#111" stroke-width="0.70" stroke-linejoin="round">4</text>
<text transform="translate(660.95,752.10) scale(0.2457,0.3150)" font-size="20" text-anchor="middle" fill="#111" font-weight="normal" font-family='"Liberation Serif","Noto Serif CJK SC","Noto Serif CJK TC",serif'  stroke="#111" stroke-width="0.70" stroke-linejoin="round">0</text>
<text transform="translate(671.38,742.42) scale(0.2457,0.3150)" font-size="20" text-anchor="middle" fill="#111" font-weight="normal" font-family='"Liberation Serif","Noto Serif CJK SC","Noto Serif CJK TC",serif'  stroke="#111" stroke-width="0.70" stroke-linejoin="round">2</text>
<text transform="translate(87.22,752.10) scale(0.2457,0.3150)" font-size="20" text-anchor="middle" fill="#111" font-weight="normal" font-family='"Liberation Serif","Noto Serif CJK SC","Noto Serif CJK TC",serif'  stroke="#111" stroke-width="0.70" stroke-linejoin="round">0</text>
<text transform="translate(97.65,752.10) scale(0.2457,0.3150)" font-size="20" text-anchor="middle" fill="#111" font-weight="normal" font-family='"Liberation Serif","Noto Serif CJK SC","Noto Serif CJK TC",serif'  stroke="#111" stroke-width="0.70" stroke-linejoin="round">0</text>
<text transform="translate(108.08,752.10) scale(0.2457,0.3150)" font-size="20" text-anchor="middle" fill="#111" font-weight="normal" font-family='"Liberation Serif","Noto Serif CJK SC","Noto Serif CJK TC",serif'  stroke="#111" stroke-width="0.70" stroke-linejoin="round">0</text>
<text transform="translate(118.51,752.10) scale(0.2457,0.3150)" font-size="20" text-anchor="middle" fill="#111" font-weight="normal" font-family='"Liberation Serif","Noto Serif CJK SC","Noto Serif CJK TC",serif'  stroke="#111" stroke-width="0.70" stroke-linejoin="round">0</text>
<text transform="translate(128.94,694.04) scale(0.2457,0.3150)" font-size="20" text-anchor="middle" fill="#111" font-weight="normal" font-family='"Liberation Serif","Noto Serif CJK SC","Noto Serif CJK TC",serif'  stroke="#111" stroke-width="0.70" stroke-linejoin="round">12</text>
<text transform="translate(139.37,669.85) scale(0.2457,0.3150)" font-size="20" text-anchor="middle" fill="#111" font-weight="normal" font-family='"Liberation Serif","Noto Serif CJK SC","Noto Serif CJK TC",serif'  stroke="#111" stroke-width="0.70" stroke-linejoin="round">17</text>
<text transform="translate(149.81,727.91) scale(0.2457,0.3150)" font-size="20" text-anchor="middle" fill="#111" font-weight="normal" font-family='"Liberation Serif","Noto Serif CJK SC","Noto Serif CJK TC",serif'  stroke="#111" stroke-width="0.70" stroke-linejoin="round">5</text>
<text transform="translate(160.24,752.10) scale(0.2457,0.3150)" font-size="20" text-anchor="middle" fill="#111" font-weight="normal" font-family='"Liberation Serif","Noto Serif CJK SC","Noto Serif CJK TC",serif'  stroke="#111" stroke-width="0.70" stroke-linejoin="round">0</text>
<text transform="translate(170.67,752.10) scale(0.2457,0.3150)" font-size="20" text-anchor="middle" fill="#111" font-weight="normal" font-family='"Liberation Serif","Noto Serif CJK SC","Noto Serif CJK TC",serif'  stroke="#111" stroke-width="0.70" stroke-linejoin="round">0</text>
<text transform="translate(181.10,679.52) scale(0.2457,0.3150)" font-size="20" text-anchor="middle" fill="#111" font-weight="normal" font-family='"Liberation Serif","Noto Serif CJK SC","Noto Serif CJK TC",serif'  stroke="#111" stroke-width="0.70" stroke-linejoin="round">15</text>
<text transform="translate(191.53,713.39) scale(0.2457,0.3150)" font-size="20" text-anchor="middle" fill="#111" font-weight="normal" font-family='"Liberation Serif","Noto Serif CJK SC","Noto Serif CJK TC",serif'  stroke="#111" stroke-width="0.70" stroke-linejoin="round">8</text>
<text transform="translate(201.96,737.59) scale(0.2457,0.3150)" font-size="20" text-anchor="middle" fill="#111" font-weight="normal" font-family='"Liberation Serif","Noto Serif CJK SC","Noto Serif CJK TC",serif'  stroke="#111" stroke-width="0.70" stroke-linejoin="round">3</text>
<text transform="translate(212.39,708.56) scale(0.2457,0.3150)" font-size="20" text-anchor="middle" fill="#111" font-weight="normal" font-family='"Liberation Serif","Noto Serif CJK SC","Noto Serif CJK TC",serif'  stroke="#111" stroke-width="0.70" stroke-linejoin="round">9</text>
<text transform="translate(222.83,718.23) scale(0.2457,0.3150)" font-size="20" text-anchor="middle" fill="#111" font-weight="normal" font-family='"Liberation Serif","Noto Serif CJK SC","Noto Serif CJK TC",serif'  stroke="#111" stroke-width="0.70" stroke-linejoin="round">7</text>
<text transform="translate(233.26,742.42) scale(0.2457,0.3150)" font-size="20" text-anchor="middle" fill="#111" font-weight="normal" font-family='"Liberation Serif","Noto Serif CJK SC","Noto Serif CJK TC",serif'  stroke="#111" stroke-width="0.70" stroke-linejoin="round">2</text>
<text transform="translate(243.69,752.10) scale(0.2457,0.3150)" font-size="20" text-anchor="middle" fill="#111" font-weight="normal" font-family='"Liberation Serif","Noto Serif CJK SC","Noto Serif CJK TC",serif'  stroke="#111" stroke-width="0.70" stroke-linejoin="round">0</text>
<text transform="translate(254.12,742.42) scale(0.2457,0.3150)" font-size="20" text-anchor="middle" fill="#111" font-weight="normal" font-family='"Liberation Serif","Noto Serif CJK SC","Noto Serif CJK TC",serif'  stroke="#111" stroke-width="0.70" stroke-linejoin="round">2</text>
<text transform="translate(264.55,742.42) scale(0.2457,0.3150)" font-size="20" text-anchor="middle" fill="#111" font-weight="normal" font-family='"Liberation Serif","Noto Serif CJK SC","Noto Serif CJK TC",serif'  stroke="#111" stroke-width="0.70" stroke-linejoin="round">2</text>
<text transform="translate(274.98,737.59) scale(0.2457,0.3150)" font-size="20" text-anchor="middle" fill="#111" font-weight="normal" font-family='"Liberation Serif","Noto Serif CJK SC","Noto Serif CJK TC",serif'  stroke="#111" stroke-width="0.70" stroke-linejoin="round">3</text>
<text transform="translate(285.42,732.75) scale(0.2457,0.3150)" font-size="20" text-anchor="middle" fill="#111" font-weight="normal" font-family='"Liberation Serif","Noto Serif CJK SC","Noto Serif CJK TC",serif'  stroke="#111" stroke-width="0.70" stroke-linejoin="round">4</text>
<text transform="translate(295.85,742.42) scale(0.2457,0.3150)" font-size="20" text-anchor="middle" fill="#111" font-weight="normal" font-family='"Liberation Serif","Noto Serif CJK SC","Noto Serif CJK TC",serif'  stroke="#111" stroke-width="0.70" stroke-linejoin="round">2</text>
<text transform="translate(306.28,747.26) scale(0.2457,0.3150)" font-size="20" text-anchor="middle" fill="#111" font-weight="normal" font-family='"Liberation Serif","Noto Serif CJK SC","Noto Serif CJK TC",serif'  stroke="#111" stroke-width="0.70" stroke-linejoin="round">1</text>
<text transform="translate(316.71,752.10) scale(0.2457,0.3150)" font-size="20" text-anchor="middle" fill="#111" font-weight="normal" font-family='"Liberation Serif","Noto Serif CJK SC","Noto Serif CJK TC",serif'  stroke="#111" stroke-width="0.70" stroke-linejoin="round">0</text>
<text transform="translate(327.14,747.26) scale(0.2457,0.3150)" font-size="20" text-anchor="middle" fill="#111" font-weight="normal" font-family='"Liberation Serif","Noto Serif CJK SC","Noto Serif CJK TC",serif'  stroke="#111" stroke-width="0.70" stroke-linejoin="round">1</text>
<text transform="translate(337.57,713.39) scale(0.2457,0.3150)" font-size="20" text-anchor="middle" fill="#111" font-weight="normal" font-family='"Liberation Serif","Noto Serif CJK SC","Noto Serif CJK TC",serif'  stroke="#111" stroke-width="0.70" stroke-linejoin="round">8</text>
<text transform="translate(348.01,752.10) scale(0.2457,0.3150)" font-size="20" text-anchor="middle" fill="#111" font-weight="normal" font-family='"Liberation Serif","Noto Serif CJK SC","Noto Serif CJK TC",serif'  stroke="#111" stroke-width="0.70" stroke-linejoin="round">0</text>
<text transform="translate(358.44,747.26) scale(0.2457,0.3150)" font-size="20" text-anchor="middle" fill="#111" font-weight="normal" font-family='"Liberation Serif","Noto Serif CJK SC","Noto Serif CJK TC",serif'  stroke="#111" stroke-width="0.70" stroke-linejoin="round">1</text>
<text transform="translate(368.87,747.26) scale(0.2457,0.3150)" font-size="20" text-anchor="middle" fill="#111" font-weight="normal" font-family='"Liberation Serif","Noto Serif CJK SC","Noto Serif CJK TC",serif'  stroke="#111" stroke-width="0.70" stroke-linejoin="round">1</text>
<text transform="translate(379.30,742.42) scale(0.2457,0.3150)" font-size="20" text-anchor="middle" fill="#111" font-weight="normal" font-family='"Liberation Serif","Noto Serif CJK SC","Noto Serif CJK TC",serif'  stroke="#111" stroke-width="0.70" stroke-linejoin="round">2</text>
<text transform="translate(389.73,752.10) scale(0.2457,0.3150)" font-size="20" text-anchor="middle" fill="#111" font-weight="normal" font-family='"Liberation Serif","Noto Serif CJK SC","Noto Serif CJK TC",serif'  stroke="#111" stroke-width="0.70" stroke-linejoin="round">0</text>
<text transform="translate(400.16,737.59) scale(0.2457,0.3150)" font-size="20" text-anchor="middle" fill="#111" font-weight="normal" font-family='"Liberation Serif","Noto Serif CJK SC","Noto Serif CJK TC",serif'  stroke="#111" stroke-width="0.70" stroke-linejoin="round">3</text>
<text transform="translate(410.59,747.26) scale(0.2457,0.3150)" font-size="20" text-anchor="middle" fill="#111" font-weight="normal" font-family='"Liberation Serif","Noto Serif CJK SC","Noto Serif CJK TC",serif'  stroke="#111" stroke-width="0.70" stroke-linejoin="round">1</text>
<text transform="translate(421.03,752.10) scale(0.2457,0.3150)" font-size="20" text-anchor="middle" fill="#111" font-weight="normal" font-family='"Liberation Serif","Noto Serif CJK SC","Noto Serif CJK TC",serif'  stroke="#111" stroke-width="0.70" stroke-linejoin="round">0</text>
<text transform="translate(431.46,747.26) scale(0.2457,0.3150)" font-size="20" text-anchor="middle" fill="#111" font-weight="normal" font-family='"Liberation Serif","Noto Serif CJK SC","Noto Serif CJK TC",serif'  stroke="#111" stroke-width="0.70" stroke-linejoin="round">1</text>
<text transform="translate(441.89,752.10) scale(0.2457,0.3150)" font-size="20" text-anchor="middle" fill="#111" font-weight="normal" font-family='"Liberation Serif","Noto Serif CJK SC","Noto Serif CJK TC",serif'  stroke="#111" stroke-width="0.70" stroke-linejoin="round">0</text>
<text transform="translate(452.32,752.10) scale(0.2457,0.3150)" font-size="20" text-anchor="middle" fill="#111" font-weight="normal" font-family='"Liberation Serif","Noto Serif CJK SC","Noto Serif CJK TC",serif'  stroke="#111" stroke-width="0.70" stroke-linejoin="round">0</text>
<text transform="translate(462.75,747.26) scale(0.2457,0.3150)" font-size="20" text-anchor="middle" fill="#111" font-weight="normal" font-family='"Liberation Serif","Noto Serif CJK SC","Noto Serif CJK TC",serif'  stroke="#111" stroke-width="0.70" stroke-linejoin="round">1</text>
<text transform="translate(473.18,737.59) scale(0.2457,0.3150)" font-size="20" text-anchor="middle" fill="#111" font-weight="normal" font-family='"Liberation Serif","Noto Serif CJK SC","Noto Serif CJK TC",serif'  stroke="#111" stroke-width="0.70" stroke-linejoin="round">3</text>
<text transform="translate(483.62,752.10) scale(0.2457,0.3150)" font-size="20" text-anchor="middle" fill="#111" font-weight="normal" font-family='"Liberation Serif","Noto Serif CJK SC","Noto Serif CJK TC",serif'  stroke="#111" stroke-width="0.70" stroke-linejoin="round">0</text>
<text transform="translate(494.05,752.10) scale(0.2457,0.3150)" font-size="20" text-anchor="middle" fill="#111" font-weight="normal" font-family='"Liberation Serif","Noto Serif CJK SC","Noto Serif CJK TC",serif'  stroke="#111" stroke-width="0.70" stroke-linejoin="round">0</text>
<text transform="translate(504.48,752.10) scale(0.2457,0.3150)" font-size="20" text-anchor="middle" fill="#111" font-weight="normal" font-family='"Liberation Serif","Noto Serif CJK SC","Noto Serif CJK TC",serif'  stroke="#111" stroke-width="0.70" stroke-linejoin="round">0</text>
<text transform="translate(514.91,718.23) scale(0.2457,0.3150)" font-size="20" text-anchor="middle" fill="#111" font-weight="normal" font-family='"Liberation Serif","Noto Serif CJK SC","Noto Serif CJK TC",serif'  stroke="#111" stroke-width="0.70" stroke-linejoin="round">7</text>
<text transform="translate(525.34,737.59) scale(0.2457,0.3150)" font-size="20" text-anchor="middle" fill="#111" font-weight="normal" font-family='"Liberation Serif","Noto Serif CJK SC","Noto Serif CJK TC",serif'  stroke="#111" stroke-width="0.70" stroke-linejoin="round">3</text>
<text transform="translate(535.77,742.42) scale(0.2457,0.3150)" font-size="20" text-anchor="middle" fill="#111" font-weight="normal" font-family='"Liberation Serif","Noto Serif CJK SC","Noto Serif CJK TC",serif'  stroke="#111" stroke-width="0.70" stroke-linejoin="round">2</text>
<text transform="translate(546.21,752.10) scale(0.2457,0.3150)" font-size="20" text-anchor="middle" fill="#111" font-weight="normal" font-family='"Liberation Serif","Noto Serif CJK SC","Noto Serif CJK TC",serif'  stroke="#111" stroke-width="0.70" stroke-linejoin="round">0</text>
<text transform="translate(556.64,727.91) scale(0.2457,0.3150)" font-size="20" text-anchor="middle" fill="#111" font-weight="normal" font-family='"Liberation Serif","Noto Serif CJK SC","Noto Serif CJK TC",serif'  stroke="#111" stroke-width="0.70" stroke-linejoin="round">5</text>
<text transform="translate(567.07,742.42) scale(0.2457,0.3150)" font-size="20" text-anchor="middle" fill="#111" font-weight="normal" font-family='"Liberation Serif","Noto Serif CJK SC","Noto Serif CJK TC",serif'  stroke="#111" stroke-width="0.70" stroke-linejoin="round">2</text>
<text transform="translate(577.50,727.91) scale(0.2457,0.3150)" font-size="20" text-anchor="middle" fill="#111" font-weight="normal" font-family='"Liberation Serif","Noto Serif CJK SC","Noto Serif CJK TC",serif'  stroke="#111" stroke-width="0.70" stroke-linejoin="round">5</text>
<text transform="translate(587.93,742.42) scale(0.2457,0.3150)" font-size="20" text-anchor="middle" fill="#111" font-weight="normal" font-family='"Liberation Serif","Noto Serif CJK SC","Noto Serif CJK TC",serif'  stroke="#111" stroke-width="0.70" stroke-linejoin="round">2</text>
<text transform="translate(598.36,742.42) scale(0.2457,0.3150)" font-size="20" text-anchor="middle" fill="#111" font-weight="normal" font-family='"Liberation Serif","Noto Serif CJK SC","Noto Serif CJK TC",serif'  stroke="#111" stroke-width="0.70" stroke-linejoin="round">2</text>
<text transform="translate(608.79,737.59) scale(0.2457,0.3150)" font-size="20" text-anchor="middle" fill="#111" font-weight="normal" font-family='"Liberation Serif","Noto Serif CJK SC","Noto Serif CJK TC",serif'  stroke="#111" stroke-width="0.70" stroke-linejoin="round">3</text>
<text transform="translate(619.23,742.42) scale(0.2457,0.3150)" font-size="20" text-anchor="middle" fill="#111" font-weight="normal" font-family='"Liberation Serif","Noto Serif CJK SC","Noto Serif CJK TC",serif'  stroke="#111" stroke-width="0.70" stroke-linejoin="round">2</text>
<text transform="translate(629.66,752.10) scale(0.2457,0.3150)" font-size="20" text-anchor="middle" fill="#111" font-weight="normal" font-family='"Liberation Serif","Noto Serif CJK SC","Noto Serif CJK TC",serif'  stroke="#111" stroke-width="0.70" stroke-linejoin="round">0</text>
<text transform="translate(640.09,742.42) scale(0.2457,0.3150)" font-size="20" text-anchor="middle" fill="#111" font-weight="normal" font-family='"Liberation Serif","Noto Serif CJK SC","Noto Serif CJK TC",serif'  stroke="#111" stroke-width="0.70" stroke-linejoin="round">2</text>
<text transform="translate(650.52,742.42) scale(0.2457,0.3150)" font-size="20" text-anchor="middle" fill="#111" font-weight="normal" font-family='"Liberation Serif","Noto Serif CJK SC","Noto Serif CJK TC",serif'  stroke="#111" stroke-width="0.70" stroke-linejoin="round">2</text>
<text transform="translate(660.95,737.59) scale(0.2457,0.3150)" font-size="20" text-anchor="middle" fill="#111" font-weight="normal" font-family='"Liberation Serif","Noto Serif CJK SC","Noto Serif CJK TC",serif'  stroke="#111" stroke-width="0.70" stroke-linejoin="round">3</text>
<text transform="translate(671.38,747.26) scale(0.2457,0.3150)" font-size="20" text-anchor="middle" fill="#111" font-weight="normal" font-family='"Liberation Serif","Noto Serif CJK SC","Noto Serif CJK TC",serif'  stroke="#111" stroke-width="0.70" stroke-linejoin="round">1</text>
<text transform="translate(89.22,763.80) rotate(-49) scale(0.2725,0.2725)" font-size="20" text-anchor="end" fill="#222" font-weight="normal" font-family='"Liberation Serif","Noto Serif CJK SC","Noto Serif CJK TC",serif'  stroke="#222" stroke-width="0.44" stroke-linejoin="round">96年第2季</text>
<text transform="translate(99.65,763.80) rotate(-49) scale(0.2725,0.2725)" font-size="20" text-anchor="end" fill="#222" font-weight="normal" font-family='"Liberation Serif","Noto Serif CJK SC","Noto Serif CJK TC",serif'  stroke="#222" stroke-width="0.44" stroke-linejoin="round">96年第3季</text>
<text transform="translate(110.08,763.80) rotate(-49) scale(0.2725,0.2725)" font-size="20" text-anchor="end" fill="#222" font-weight="normal" font-family='"Liberation Serif","Noto Serif CJK SC","Noto Serif CJK TC",serif'  stroke="#222" stroke-width="0.44" stroke-linejoin="round">96年第4季</text>
<text transform="translate(120.51,763.80) rotate(-49) scale(0.2725,0.2725)" font-size="20" text-anchor="end" fill="#222" font-weight="normal" font-family='"Liberation Serif","Noto Serif CJK SC","Noto Serif CJK TC",serif'  stroke="#222" stroke-width="0.44" stroke-linejoin="round">97年第1季</text>
<text transform="translate(130.94,763.80) rotate(-49) scale(0.2725,0.2725)" font-size="20" text-anchor="end" fill="#222" font-weight="normal" font-family='"Liberation Serif","Noto Serif CJK SC","Noto Serif CJK TC",serif'  stroke="#222" stroke-width="0.44" stroke-linejoin="round">97年第2季</text>
<text transform="translate(141.37,763.80) rotate(-49) scale(0.2725,0.2725)" font-size="20" text-anchor="end" fill="#222" font-weight="normal" font-family='"Liberation Serif","Noto Serif CJK SC","Noto Serif CJK TC",serif'  stroke="#222" stroke-width="0.44" stroke-linejoin="round">97年第3季</text>
<text transform="translate(151.81,763.80) rotate(-49) scale(0.2725,0.2725)" font-size="20" text-anchor="end" fill="#222" font-weight="normal" font-family='"Liberation Serif","Noto Serif CJK SC","Noto Serif CJK TC",serif'  stroke="#222" stroke-width="0.44" stroke-linejoin="round">97年第4季</text>
<text transform="translate(162.24,763.80) rotate(-49) scale(0.2725,0.2725)" font-size="20" text-anchor="end" fill="#222" font-weight="normal" font-family='"Liberation Serif","Noto Serif CJK SC","Noto Serif CJK TC",serif'  stroke="#222" stroke-width="0.44" stroke-linejoin="round">98年第1季</text>
<text transform="translate(172.67,763.80) rotate(-49) scale(0.2725,0.2725)" font-size="20" text-anchor="end" fill="#222" font-weight="normal" font-family='"Liberation Serif","Noto Serif CJK SC","Noto Serif CJK TC",serif'  stroke="#222" stroke-width="0.44" stroke-linejoin="round">98年第2季</text>
<text transform="translate(183.10,763.80) rotate(-49) scale(0.2725,0.2725)" font-size="20" text-anchor="end" fill="#222" font-weight="normal" font-family='"Liberation Serif","Noto Serif CJK SC","Noto Serif CJK TC",serif'  stroke="#222" stroke-width="0.44" stroke-linejoin="round">98年第3季</text>
<text transform="translate(193.53,763.80) rotate(-49) scale(0.2725,0.2725)" font-size="20" text-anchor="end" fill="#222" font-weight="normal" font-family='"Liberation Serif","Noto Serif CJK SC","Noto Serif CJK TC",serif'  stroke="#222" stroke-width="0.44" stroke-linejoin="round">98年第4季</text>
<text transform="translate(203.96,763.80) rotate(-49) scale(0.2725,0.2725)" font-size="20" text-anchor="end" fill="#222" font-weight="normal" font-family='"Liberation Serif","Noto Serif CJK SC","Noto Serif CJK TC",serif'  stroke="#222" stroke-width="0.44" stroke-linejoin="round">99年第1季</text>
<text transform="translate(214.39,763.80) rotate(-49) scale(0.2725,0.2725)" font-size="20" text-anchor="end" fill="#222" font-weight="normal" font-family='"Liberation Serif","Noto Serif CJK SC","Noto Serif CJK TC",serif'  stroke="#222" stroke-width="0.44" stroke-linejoin="round">99年第2季</text>
<text transform="translate(224.83,763.80) rotate(-49) scale(0.2725,0.2725)" font-size="20" text-anchor="end" fill="#222" font-weight="normal" font-family='"Liberation Serif","Noto Serif CJK SC","Noto Serif CJK TC",serif'  stroke="#222" stroke-width="0.44" stroke-linejoin="round">99年第3季</text>
<text transform="translate(235.26,763.80) rotate(-49) scale(0.2725,0.2725)" font-size="20" text-anchor="end" fill="#222" font-weight="normal" font-family='"Liberation Serif","Noto Serif CJK SC","Noto Serif CJK TC",serif'  stroke="#222" stroke-width="0.44" stroke-linejoin="round">99年第4季</text>
<text transform="translate(245.69,763.80) rotate(-49) scale(0.2725,0.2725)" font-size="20" text-anchor="end" fill="#222" font-weight="normal" font-family='"Liberation Serif","Noto Serif CJK SC","Noto Serif CJK TC",serif'  stroke="#222" stroke-width="0.44" stroke-linejoin="round">100年第1季</text>
<text transform="translate(256.12,763.80) rotate(-49) scale(0.2725,0.2725)" font-size="20" text-anchor="end" fill="#222" font-weight="normal" font-family='"Liberation Serif","Noto Serif CJK SC","Noto Serif CJK TC",serif'  stroke="#222" stroke-width="0.44" stroke-linejoin="round">100年第2季</text>
<text transform="translate(266.55,763.80) rotate(-49) scale(0.2725,0.2725)" font-size="20" text-anchor="end" fill="#222" font-weight="normal" font-family='"Liberation Serif","Noto Serif CJK SC","Noto Serif CJK TC",serif'  stroke="#222" stroke-width="0.44" stroke-linejoin="round">100年第3季</text>
<text transform="translate(276.98,763.80) rotate(-49) scale(0.2725,0.2725)" font-size="20" text-anchor="end" fill="#222" font-weight="normal" font-family='"Liberation Serif","Noto Serif CJK SC","Noto Serif CJK TC",serif'  stroke="#222" stroke-width="0.44" stroke-linejoin="round">100年第4季</text>
<text transform="translate(287.42,763.80) rotate(-49) scale(0.2725,0.2725)" font-size="20" text-anchor="end" fill="#222" font-weight="normal" font-family='"Liberation Serif","Noto Serif CJK SC","Noto Serif CJK TC",serif'  stroke="#222" stroke-width="0.44" stroke-linejoin="round">101年第1季</text>
<text transform="translate(297.85,763.80) rotate(-49) scale(0.2725,0.2725)" font-size="20" text-anchor="end" fill="#222" font-weight="normal" font-family='"Liberation Serif","Noto Serif CJK SC","Noto Serif CJK TC",serif'  stroke="#222" stroke-width="0.44" stroke-linejoin="round">101年第2季</text>
<text transform="translate(308.28,763.80) rotate(-49) scale(0.2725,0.2725)" font-size="20" text-anchor="end" fill="#222" font-weight="normal" font-family='"Liberation Serif","Noto Serif CJK SC","Noto Serif CJK TC",serif'  stroke="#222" stroke-width="0.44" stroke-linejoin="round">101年第3季</text>
<text transform="translate(318.71,763.80) rotate(-49) scale(0.2725,0.2725)" font-size="20" text-anchor="end" fill="#222" font-weight="normal" font-family='"Liberation Serif","Noto Serif CJK SC","Noto Serif CJK TC",serif'  stroke="#222" stroke-width="0.44" stroke-linejoin="round">101年第4季</text>
<text transform="translate(329.14,763.80) rotate(-49) scale(0.2725,0.2725)" font-size="20" text-anchor="end" fill="#222" font-weight="normal" font-family='"Liberation Serif","Noto Serif CJK SC","Noto Serif CJK TC",serif'  stroke="#222" stroke-width="0.44" stroke-linejoin="round">102年第1季</text>
<text transform="translate(339.57,763.80) rotate(-49) scale(0.2725,0.2725)" font-size="20" text-anchor="end" fill="#222" font-weight="normal" font-family='"Liberation Serif","Noto Serif CJK SC","Noto Serif CJK TC",serif'  stroke="#222" stroke-width="0.44" stroke-linejoin="round">102年第2季</text>
<text transform="translate(350.01,763.80) rotate(-49) scale(0.2725,0.2725)" font-size="20" text-anchor="end" fill="#222" font-weight="normal" font-family='"Liberation Serif","Noto Serif CJK SC","Noto Serif CJK TC",serif'  stroke="#222" stroke-width="0.44" stroke-linejoin="round">102年第3季</text>
<text transform="translate(360.44,763.80) rotate(-49) scale(0.2725,0.2725)" font-size="20" text-anchor="end" fill="#222" font-weight="normal" font-family='"Liberation Serif","Noto Serif CJK SC","Noto Serif CJK TC",serif'  stroke="#222" stroke-width="0.44" stroke-linejoin="round">102年第4季</text>
<text transform="translate(370.87,763.80) rotate(-49) scale(0.2725,0.2725)" font-size="20" text-anchor="end" fill="#222" font-weight="normal" font-family='"Liberation Serif","Noto Serif CJK SC","Noto Serif CJK TC",serif'  stroke="#222" stroke-width="0.44" stroke-linejoin="round">103年第1季</text>
<text transform="translate(381.30,763.80) rotate(-49) scale(0.2725,0.2725)" font-size="20" text-anchor="end" fill="#222" font-weight="normal" font-family='"Liberation Serif","Noto Serif CJK SC","Noto Serif CJK TC",serif'  stroke="#222" stroke-width="0.44" stroke-linejoin="round">103年第2季</text>
<text transform="translate(391.73,763.80) rotate(-49) scale(0.2725,0.2725)" font-size="20" text-anchor="end" fill="#222" font-weight="normal" font-family='"Liberation Serif","Noto Serif CJK SC","Noto Serif CJK TC",serif'  stroke="#222" stroke-width="0.44" stroke-linejoin="round">103年第3季</text>
<text transform="translate(402.16,763.80) rotate(-49) scale(0.2725,0.2725)" font-size="20" text-anchor="end" fill="#222" font-weight="normal" font-family='"Liberation Serif","Noto Serif CJK SC","Noto Serif CJK TC",serif'  stroke="#222" stroke-width="0.44" stroke-linejoin="round">103年第4季</text>
<text transform="translate(412.59,763.80) rotate(-49) scale(0.2725,0.2725)" font-size="20" text-anchor="end" fill="#222" font-weight="normal" font-family='"Liberation Serif","Noto Serif CJK SC","Noto Serif CJK TC",serif'  stroke="#222" stroke-width="0.44" stroke-linejoin="round">104年第1季</text>
<text transform="translate(423.03,763.80) rotate(-49) scale(0.2725,0.2725)" font-size="20" text-anchor="end" fill="#222" font-weight="normal" font-family='"Liberation Serif","Noto Serif CJK SC","Noto Serif CJK TC",serif'  stroke="#222" stroke-width="0.44" stroke-linejoin="round">104年第2季</text>
<text transform="translate(433.46,763.80) rotate(-49) scale(0.2725,0.2725)" font-size="20" text-anchor="end" fill="#222" font-weight="normal" font-family='"Liberation Serif","Noto Serif CJK SC","Noto Serif CJK TC",serif'  stroke="#222" stroke-width="0.44" stroke-linejoin="round">104年第3季</text>
<text transform="translate(443.89,763.80) rotate(-49) scale(0.2725,0.2725)" font-size="20" text-anchor="end" fill="#222" font-weight="normal" font-family='"Liberation Serif","Noto Serif CJK SC","Noto Serif CJK TC",serif'  stroke="#222" stroke-width="0.44" stroke-linejoin="round">104年第4季</text>
<text transform="translate(454.32,763.80) rotate(-49) scale(0.2725,0.2725)" font-size="20" text-anchor="end" fill="#222" font-weight="normal" font-family='"Liberation Serif","Noto Serif CJK SC","Noto Serif CJK TC",serif'  stroke="#222" stroke-width="0.44" stroke-linejoin="round">105年第1季</text>
<text transform="translate(464.75,763.80) rotate(-49) scale(0.2725,0.2725)" font-size="20" text-anchor="end" fill="#222" font-weight="normal" font-family='"Liberation Serif","Noto Serif CJK SC","Noto Serif CJK TC",serif'  stroke="#222" stroke-width="0.44" stroke-linejoin="round">105年第2季</text>
<text transform="translate(475.18,763.80) rotate(-49) scale(0.2725,0.2725)" font-size="20" text-anchor="end" fill="#222" font-weight="normal" font-family='"Liberation Serif","Noto Serif CJK SC","Noto Serif CJK TC",serif'  stroke="#222" stroke-width="0.44" stroke-linejoin="round">105年第3季</text>
<text transform="translate(485.62,763.80) rotate(-49) scale(0.2725,0.2725)" font-size="20" text-anchor="end" fill="#222" font-weight="normal" font-family='"Liberation Serif","Noto Serif CJK SC","Noto Serif CJK TC",serif'  stroke="#222" stroke-width="0.44" stroke-linejoin="round">105年第4季</text>
<text transform="translate(496.05,763.80) rotate(-49) scale(0.2725,0.2725)" font-size="20" text-anchor="end" fill="#222" font-weight="normal" font-family='"Liberation Serif","Noto Serif CJK SC","Noto Serif CJK TC",serif'  stroke="#222" stroke-width="0.44" stroke-linejoin="round">106年第1季</text>
<text transform="translate(506.48,763.80) rotate(-49) scale(0.2725,0.2725)" font-size="20" text-anchor="end" fill="#222" font-weight="normal" font-family='"Liberation Serif","Noto Serif CJK SC","Noto Serif CJK TC",serif'  stroke="#222" stroke-width="0.44" stroke-linejoin="round">106年第2季</text>
<text transform="translate(516.91,763.80) rotate(-49) scale(0.2725,0.2725)" font-size="20" text-anchor="end" fill="#222" font-weight="normal" font-family='"Liberation Serif","Noto Serif CJK SC","Noto Serif CJK TC",serif'  stroke="#222" stroke-width="0.44" stroke-linejoin="round">106年第3季</text>
<text transform="translate(527.34,763.80) rotate(-49) scale(0.2725,0.2725)" font-size="20" text-anchor="end" fill="#222" font-weight="normal" font-family='"Liberation Serif","Noto Serif CJK SC","Noto Serif CJK TC",serif'  stroke="#222" stroke-width="0.44" stroke-linejoin="round">106年第4季</text>
<text transform="translate(537.77,763.80) rotate(-49) scale(0.2725,0.2725)" font-size="20" text-anchor="end" fill="#222" font-weight="normal" font-family='"Liberation Serif","Noto Serif CJK SC","Noto Serif CJK TC",serif'  stroke="#222" stroke-width="0.44" stroke-linejoin="round">107年第1季</text>
<text transform="translate(548.21,763.80) rotate(-49) scale(0.2725,0.2725)" font-size="20" text-anchor="end" fill="#222" font-weight="normal" font-family='"Liberation Serif","Noto Serif CJK SC","Noto Serif CJK TC",serif'  stroke="#222" stroke-width="0.44" stroke-linejoin="round">107年第2季</text>
<text transform="translate(558.64,763.80) rotate(-49) scale(0.2725,0.2725)" font-size="20" text-anchor="end" fill="#222" font-weight="normal" font-family='"Liberation Serif","Noto Serif CJK SC","Noto Serif CJK TC",serif'  stroke="#222" stroke-width="0.44" stroke-linejoin="round">107年第3季</text>
<text transform="translate(569.07,763.80) rotate(-49) scale(0.2725,0.2725)" font-size="20" text-anchor="end" fill="#222" font-weight="normal" font-family='"Liberation Serif","Noto Serif CJK SC","Noto Serif CJK TC",serif'  stroke="#222" stroke-width="0.44" stroke-linejoin="round">107年第4季</text>
<text transform="translate(579.50,763.80) rotate(-49) scale(0.2725,0.2725)" font-size="20" text-anchor="end" fill="#222" font-weight="normal" font-family='"Liberation Serif","Noto Serif CJK SC","Noto Serif CJK TC",serif'  stroke="#222" stroke-width="0.44" stroke-linejoin="round">108年第1季</text>
<text transform="translate(589.93,763.80) rotate(-49) scale(0.2725,0.2725)" font-size="20" text-anchor="end" fill="#222" font-weight="normal" font-family='"Liberation Serif","Noto Serif CJK SC","Noto Serif CJK TC",serif'  stroke="#222" stroke-width="0.44" stroke-linejoin="round">108年第2季</text>
<text transform="translate(600.36,763.80) rotate(-49) scale(0.2725,0.2725)" font-size="20" text-anchor="end" fill="#222" font-weight="normal" font-family='"Liberation Serif","Noto Serif CJK SC","Noto Serif CJK TC",serif'  stroke="#222" stroke-width="0.44" stroke-linejoin="round">108年第3季</text>
<text transform="translate(610.79,763.80) rotate(-49) scale(0.2725,0.2725)" font-size="20" text-anchor="end" fill="#222" font-weight="normal" font-family='"Liberation Serif","Noto Serif CJK SC","Noto Serif CJK TC",serif'  stroke="#222" stroke-width="0.44" stroke-linejoin="round">108年第4季</text>
<text transform="translate(621.23,763.80) rotate(-49) scale(0.2725,0.2725)" font-size="20" text-anchor="end" fill="#222" font-weight="normal" font-family='"Liberation Serif","Noto Serif CJK SC","Noto Serif CJK TC",serif'  stroke="#222" stroke-width="0.44" stroke-linejoin="round">109年第1季</text>
<text transform="translate(631.66,763.80) rotate(-49) scale(0.2725,0.2725)" font-size="20" text-anchor="end" fill="#222" font-weight="normal" font-family='"Liberation Serif","Noto Serif CJK SC","Noto Serif CJK TC",serif'  stroke="#222" stroke-width="0.44" stroke-linejoin="round">109年第2季</text>
<text transform="translate(642.09,763.80) rotate(-49) scale(0.2725,0.2725)" font-size="20" text-anchor="end" fill="#222" font-weight="normal" font-family='"Liberation Serif","Noto Serif CJK SC","Noto Serif CJK TC",serif'  stroke="#222" stroke-width="0.44" stroke-linejoin="round">109年第3季</text>
<text transform="translate(652.52,763.80) rotate(-49) scale(0.2725,0.2725)" font-size="20" text-anchor="end" fill="#222" font-weight="normal" font-family='"Liberation Serif","Noto Serif CJK SC","Noto Serif CJK TC",serif'  stroke="#222" stroke-width="0.44" stroke-linejoin="round">109年第4季</text>
<text transform="translate(662.95,763.80) rotate(-49) scale(0.2725,0.2725)" font-size="20" text-anchor="end" fill="#222" font-weight="normal" font-family='"Liberation Serif","Noto Serif CJK SC","Noto Serif CJK TC",serif'  stroke="#222" stroke-width="0.44" stroke-linejoin="round">110年第1季</text>
<text transform="translate(673.38,763.80) rotate(-49) scale(0.2725,0.2725)" font-size="20" text-anchor="end" fill="#222" font-weight="normal" font-family='"Liberation Serif","Noto Serif CJK SC","Noto Serif CJK TC",serif'  stroke="#222" stroke-width="0.44" stroke-linejoin="round">110年第2季</text>
<text transform="translate(369.60,462.80) scale(0.5575,0.5575)" font-size="20" text-anchor="middle" fill="#404040" font-weight="normal" font-family='"Liberation Serif","Noto Serif CJK SC","Noto Serif CJK TC",serif' >指標生物歷年各季比較圖</text>
<rect x="83.8" y="472.3" width="338" height="20" fill="#fff" stroke="#333" stroke-width="0.9"/>
<line x1="97.1" x2="109.3" y1="482.2" y2="482.2" stroke="#4f81bd" stroke-width="1"/>
<circle cx="103.19999999999999" cy="482.2" r="2.05" fill="#4f81bd"/>
<text transform="translate(110.60,484.60) scale(0.3325,0.3325)" font-size="20" text-anchor="start" fill="#595959" font-weight="normal" font-family='"Liberation Serif","Noto Serif CJK SC","Noto Serif CJK TC",serif' >紅尾伯勞</text>
<line x1="150.6" x2="162.79999999999998" y1="482.2" y2="482.2" stroke="#c0504d" stroke-width="1"/>
<circle cx="156.7" cy="482.2" r="2.05" fill="#c0504d"/>
<text transform="translate(164.10,484.60) scale(0.3325,0.3325)" font-size="20" text-anchor="start" fill="#595959" font-weight="normal" font-family='"Liberation Serif","Noto Serif CJK SC","Noto Serif CJK TC",serif' >斯氏繡眼</text>
<line x1="204.2" x2="216.39999999999998" y1="482.2" y2="482.2" stroke="#9bbb59" stroke-width="1"/>
<circle cx="210.29999999999998" cy="482.2" r="2.05" fill="#9bbb59"/>
<text transform="translate(217.70,484.60) scale(0.3325,0.3325)" font-size="20" text-anchor="start" fill="#595959" font-weight="normal" font-family='"Liberation Serif","Noto Serif CJK SC","Noto Serif CJK TC",serif' >白頭翁</text>
<line x1="250.7" x2="262.9" y1="482.2" y2="482.2" stroke="#8064a2" stroke-width="1"/>
<circle cx="256.8" cy="482.2" r="2.05" fill="#8064a2"/>
<text transform="translate(264.20,484.60) scale(0.3325,0.3325)" font-size="20" text-anchor="start" fill="#595959" font-weight="normal" font-family='"Liberation Serif","Noto Serif CJK SC","Noto Serif CJK TC",serif' >盤古蟾蜍</text>
<line x1="303.9" x2="316.09999999999997" y1="482.2" y2="482.2" stroke="#4bacc6" stroke-width="1"/>
<circle cx="310.0" cy="482.2" r="2.05" fill="#4bacc6"/>
<text transform="translate(317.40,484.60) scale(0.3325,0.3325)" font-size="20" text-anchor="start" fill="#595959" font-weight="normal" font-family='"Liberation Serif","Noto Serif CJK SC","Noto Serif CJK TC",serif' >青帶鳳蝶</text>
<line x1="357.3" x2="369.5" y1="482.2" y2="482.2" stroke="#f79646" stroke-width="1"/>
<circle cx="363.40000000000003" cy="482.2" r="2.05" fill="#f79646"/>
<text transform="translate(370.80,484.60) scale(0.3325,0.3325)" font-size="20" text-anchor="start" fill="#595959" font-weight="normal" font-family='"Liberation Serif","Noto Serif CJK SC","Noto Serif CJK TC",serif' >淡小紋青斑蝶</text>
<text transform="translate(65.60,600.35) scale(0.3400,0.3400)" font-size="20" text-anchor="middle" fill="#484848" font-weight="normal" font-family='"Liberation Serif","Noto Serif CJK SC","Noto Serif CJK TC",serif' >數</text>
<text transform="translate(65.60,607.15) scale(0.3400,0.3400)" font-size="20" text-anchor="middle" fill="#484848" font-weight="normal" font-family='"Liberation Serif","Noto Serif CJK SC","Noto Serif CJK TC",serif' >量</text>
<text transform="translate(63.70,610.28) rotate(90) scale(0.3400,0.3400)" font-size="20" text-anchor="middle" fill="#484848" font-weight="normal" font-family='"Liberation Serif","Noto Serif CJK SC","Noto Serif CJK TC",serif' >(</text>
<text transform="translate(65.60,617.69) scale(0.3400,0.3400)" font-size="20" text-anchor="middle" fill="#484848" font-weight="normal" font-family='"Liberation Serif","Noto Serif CJK SC","Noto Serif CJK TC",serif' >隻</text>
<text transform="translate(65.60,624.49) scale(0.3400,0.3400)" font-size="20" text-anchor="middle" fill="#484848" font-weight="normal" font-family='"Liberation Serif","Noto Serif CJK SC","Noto Serif CJK TC",serif' >次</text>
<text transform="translate(63.70,627.62) rotate(90) scale(0.3400,0.3400)" font-size="20" text-anchor="middle" fill="#484848" font-weight="normal" font-family='"Liberation Serif","Noto Serif CJK SC","Noto Serif CJK TC",serif' >)</text>
<text y="823.6" fill="#1a1a1a"><tspan x="236.3" font-family='"Noto Sans CJK TC","Noto Sans CJK SC",sans-serif' font-weight="300" font-size="16.2" letter-spacing="1.25">圖</tspan><tspan x="258.20" font-size="17.2" font-family='"Liberation Serif",serif'>1.1-6</tspan><tspan x="299.70" font-family='"Noto Sans CJK TC","Noto Sans CJK SC",sans-serif' font-weight="300" font-size="16.2" letter-spacing="1.25">指標生物歷年各季比較圖</tspan></text>
<text x="368.5" y="993.3" font-size="12.5" text-anchor="middle" fill="#000" font-family='"Liberation Serif","Noto Serif CJK SC","Noto Serif CJK TC",serif'>34</text>
</svg>
</body></html>
